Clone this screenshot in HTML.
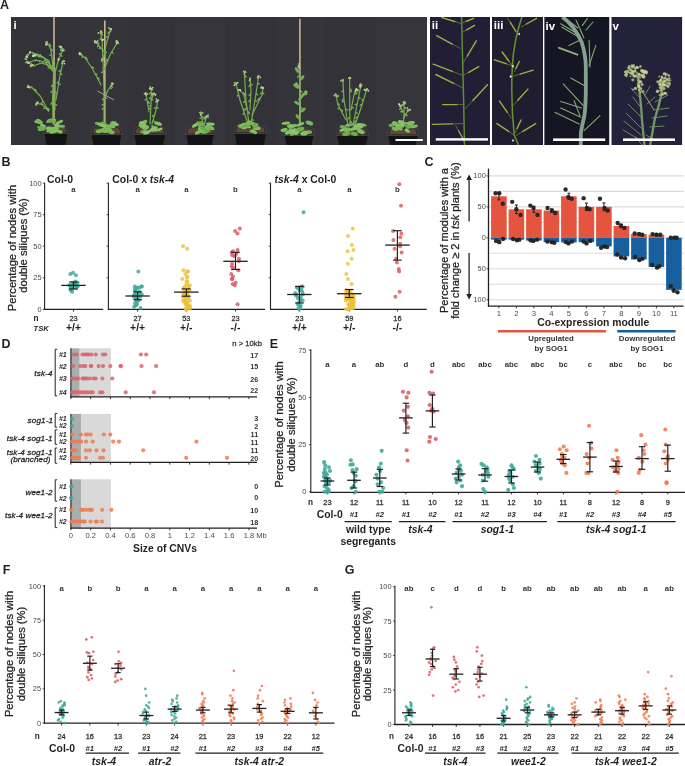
<!DOCTYPE html>
<html><head><meta charset="utf-8"><style>
html,body{margin:0;padding:0;background:#fff;width:685px;height:766px;overflow:hidden}
svg{display:block;filter:blur(0.3px)}
text{font-family:"Liberation Sans",sans-serif}
</style></head><body>
<svg width="685" height="766" viewBox="0 0 685 766">
<text x="0.00" y="9.20" font-size="12.5" font-weight="bold" fill="#231f20">A</text>
<defs><clipPath id="c1"><rect x="11" y="17" width="416" height="128"/></clipPath><clipPath id="c2"><rect x="430" y="17" width="60" height="128"/></clipPath><clipPath id="c3"><rect x="492" y="17" width="51" height="128"/></clipPath><clipPath id="c4"><rect x="544.2" y="17" width="65.3" height="128"/></clipPath><clipPath id="c5"><rect x="611.3" y="17" width="71" height="128"/></clipPath></defs>
<g clip-path="url(#c1)">
<rect x="11.00" y="17.00" width="416.00" height="128.00" fill="#333339"/>
<rect x="11.00" y="17.00" width="70.00" height="128.00" fill="#323238"/>
<rect x="81.00" y="17.00" width="47.00" height="128.00" fill="#34343a"/>
<rect x="128.00" y="17.00" width="47.00" height="128.00" fill="#323238"/>
<rect x="175.00" y="17.00" width="50.00" height="128.00" fill="#35353b"/>
<rect x="225.00" y="17.00" width="50.50" height="128.00" fill="#323238"/>
<rect x="275.50" y="17.00" width="50.50" height="128.00" fill="#34343a"/>
<rect x="326.00" y="17.00" width="50.00" height="128.00" fill="#323238"/>
<rect x="376.00" y="17.00" width="51.00" height="128.00" fill="#35353b"/>
<line x1="54.00" y1="17.00" x2="54.00" y2="124.40" stroke="#c9b68f" stroke-width="1.6"/>
<path d="M53.0 124.0 L52.5 100.0 L53.6 72.4 L48.6 60.6 L40.2 55.6 L30.1 52.3 L26.8 57.3" fill="none" stroke="#76ae50" stroke-width="1.2" stroke-linejoin="round" stroke-linecap="round"/>
<ellipse cx="54.0" cy="113.1" rx="1.5" ry="0.7" fill="#7ab257" transform="rotate(38 54.0 113.1)"/>
<ellipse cx="51.4" cy="103.5" rx="1.5" ry="0.7" fill="#7ab257" transform="rotate(-53 51.4 103.5)"/>
<ellipse cx="51.9" cy="85.9" rx="1.5" ry="0.7" fill="#7ab257" transform="rotate(-56 51.9 85.9)"/>
<ellipse cx="51.6" cy="91.6" rx="1.5" ry="0.7" fill="#7ab257" transform="rotate(-38 51.6 91.6)"/>
<ellipse cx="47.9" cy="61.9" rx="1.5" ry="0.7" fill="#7ab257" transform="rotate(-36 47.9 61.9)"/>
<ellipse cx="52.8" cy="67.7" rx="1.5" ry="0.7" fill="#7ab257" transform="rotate(46 52.8 67.7)"/>
<ellipse cx="42.2" cy="57.5" rx="1.5" ry="0.7" fill="#7ab257" transform="rotate(-35 42.2 57.5)"/>
<ellipse cx="40.4" cy="56.4" rx="1.5" ry="0.7" fill="#7ab257" transform="rotate(-58 40.4 56.4)"/>
<ellipse cx="37.1" cy="55.0" rx="1.5" ry="0.7" fill="#7ab257" transform="rotate(-36 37.1 55.0)"/>
<ellipse cx="33.5" cy="53.0" rx="1.5" ry="0.7" fill="#7ab257" transform="rotate(38 33.5 53.0)"/>
<ellipse cx="26.1" cy="56.5" rx="1.5" ry="0.7" fill="#7ab257" transform="rotate(-34 26.1 56.5)"/>
<ellipse cx="27.3" cy="54.8" rx="1.5" ry="0.7" fill="#7ab257" transform="rotate(-42 27.3 54.8)"/>
<circle cx="26.41" cy="59.46" r="0.9" fill="#a9cc86"/>
<circle cx="26.62" cy="56.63" r="0.9" fill="#a9cc86"/>
<circle cx="26.73" cy="57.29" r="0.9" fill="#8fbf68"/>
<circle cx="26.89" cy="56.42" r="0.9" fill="#c2d9a6"/>
<circle cx="25.21" cy="58.68" r="0.9" fill="#8fbf68"/>
<circle cx="27.26" cy="57.30" r="0.9" fill="#a9cc86"/>
<circle cx="38.47" cy="55.93" r="0.9" fill="#c2d9a6"/>
<circle cx="39.31" cy="56.09" r="0.9" fill="#a9cc86"/>
<circle cx="40.29" cy="55.12" r="0.9" fill="#a9cc86"/>
<circle cx="30.09" cy="52.33" r="0.9" fill="#c2d9a6"/>
<circle cx="30.11" cy="52.09" r="0.9" fill="#a9cc86"/>
<circle cx="30.09" cy="52.28" r="0.9" fill="#c2d9a6"/>
<path d="M53.6 72.4 L51.1 50.6 L48.6 44.7 L46.0 43.0" fill="none" stroke="#76ae50" stroke-width="1.2" stroke-linejoin="round" stroke-linecap="round"/>
<ellipse cx="50.4" cy="55.0" rx="1.5" ry="0.7" fill="#7ab257" transform="rotate(-33 50.4 55.0)"/>
<ellipse cx="51.9" cy="68.3" rx="1.5" ry="0.7" fill="#7ab257" transform="rotate(-21 51.9 68.3)"/>
<ellipse cx="50.4" cy="46.1" rx="1.5" ry="0.7" fill="#7ab257" transform="rotate(46 50.4 46.1)"/>
<ellipse cx="52.0" cy="49.9" rx="1.5" ry="0.7" fill="#7ab257" transform="rotate(60 52.0 49.9)"/>
<ellipse cx="49.8" cy="44.7" rx="1.5" ry="0.7" fill="#7ab257" transform="rotate(60 49.8 44.7)"/>
<ellipse cx="47.3" cy="44.7" rx="1.5" ry="0.7" fill="#7ab257" transform="rotate(-44 47.3 44.7)"/>
<circle cx="46.86" cy="41.88" r="0.9" fill="#a9cc86"/>
<circle cx="46.31" cy="43.08" r="0.9" fill="#c2d9a6"/>
<circle cx="45.91" cy="44.70" r="0.9" fill="#c2d9a6"/>
<circle cx="46.41" cy="42.26" r="0.9" fill="#a9cc86"/>
<circle cx="47.08" cy="43.69" r="0.9" fill="#a9cc86"/>
<circle cx="46.81" cy="43.08" r="0.9" fill="#8fbf68"/>
<path d="M55.0 110.0 L55.3 72.4 L58.6 59.0 L62.8 50.6 L61.0 47.0" fill="none" stroke="#76ae50" stroke-width="1.2" stroke-linejoin="round" stroke-linecap="round"/>
<ellipse cx="56.3" cy="93.0" rx="1.5" ry="0.7" fill="#7ab257" transform="rotate(53 56.3 93.0)"/>
<ellipse cx="56.2" cy="104.9" rx="1.5" ry="0.7" fill="#7ab257" transform="rotate(27 56.2 104.9)"/>
<ellipse cx="54.6" cy="70.3" rx="1.5" ry="0.7" fill="#7ab257" transform="rotate(-27 54.6 70.3)"/>
<ellipse cx="54.9" cy="69.1" rx="1.5" ry="0.7" fill="#7ab257" transform="rotate(-54 54.9 69.1)"/>
<ellipse cx="60.0" cy="53.7" rx="1.5" ry="0.7" fill="#7ab257" transform="rotate(-33 60.0 53.7)"/>
<ellipse cx="61.4" cy="55.7" rx="1.5" ry="0.7" fill="#7ab257" transform="rotate(44 61.4 55.7)"/>
<ellipse cx="60.8" cy="49.1" rx="1.5" ry="0.7" fill="#7ab257" transform="rotate(-56 60.8 49.1)"/>
<ellipse cx="63.1" cy="48.8" rx="1.5" ry="0.7" fill="#7ab257" transform="rotate(30 63.1 48.8)"/>
<circle cx="60.84" cy="46.46" r="0.9" fill="#8fbf68"/>
<circle cx="59.86" cy="47.06" r="0.9" fill="#8fbf68"/>
<circle cx="61.28" cy="46.96" r="0.9" fill="#c2d9a6"/>
<circle cx="59.25" cy="46.32" r="0.9" fill="#8fbf68"/>
<circle cx="61.42" cy="47.21" r="0.9" fill="#a9cc86"/>
<circle cx="61.00" cy="46.85" r="0.9" fill="#c2d9a6"/>
<circle cx="58.50" cy="59.04" r="0.9" fill="#a9cc86"/>
<circle cx="58.41" cy="59.94" r="0.9" fill="#a9cc86"/>
<circle cx="58.81" cy="59.14" r="0.9" fill="#c2d9a6"/>
<circle cx="63.97" cy="50.46" r="0.9" fill="#8fbf68"/>
<circle cx="61.11" cy="50.37" r="0.9" fill="#8fbf68"/>
<circle cx="62.83" cy="50.61" r="0.9" fill="#c2d9a6"/>
<path d="M56.0 100.0 L60.0 75.0 L63.0 62.0" fill="none" stroke="#76ae50" stroke-width="1.2" stroke-linejoin="round" stroke-linecap="round"/>
<ellipse cx="57.6" cy="82.5" rx="1.5" ry="0.7" fill="#7ab257" transform="rotate(-59 57.6 82.5)"/>
<ellipse cx="59.7" cy="84.1" rx="1.5" ry="0.7" fill="#7ab257" transform="rotate(23 59.7 84.1)"/>
<ellipse cx="59.7" cy="71.0" rx="1.5" ry="0.7" fill="#7ab257" transform="rotate(-20 59.7 71.0)"/>
<ellipse cx="61.4" cy="74.0" rx="1.5" ry="0.7" fill="#7ab257" transform="rotate(49 61.4 74.0)"/>
<circle cx="64.31" cy="61.05" r="0.9" fill="#8fbf68"/>
<circle cx="64.46" cy="63.54" r="0.9" fill="#c2d9a6"/>
<circle cx="62.10" cy="63.21" r="0.9" fill="#a9cc86"/>
<circle cx="63.63" cy="61.34" r="0.9" fill="#a9cc86"/>
<circle cx="63.82" cy="61.05" r="0.9" fill="#8fbf68"/>
<circle cx="62.56" cy="61.29" r="0.9" fill="#a9cc86"/>
<path d="M48.6 111.0 L40.2 96.0 L31.8 87.5 L28.4 86.7" fill="none" stroke="#76ae50" stroke-width="1.2" stroke-linejoin="round" stroke-linecap="round"/>
<ellipse cx="42.3" cy="101.9" rx="1.5" ry="0.7" fill="#7ab257" transform="rotate(-56 42.3 101.9)"/>
<ellipse cx="48.8" cy="109.3" rx="1.5" ry="0.7" fill="#7ab257" transform="rotate(55 48.8 109.3)"/>
<ellipse cx="35.3" cy="89.8" rx="1.5" ry="0.7" fill="#7ab257" transform="rotate(57 35.3 89.8)"/>
<ellipse cx="35.6" cy="90.1" rx="1.5" ry="0.7" fill="#7ab257" transform="rotate(38 35.6 90.1)"/>
<ellipse cx="27.7" cy="86.8" rx="1.5" ry="0.7" fill="#7ab257" transform="rotate(-39 27.7 86.8)"/>
<ellipse cx="31.3" cy="87.1" rx="1.5" ry="0.7" fill="#7ab257" transform="rotate(44 31.3 87.1)"/>
<circle cx="27.90" cy="86.76" r="0.9" fill="#8fbf68"/>
<circle cx="29.70" cy="87.82" r="0.9" fill="#8fbf68"/>
<circle cx="28.89" cy="86.43" r="0.9" fill="#a9cc86"/>
<circle cx="28.19" cy="86.93" r="0.9" fill="#8fbf68"/>
<circle cx="28.51" cy="87.06" r="0.9" fill="#c2d9a6"/>
<circle cx="27.88" cy="85.88" r="0.9" fill="#a9cc86"/>
<path d="M48.6 111.0 L41.9 104.3 L36.8 103.4" fill="none" stroke="#76ae50" stroke-width="1.2" stroke-linejoin="round" stroke-linecap="round"/>
<ellipse cx="47.6" cy="108.8" rx="1.5" ry="0.7" fill="#7ab257" transform="rotate(28 47.6 108.8)"/>
<ellipse cx="44.5" cy="108.1" rx="1.5" ry="0.7" fill="#7ab257" transform="rotate(-25 44.5 108.1)"/>
<ellipse cx="41.1" cy="104.0" rx="1.5" ry="0.7" fill="#7ab257" transform="rotate(28 41.1 104.0)"/>
<ellipse cx="42.4" cy="104.2" rx="1.5" ry="0.7" fill="#7ab257" transform="rotate(53 42.4 104.2)"/>
<circle cx="37.71" cy="102.13" r="0.9" fill="#c2d9a6"/>
<circle cx="36.91" cy="103.18" r="0.9" fill="#c2d9a6"/>
<circle cx="36.73" cy="103.87" r="0.9" fill="#c2d9a6"/>
<circle cx="35.95" cy="104.17" r="0.9" fill="#8fbf68"/>
<circle cx="36.06" cy="105.09" r="0.9" fill="#8fbf68"/>
<circle cx="36.64" cy="103.45" r="0.9" fill="#a9cc86"/>
<path d="M52.0 70.0 L45.0 62.0 L35.0 60.0 L28.0 63.0" fill="none" stroke="#76ae50" stroke-width="1.2" stroke-linejoin="round" stroke-linecap="round"/>
<ellipse cx="48.9" cy="67.8" rx="1.5" ry="0.7" fill="#7ab257" transform="rotate(-33 48.9 67.8)"/>
<ellipse cx="51.2" cy="67.8" rx="1.5" ry="0.7" fill="#7ab257" transform="rotate(32 51.2 67.8)"/>
<ellipse cx="35.9" cy="60.4" rx="1.5" ry="0.7" fill="#7ab257" transform="rotate(-34 35.9 60.4)"/>
<ellipse cx="39.7" cy="61.2" rx="1.5" ry="0.7" fill="#7ab257" transform="rotate(-59 39.7 61.2)"/>
<ellipse cx="28.0" cy="62.5" rx="1.5" ry="0.7" fill="#7ab257" transform="rotate(-29 28.0 62.5)"/>
<ellipse cx="28.2" cy="62.4" rx="1.5" ry="0.7" fill="#7ab257" transform="rotate(-42 28.2 62.4)"/>
<circle cx="27.01" cy="61.95" r="0.9" fill="#c2d9a6"/>
<circle cx="29.45" cy="62.61" r="0.9" fill="#a9cc86"/>
<circle cx="28.25" cy="62.50" r="0.9" fill="#8fbf68"/>
<circle cx="29.04" cy="63.07" r="0.9" fill="#8fbf68"/>
<circle cx="28.49" cy="63.11" r="0.9" fill="#c2d9a6"/>
<circle cx="25.98" cy="62.49" r="0.9" fill="#8fbf68"/>
<path d="M53.0 68.0 L44.0 58.0 L36.0 54.0 L33.0 56.0" fill="none" stroke="#76ae50" stroke-width="1.2" stroke-linejoin="round" stroke-linecap="round"/>
<ellipse cx="46.3" cy="61.9" rx="1.5" ry="0.7" fill="#7ab257" transform="rotate(-44 46.3 61.9)"/>
<ellipse cx="44.7" cy="60.1" rx="1.5" ry="0.7" fill="#7ab257" transform="rotate(-57 44.7 60.1)"/>
<ellipse cx="37.7" cy="54.3" rx="1.5" ry="0.7" fill="#7ab257" transform="rotate(25 37.7 54.3)"/>
<ellipse cx="39.2" cy="56.2" rx="1.5" ry="0.7" fill="#7ab257" transform="rotate(-45 39.2 56.2)"/>
<ellipse cx="35.5" cy="55.1" rx="1.5" ry="0.7" fill="#7ab257" transform="rotate(39 35.5 55.1)"/>
<ellipse cx="32.8" cy="55.3" rx="1.5" ry="0.7" fill="#7ab257" transform="rotate(-56 32.8 55.3)"/>
<circle cx="34.17" cy="54.69" r="0.9" fill="#8fbf68"/>
<circle cx="33.38" cy="56.37" r="0.9" fill="#c2d9a6"/>
<circle cx="35.13" cy="55.74" r="0.9" fill="#8fbf68"/>
<circle cx="35.03" cy="55.70" r="0.9" fill="#c2d9a6"/>
<circle cx="34.59" cy="54.99" r="0.9" fill="#c2d9a6"/>
<circle cx="32.92" cy="56.00" r="0.9" fill="#c2d9a6"/>
<path d="M50.0 66.0 L42.0 63.0 L32.0 66.0" fill="none" stroke="#76ae50" stroke-width="1.2" stroke-linejoin="round" stroke-linecap="round"/>
<ellipse cx="46.8" cy="64.3" rx="1.5" ry="0.7" fill="#7ab257" transform="rotate(39 46.8 64.3)"/>
<ellipse cx="48.6" cy="65.9" rx="1.5" ry="0.7" fill="#7ab257" transform="rotate(-43 48.6 65.9)"/>
<ellipse cx="42.8" cy="63.1" rx="1.5" ry="0.7" fill="#7ab257" transform="rotate(47 42.8 63.1)"/>
<ellipse cx="34.0" cy="65.7" rx="1.5" ry="0.7" fill="#7ab257" transform="rotate(26 34.0 65.7)"/>
<circle cx="30.42" cy="65.84" r="0.9" fill="#8fbf68"/>
<circle cx="31.23" cy="64.07" r="0.9" fill="#c2d9a6"/>
<circle cx="30.67" cy="65.28" r="0.9" fill="#a9cc86"/>
<circle cx="30.86" cy="66.46" r="0.9" fill="#8fbf68"/>
<circle cx="31.67" cy="65.86" r="0.9" fill="#8fbf68"/>
<circle cx="32.68" cy="64.98" r="0.9" fill="#c2d9a6"/>
<path d="M44.5 133.5 L67.4 133.5 L65.4 145 L46.5 145 Z" fill="#141417" stroke="none" stroke-width="1"/>
<path d="M45.5 126.0 L66.4 126.0 L68.4 133.5 L43.5 133.5 Z" fill="#2a292d" stroke="#4a494e" stroke-width="0.8"/>
<path d="M47.0 127.2 L64.9 127.2 L66.4 132.2 L45.5 132.2 Z" fill="#5e4738" stroke="none" stroke-width="1"/>
<ellipse cx="53.5" cy="131.5" rx="4.5" ry="1.8" fill="#82bf60" transform="rotate(-14 53.5 131.5)"/>
<ellipse cx="61.2" cy="126.3" rx="3.9" ry="1.5" fill="#79b858" transform="rotate(3 61.2 126.3)"/>
<ellipse cx="51.7" cy="120.3" rx="4.7" ry="1.7" fill="#79b858" transform="rotate(-7 51.7 120.3)"/>
<ellipse cx="48.8" cy="128.3" rx="2.9" ry="1.7" fill="#8cc46a" transform="rotate(-6 48.8 128.3)"/>
<ellipse cx="43.0" cy="125.7" rx="3.1" ry="1.6" fill="#8cc46a" transform="rotate(22 43.0 125.7)"/>
<ellipse cx="49.6" cy="121.3" rx="3.6" ry="1.3" fill="#79b858" transform="rotate(-17 49.6 121.3)"/>
<ellipse cx="36.9" cy="121.9" rx="2.8" ry="1.5" fill="#82bf60" transform="rotate(16 36.9 121.9)"/>
<ellipse cx="52.1" cy="121.3" rx="4.3" ry="1.4" fill="#6fac4c" transform="rotate(1 52.1 121.3)"/>
<ellipse cx="54.7" cy="128.4" rx="4.6" ry="1.3" fill="#82bf60" transform="rotate(9 54.7 128.4)"/>
<ellipse cx="50.0" cy="130.4" rx="3.9" ry="1.5" fill="#82bf60" transform="rotate(-20 50.0 130.4)"/>
<ellipse cx="42.0" cy="128.9" rx="4.4" ry="2.0" fill="#6fac4c" transform="rotate(-13 42.0 128.9)"/>
<ellipse cx="59.2" cy="122.3" rx="4.4" ry="1.5" fill="#82bf60" transform="rotate(-28 59.2 122.3)"/>
<ellipse cx="39.4" cy="121.1" rx="3.6" ry="1.6" fill="#82bf60" transform="rotate(31 39.4 121.1)"/>
<ellipse cx="41.2" cy="127.5" rx="4.4" ry="1.4" fill="#6fac4c" transform="rotate(5 41.2 127.5)"/>
<ellipse cx="59.7" cy="131.6" rx="3.0" ry="1.7" fill="#82bf60" transform="rotate(18 59.7 131.6)"/>
<ellipse cx="56.9" cy="125.8" rx="2.8" ry="1.9" fill="#8cc46a" transform="rotate(8 56.9 125.8)"/>
<ellipse cx="39.8" cy="122.2" rx="3.2" ry="2.0" fill="#79b858" transform="rotate(34 39.8 122.2)"/>
<line x1="104.80" y1="20.40" x2="104.80" y2="126.00" stroke="#c9b68f" stroke-width="1.6"/>
<path d="M104.0 125.0 L104.0 90.0 L103.0 60.0 L102.0 40.0 L100.6 33.0" fill="none" stroke="#76ae50" stroke-width="1.2" stroke-linejoin="round" stroke-linecap="round"/>
<ellipse cx="102.8" cy="104.7" rx="1.5" ry="0.7" fill="#7ab257" transform="rotate(-22 102.8 104.7)"/>
<ellipse cx="102.8" cy="108.8" rx="1.5" ry="0.7" fill="#7ab257" transform="rotate(-47 102.8 108.8)"/>
<ellipse cx="104.7" cy="76.0" rx="1.5" ry="0.7" fill="#7ab257" transform="rotate(37 104.7 76.0)"/>
<ellipse cx="102.2" cy="72.0" rx="1.5" ry="0.7" fill="#7ab257" transform="rotate(-35 102.2 72.0)"/>
<ellipse cx="101.8" cy="59.2" rx="1.5" ry="0.7" fill="#7ab257" transform="rotate(-53 101.8 59.2)"/>
<ellipse cx="103.7" cy="50.9" rx="1.5" ry="0.7" fill="#7ab257" transform="rotate(36 103.7 50.9)"/>
<ellipse cx="100.5" cy="38.6" rx="1.5" ry="0.7" fill="#7ab257" transform="rotate(-56 100.5 38.6)"/>
<ellipse cx="102.1" cy="34.5" rx="1.5" ry="0.7" fill="#7ab257" transform="rotate(56 102.1 34.5)"/>
<circle cx="101.09" cy="31.53" r="0.9" fill="#8fbf68"/>
<circle cx="101.76" cy="32.54" r="0.9" fill="#a9cc86"/>
<circle cx="98.44" cy="32.94" r="0.9" fill="#c2d9a6"/>
<circle cx="100.55" cy="33.25" r="0.9" fill="#8fbf68"/>
<circle cx="100.91" cy="31.24" r="0.9" fill="#c2d9a6"/>
<circle cx="101.09" cy="33.54" r="0.9" fill="#8fbf68"/>
<circle cx="102.53" cy="58.70" r="0.9" fill="#a9cc86"/>
<circle cx="101.92" cy="60.73" r="0.9" fill="#a9cc86"/>
<circle cx="103.16" cy="59.48" r="0.9" fill="#a9cc86"/>
<circle cx="102.64" cy="40.04" r="0.9" fill="#8fbf68"/>
<circle cx="102.07" cy="39.95" r="0.9" fill="#c2d9a6"/>
<circle cx="103.13" cy="39.59" r="0.9" fill="#c2d9a6"/>
<path d="M103.0 60.0 L106.0 45.0 L110.7 28.8" fill="none" stroke="#76ae50" stroke-width="1.2" stroke-linejoin="round" stroke-linecap="round"/>
<ellipse cx="104.8" cy="56.8" rx="1.5" ry="0.7" fill="#7ab257" transform="rotate(43 104.8 56.8)"/>
<ellipse cx="105.8" cy="52.0" rx="1.5" ry="0.7" fill="#7ab257" transform="rotate(41 105.8 52.0)"/>
<ellipse cx="107.1" cy="36.9" rx="1.5" ry="0.7" fill="#7ab257" transform="rotate(-32 107.1 36.9)"/>
<ellipse cx="108.4" cy="32.7" rx="1.5" ry="0.7" fill="#7ab257" transform="rotate(-55 108.4 32.7)"/>
<circle cx="111.11" cy="29.13" r="0.9" fill="#c2d9a6"/>
<circle cx="110.61" cy="28.86" r="0.9" fill="#a9cc86"/>
<circle cx="110.69" cy="28.78" r="0.9" fill="#c2d9a6"/>
<circle cx="110.69" cy="30.79" r="0.9" fill="#8fbf68"/>
<circle cx="109.81" cy="28.57" r="0.9" fill="#8fbf68"/>
<circle cx="108.71" cy="27.89" r="0.9" fill="#8fbf68"/>
<path d="M104.0 70.0 L110.0 55.0 L117.4 42.2" fill="none" stroke="#76ae50" stroke-width="1.2" stroke-linejoin="round" stroke-linecap="round"/>
<ellipse cx="105.5" cy="63.3" rx="1.5" ry="0.7" fill="#7ab257" transform="rotate(-38 105.5 63.3)"/>
<ellipse cx="106.8" cy="60.0" rx="1.5" ry="0.7" fill="#7ab257" transform="rotate(-45 106.8 60.0)"/>
<ellipse cx="118.1" cy="43.0" rx="1.5" ry="0.7" fill="#7ab257" transform="rotate(39 118.1 43.0)"/>
<ellipse cx="112.5" cy="52.8" rx="1.5" ry="0.7" fill="#7ab257" transform="rotate(42 112.5 52.8)"/>
<circle cx="116.62" cy="41.66" r="0.9" fill="#c2d9a6"/>
<circle cx="116.38" cy="42.75" r="0.9" fill="#8fbf68"/>
<circle cx="116.95" cy="43.28" r="0.9" fill="#c2d9a6"/>
<circle cx="116.71" cy="41.18" r="0.9" fill="#c2d9a6"/>
<circle cx="116.55" cy="40.79" r="0.9" fill="#a9cc86"/>
<circle cx="117.94" cy="42.25" r="0.9" fill="#a9cc86"/>
<path d="M101.0 85.0 L92.0 68.0 L85.0 58.0 L79.6 53.1" fill="none" stroke="#76ae50" stroke-width="1.2" stroke-linejoin="round" stroke-linecap="round"/>
<ellipse cx="96.5" cy="74.2" rx="1.5" ry="0.7" fill="#7ab257" transform="rotate(50 96.5 74.2)"/>
<ellipse cx="98.7" cy="78.4" rx="1.5" ry="0.7" fill="#7ab257" transform="rotate(50 98.7 78.4)"/>
<ellipse cx="92.8" cy="67.5" rx="1.5" ry="0.7" fill="#7ab257" transform="rotate(23 92.8 67.5)"/>
<ellipse cx="86.9" cy="58.9" rx="1.5" ry="0.7" fill="#7ab257" transform="rotate(49 86.9 58.9)"/>
<ellipse cx="82.4" cy="56.8" rx="1.5" ry="0.7" fill="#7ab257" transform="rotate(-58 82.4 56.8)"/>
<ellipse cx="85.7" cy="57.5" rx="1.5" ry="0.7" fill="#7ab257" transform="rotate(26 85.7 57.5)"/>
<circle cx="80.12" cy="52.97" r="0.9" fill="#8fbf68"/>
<circle cx="80.63" cy="54.01" r="0.9" fill="#c2d9a6"/>
<circle cx="81.00" cy="54.38" r="0.9" fill="#c2d9a6"/>
<circle cx="79.33" cy="53.05" r="0.9" fill="#c2d9a6"/>
<circle cx="80.19" cy="53.81" r="0.9" fill="#8fbf68"/>
<circle cx="79.50" cy="54.38" r="0.9" fill="#c2d9a6"/>
<path d="M103.0 50.0 L98.0 45.0 L96.0 42.0" fill="none" stroke="#76ae50" stroke-width="1.2" stroke-linejoin="round" stroke-linecap="round"/>
<ellipse cx="100.0" cy="48.2" rx="1.5" ry="0.7" fill="#7ab257" transform="rotate(-22 100.0 48.2)"/>
<ellipse cx="98.1" cy="46.3" rx="1.5" ry="0.7" fill="#7ab257" transform="rotate(-41 98.1 46.3)"/>
<ellipse cx="98.2" cy="43.5" rx="1.5" ry="0.7" fill="#7ab257" transform="rotate(51 98.2 43.5)"/>
<ellipse cx="98.0" cy="43.1" rx="1.5" ry="0.7" fill="#7ab257" transform="rotate(31 98.0 43.1)"/>
<circle cx="94.77" cy="40.98" r="0.9" fill="#8fbf68"/>
<circle cx="94.83" cy="41.24" r="0.9" fill="#a9cc86"/>
<circle cx="96.20" cy="42.51" r="0.9" fill="#8fbf68"/>
<circle cx="97.67" cy="41.02" r="0.9" fill="#a9cc86"/>
<circle cx="95.99" cy="41.98" r="0.9" fill="#c2d9a6"/>
<circle cx="94.78" cy="42.62" r="0.9" fill="#a9cc86"/>
<path d="M104.0 100.0 L108.0 90.0 L112.0 85.0" fill="none" stroke="#76ae50" stroke-width="1.2" stroke-linejoin="round" stroke-linecap="round"/>
<ellipse cx="106.1" cy="97.8" rx="1.5" ry="0.7" fill="#7ab257" transform="rotate(23 106.1 97.8)"/>
<ellipse cx="103.1" cy="99.1" rx="1.5" ry="0.7" fill="#7ab257" transform="rotate(-38 103.1 99.1)"/>
<ellipse cx="111.7" cy="86.8" rx="1.5" ry="0.7" fill="#7ab257" transform="rotate(39 111.7 86.8)"/>
<ellipse cx="110.6" cy="88.2" rx="1.5" ry="0.7" fill="#7ab257" transform="rotate(34 110.6 88.2)"/>
<circle cx="111.94" cy="83.16" r="0.9" fill="#a9cc86"/>
<circle cx="112.32" cy="84.07" r="0.9" fill="#8fbf68"/>
<circle cx="112.89" cy="83.56" r="0.9" fill="#c2d9a6"/>
<circle cx="111.50" cy="85.26" r="0.9" fill="#a9cc86"/>
<circle cx="111.02" cy="86.05" r="0.9" fill="#8fbf68"/>
<circle cx="111.45" cy="86.07" r="0.9" fill="#8fbf68"/>
<line x1="97.30" y1="90.90" x2="114.00" y2="100.00" stroke="#a9a9b2" stroke-width="0.9"/>
<path d="M91.5 134.5 L121.4 134.5 L119.4 145 L93.5 145 Z" fill="#141417" stroke="none" stroke-width="1"/>
<path d="M92.5 127.0 L120.4 127.0 L122.4 134.5 L90.5 134.5 Z" fill="#2a292d" stroke="#4a494e" stroke-width="0.8"/>
<path d="M94.0 128.2 L118.9 128.2 L120.4 133.2 L92.5 133.2 Z" fill="#5e4738" stroke="none" stroke-width="1"/>
<ellipse cx="113.5" cy="124.8" rx="4.1" ry="1.8" fill="#6fac4c" transform="rotate(-3 113.5 124.8)"/>
<ellipse cx="98.6" cy="123.8" rx="3.9" ry="1.7" fill="#6fac4c" transform="rotate(13 98.6 123.8)"/>
<ellipse cx="113.5" cy="123.1" rx="3.4" ry="2.0" fill="#6fac4c" transform="rotate(7 113.5 123.1)"/>
<ellipse cx="106.9" cy="130.6" rx="3.5" ry="2.0" fill="#6fac4c" transform="rotate(-20 106.9 130.6)"/>
<ellipse cx="104.3" cy="124.2" rx="4.2" ry="1.8" fill="#6fac4c" transform="rotate(29 104.3 124.2)"/>
<ellipse cx="105.8" cy="131.0" rx="3.4" ry="1.6" fill="#82bf60" transform="rotate(-7 105.8 131.0)"/>
<ellipse cx="98.7" cy="131.3" rx="2.8" ry="1.8" fill="#82bf60" transform="rotate(6 98.7 131.3)"/>
<ellipse cx="111.8" cy="126.7" rx="3.6" ry="1.4" fill="#82bf60" transform="rotate(6 111.8 126.7)"/>
<ellipse cx="100.5" cy="130.6" rx="4.6" ry="1.5" fill="#79b858" transform="rotate(-33 100.5 130.6)"/>
<ellipse cx="107.9" cy="128.7" rx="4.7" ry="1.8" fill="#79b858" transform="rotate(21 107.9 128.7)"/>
<ellipse cx="108.6" cy="126.1" rx="3.9" ry="1.6" fill="#79b858" transform="rotate(-16 108.6 126.1)"/>
<ellipse cx="115.0" cy="123.8" rx="4.1" ry="1.4" fill="#8cc46a" transform="rotate(17 115.0 123.8)"/>
<ellipse cx="101.9" cy="125.2" rx="4.3" ry="1.7" fill="#8cc46a" transform="rotate(19 101.9 125.2)"/>
<ellipse cx="104.0" cy="131.1" rx="3.5" ry="1.4" fill="#79b858" transform="rotate(-1 104.0 131.1)"/>
<ellipse cx="111.2" cy="132.1" rx="3.6" ry="2.0" fill="#79b858" transform="rotate(12 111.2 132.1)"/>
<path d="M150.0 124.0 L151.0 105.0 L151.3 88.5" fill="none" stroke="#76ae50" stroke-width="1.2" stroke-linejoin="round" stroke-linecap="round"/>
<ellipse cx="149.6" cy="108.7" rx="1.5" ry="0.7" fill="#7ab257" transform="rotate(-24 149.6 108.7)"/>
<ellipse cx="149.8" cy="105.8" rx="1.5" ry="0.7" fill="#7ab257" transform="rotate(-39 149.8 105.8)"/>
<ellipse cx="150.0" cy="93.3" rx="1.5" ry="0.7" fill="#7ab257" transform="rotate(-43 150.0 93.3)"/>
<ellipse cx="149.9" cy="98.1" rx="1.5" ry="0.7" fill="#7ab257" transform="rotate(-50 149.9 98.1)"/>
<circle cx="152.03" cy="89.69" r="0.9" fill="#8fbf68"/>
<circle cx="151.52" cy="88.89" r="0.9" fill="#c2d9a6"/>
<circle cx="150.71" cy="88.39" r="0.9" fill="#a9cc86"/>
<circle cx="149.72" cy="88.79" r="0.9" fill="#c2d9a6"/>
<circle cx="150.28" cy="87.13" r="0.9" fill="#a9cc86"/>
<circle cx="152.71" cy="87.63" r="0.9" fill="#a9cc86"/>
<path d="M152.0 124.0 L156.0 110.0 L157.8 100.5" fill="none" stroke="#76ae50" stroke-width="1.2" stroke-linejoin="round" stroke-linecap="round"/>
<ellipse cx="153.1" cy="115.8" rx="1.5" ry="0.7" fill="#7ab257" transform="rotate(-47 153.1 115.8)"/>
<ellipse cx="154.0" cy="121.2" rx="1.5" ry="0.7" fill="#7ab257" transform="rotate(29 154.0 121.2)"/>
<ellipse cx="157.6" cy="107.8" rx="1.5" ry="0.7" fill="#7ab257" transform="rotate(44 157.6 107.8)"/>
<ellipse cx="155.2" cy="107.9" rx="1.5" ry="0.7" fill="#7ab257" transform="rotate(-24 155.2 107.9)"/>
<circle cx="156.16" cy="101.65" r="0.9" fill="#c2d9a6"/>
<circle cx="156.35" cy="99.02" r="0.9" fill="#8fbf68"/>
<circle cx="157.23" cy="100.57" r="0.9" fill="#c2d9a6"/>
<circle cx="158.45" cy="100.11" r="0.9" fill="#8fbf68"/>
<circle cx="157.83" cy="100.30" r="0.9" fill="#a9cc86"/>
<circle cx="157.41" cy="100.78" r="0.9" fill="#a9cc86"/>
<path d="M149.0 112.0 L147.0 100.0 L146.0 93.0" fill="none" stroke="#76ae50" stroke-width="1.2" stroke-linejoin="round" stroke-linecap="round"/>
<ellipse cx="148.6" cy="102.4" rx="1.5" ry="0.7" fill="#7ab257" transform="rotate(59 148.6 102.4)"/>
<ellipse cx="148.6" cy="102.5" rx="1.5" ry="0.7" fill="#7ab257" transform="rotate(52 148.6 102.5)"/>
<ellipse cx="145.7" cy="99.6" rx="1.5" ry="0.7" fill="#7ab257" transform="rotate(-24 145.7 99.6)"/>
<ellipse cx="147.3" cy="93.9" rx="1.5" ry="0.7" fill="#7ab257" transform="rotate(38 147.3 93.9)"/>
<circle cx="146.02" cy="93.93" r="0.9" fill="#a9cc86"/>
<circle cx="144.53" cy="93.86" r="0.9" fill="#a9cc86"/>
<circle cx="145.89" cy="94.91" r="0.9" fill="#8fbf68"/>
<circle cx="147.11" cy="94.20" r="0.9" fill="#8fbf68"/>
<circle cx="145.88" cy="94.17" r="0.9" fill="#a9cc86"/>
<circle cx="145.65" cy="92.83" r="0.9" fill="#a9cc86"/>
<path d="M151.0 100.0 L154.0 94.0" fill="none" stroke="#76ae50" stroke-width="1.2" stroke-linejoin="round" stroke-linecap="round"/>
<ellipse cx="152.3" cy="95.1" rx="1.5" ry="0.7" fill="#7ab257" transform="rotate(-27 152.3 95.1)"/>
<ellipse cx="152.4" cy="99.5" rx="1.5" ry="0.7" fill="#7ab257" transform="rotate(45 152.4 99.5)"/>
<circle cx="152.07" cy="93.66" r="0.9" fill="#8fbf68"/>
<circle cx="151.94" cy="94.41" r="0.9" fill="#8fbf68"/>
<circle cx="152.93" cy="93.70" r="0.9" fill="#a9cc86"/>
<circle cx="154.22" cy="93.11" r="0.9" fill="#8fbf68"/>
<circle cx="155.53" cy="94.98" r="0.9" fill="#a9cc86"/>
<circle cx="154.88" cy="94.21" r="0.9" fill="#c2d9a6"/>
<path d="M134.3 134.5 L165.2 134.5 L163.2 145 L136.3 145 Z" fill="#141417" stroke="none" stroke-width="1"/>
<path d="M135.3 127.0 L164.2 127.0 L166.2 134.5 L133.3 134.5 Z" fill="#2a292d" stroke="#4a494e" stroke-width="0.8"/>
<path d="M136.8 128.2 L162.7 128.2 L164.2 133.2 L135.3 133.2 Z" fill="#5e4738" stroke="none" stroke-width="1"/>
<ellipse cx="143.2" cy="131.2" rx="3.4" ry="1.5" fill="#6fac4c" transform="rotate(-30 143.2 131.2)"/>
<ellipse cx="159.9" cy="129.3" rx="2.9" ry="1.4" fill="#8cc46a" transform="rotate(-25 159.9 129.3)"/>
<ellipse cx="153.5" cy="130.2" rx="4.4" ry="1.4" fill="#8cc46a" transform="rotate(-4 153.5 130.2)"/>
<ellipse cx="154.2" cy="127.2" rx="3.4" ry="1.4" fill="#82bf60" transform="rotate(19 154.2 127.2)"/>
<ellipse cx="158.0" cy="123.7" rx="4.1" ry="2.0" fill="#6fac4c" transform="rotate(17 158.0 123.7)"/>
<ellipse cx="155.1" cy="128.1" rx="3.0" ry="1.5" fill="#79b858" transform="rotate(-9 155.1 128.1)"/>
<ellipse cx="146.6" cy="132.4" rx="3.9" ry="1.9" fill="#8cc46a" transform="rotate(-12 146.6 132.4)"/>
<ellipse cx="141.8" cy="123.5" rx="3.0" ry="1.8" fill="#82bf60" transform="rotate(15 141.8 123.5)"/>
<ellipse cx="143.9" cy="122.4" rx="3.7" ry="1.9" fill="#79b858" transform="rotate(-28 143.9 122.4)"/>
<ellipse cx="143.1" cy="123.4" rx="3.6" ry="1.4" fill="#8cc46a" transform="rotate(29 143.1 123.4)"/>
<ellipse cx="158.5" cy="123.5" rx="3.2" ry="1.4" fill="#8cc46a" transform="rotate(13 158.5 123.5)"/>
<ellipse cx="146.6" cy="126.5" rx="2.8" ry="1.6" fill="#82bf60" transform="rotate(14 146.6 126.5)"/>
<ellipse cx="153.2" cy="128.7" rx="2.8" ry="1.6" fill="#8cc46a" transform="rotate(-11 153.2 128.7)"/>
<ellipse cx="142.1" cy="126.2" rx="3.8" ry="1.9" fill="#82bf60" transform="rotate(23 142.1 126.2)"/>
<ellipse cx="145.1" cy="127.9" rx="3.4" ry="1.5" fill="#82bf60" transform="rotate(8 145.1 127.9)"/>
<path d="M203.0 128.0 L202.0 118.0 L201.0 113.0" fill="none" stroke="#76ae50" stroke-width="1.2" stroke-linejoin="round" stroke-linecap="round"/>
<ellipse cx="201.2" cy="122.3" rx="1.5" ry="0.7" fill="#7ab257" transform="rotate(-21 201.2 122.3)"/>
<ellipse cx="201.3" cy="122.8" rx="1.5" ry="0.7" fill="#7ab257" transform="rotate(-37 201.3 122.8)"/>
<ellipse cx="200.8" cy="117.9" rx="1.5" ry="0.7" fill="#7ab257" transform="rotate(-29 200.8 117.9)"/>
<ellipse cx="203.1" cy="117.3" rx="1.5" ry="0.7" fill="#7ab257" transform="rotate(43 203.1 117.3)"/>
<circle cx="200.76" cy="112.32" r="0.9" fill="#c2d9a6"/>
<circle cx="200.80" cy="114.93" r="0.9" fill="#c2d9a6"/>
<circle cx="201.29" cy="112.95" r="0.9" fill="#8fbf68"/>
<circle cx="199.81" cy="112.67" r="0.9" fill="#8fbf68"/>
<circle cx="201.32" cy="112.81" r="0.9" fill="#8fbf68"/>
<circle cx="202.80" cy="112.91" r="0.9" fill="#8fbf68"/>
<path d="M204.0 126.0 L206.0 118.0 L207.0 116.0" fill="none" stroke="#76ae50" stroke-width="1.2" stroke-linejoin="round" stroke-linecap="round"/>
<ellipse cx="203.1" cy="124.8" rx="1.5" ry="0.7" fill="#7ab257" transform="rotate(-48 203.1 124.8)"/>
<ellipse cx="204.6" cy="118.8" rx="1.5" ry="0.7" fill="#7ab257" transform="rotate(-30 204.6 118.8)"/>
<ellipse cx="205.2" cy="117.3" rx="1.5" ry="0.7" fill="#7ab257" transform="rotate(-53 205.2 117.3)"/>
<ellipse cx="205.3" cy="116.9" rx="1.5" ry="0.7" fill="#7ab257" transform="rotate(-42 205.3 116.9)"/>
<circle cx="205.59" cy="116.98" r="0.9" fill="#8fbf68"/>
<circle cx="208.07" cy="117.27" r="0.9" fill="#8fbf68"/>
<circle cx="208.13" cy="115.25" r="0.9" fill="#8fbf68"/>
<circle cx="207.01" cy="115.97" r="0.9" fill="#a9cc86"/>
<circle cx="206.94" cy="116.04" r="0.9" fill="#8fbf68"/>
<circle cx="206.05" cy="116.82" r="0.9" fill="#a9cc86"/>
<path d="M186.2 134.5 L213.8 134.5 L211.8 145 L188.2 145 Z" fill="#141417" stroke="none" stroke-width="1"/>
<path d="M187.2 127.0 L212.8 127.0 L214.8 134.5 L185.2 134.5 Z" fill="#2a292d" stroke="#4a494e" stroke-width="0.8"/>
<path d="M188.7 128.2 L211.3 128.2 L212.8 133.2 L187.2 133.2 Z" fill="#5e4738" stroke="none" stroke-width="1"/>
<ellipse cx="200.7" cy="124.3" rx="3.3" ry="2.0" fill="#79b858" transform="rotate(-31 200.7 124.3)"/>
<ellipse cx="207.3" cy="130.9" rx="3.6" ry="1.7" fill="#6fac4c" transform="rotate(-28 207.3 130.9)"/>
<ellipse cx="202.0" cy="129.2" rx="4.2" ry="1.9" fill="#8cc46a" transform="rotate(18 202.0 129.2)"/>
<ellipse cx="210.1" cy="127.6" rx="4.6" ry="1.9" fill="#79b858" transform="rotate(23 210.1 127.6)"/>
<ellipse cx="204.6" cy="132.1" rx="3.9" ry="1.7" fill="#79b858" transform="rotate(-5 204.6 132.1)"/>
<ellipse cx="200.5" cy="123.5" rx="4.3" ry="2.0" fill="#6fac4c" transform="rotate(16 200.5 123.5)"/>
<ellipse cx="207.8" cy="126.0" rx="4.0" ry="1.4" fill="#8cc46a" transform="rotate(-26 207.8 126.0)"/>
<ellipse cx="199.1" cy="131.7" rx="4.7" ry="1.7" fill="#82bf60" transform="rotate(-28 199.1 131.7)"/>
<ellipse cx="204.3" cy="129.6" rx="4.7" ry="2.0" fill="#6fac4c" transform="rotate(35 204.3 129.6)"/>
<ellipse cx="209.7" cy="127.2" rx="4.4" ry="1.5" fill="#79b858" transform="rotate(17 209.7 127.2)"/>
<ellipse cx="210.4" cy="124.0" rx="4.4" ry="1.4" fill="#8cc46a" transform="rotate(3 210.4 124.0)"/>
<ellipse cx="195.0" cy="125.4" rx="3.4" ry="1.6" fill="#8cc46a" transform="rotate(-31 195.0 125.4)"/>
<ellipse cx="208.9" cy="127.0" rx="3.5" ry="1.8" fill="#79b858" transform="rotate(-32 208.9 127.0)"/>
<path d="M249.0 124.0 L246.0 100.0 L244.3 72.0" fill="none" stroke="#76ae50" stroke-width="1.2" stroke-linejoin="round" stroke-linecap="round"/>
<ellipse cx="248.8" cy="113.1" rx="1.5" ry="0.7" fill="#7ab257" transform="rotate(32 248.8 113.1)"/>
<ellipse cx="248.7" cy="112.0" rx="1.5" ry="0.7" fill="#7ab257" transform="rotate(55 248.7 112.0)"/>
<ellipse cx="244.5" cy="94.3" rx="1.5" ry="0.7" fill="#7ab257" transform="rotate(-52 244.5 94.3)"/>
<ellipse cx="245.8" cy="76.5" rx="1.5" ry="0.7" fill="#7ab257" transform="rotate(56 245.8 76.5)"/>
<circle cx="245.69" cy="72.14" r="0.9" fill="#8fbf68"/>
<circle cx="244.74" cy="71.99" r="0.9" fill="#8fbf68"/>
<circle cx="244.48" cy="74.08" r="0.9" fill="#a9cc86"/>
<circle cx="243.90" cy="71.45" r="0.9" fill="#c2d9a6"/>
<circle cx="244.88" cy="71.86" r="0.9" fill="#c2d9a6"/>
<circle cx="244.23" cy="71.71" r="0.9" fill="#8fbf68"/>
<path d="M251.0 124.0 L255.0 100.0 L258.6 76.4" fill="none" stroke="#76ae50" stroke-width="1.2" stroke-linejoin="round" stroke-linecap="round"/>
<ellipse cx="256.0" cy="101.0" rx="1.5" ry="0.7" fill="#7ab257" transform="rotate(37 256.0 101.0)"/>
<ellipse cx="252.9" cy="119.9" rx="1.5" ry="0.7" fill="#7ab257" transform="rotate(25 252.9 119.9)"/>
<ellipse cx="258.7" cy="83.7" rx="1.5" ry="0.7" fill="#7ab257" transform="rotate(27 258.7 83.7)"/>
<ellipse cx="257.0" cy="94.4" rx="1.5" ry="0.7" fill="#7ab257" transform="rotate(52 257.0 94.4)"/>
<circle cx="257.59" cy="77.45" r="0.9" fill="#a9cc86"/>
<circle cx="258.17" cy="76.13" r="0.9" fill="#c2d9a6"/>
<circle cx="258.91" cy="76.16" r="0.9" fill="#a9cc86"/>
<circle cx="258.36" cy="77.79" r="0.9" fill="#a9cc86"/>
<circle cx="258.44" cy="76.44" r="0.9" fill="#8fbf68"/>
<circle cx="260.39" cy="77.29" r="0.9" fill="#a9cc86"/>
<path d="M248.0 124.0 L240.0 100.0 L236.0 84.0" fill="none" stroke="#76ae50" stroke-width="1.2" stroke-linejoin="round" stroke-linecap="round"/>
<ellipse cx="244.4" cy="109.6" rx="1.5" ry="0.7" fill="#7ab257" transform="rotate(41 244.4 109.6)"/>
<ellipse cx="243.4" cy="113.8" rx="1.5" ry="0.7" fill="#7ab257" transform="rotate(-53 243.4 113.8)"/>
<ellipse cx="234.8" cy="84.2" rx="1.5" ry="0.7" fill="#7ab257" transform="rotate(-50 234.8 84.2)"/>
<ellipse cx="237.7" cy="95.5" rx="1.5" ry="0.7" fill="#7ab257" transform="rotate(-53 237.7 95.5)"/>
<circle cx="237.73" cy="82.69" r="0.9" fill="#a9cc86"/>
<circle cx="234.55" cy="82.60" r="0.9" fill="#8fbf68"/>
<circle cx="234.47" cy="85.35" r="0.9" fill="#c2d9a6"/>
<circle cx="236.13" cy="84.05" r="0.9" fill="#8fbf68"/>
<circle cx="236.60" cy="83.62" r="0.9" fill="#c2d9a6"/>
<circle cx="236.23" cy="82.89" r="0.9" fill="#8fbf68"/>
<path d="M252.0 115.0 L262.0 95.0 L263.0 88.0" fill="none" stroke="#76ae50" stroke-width="1.2" stroke-linejoin="round" stroke-linecap="round"/>
<ellipse cx="259.1" cy="98.5" rx="1.5" ry="0.7" fill="#7ab257" transform="rotate(-36 259.1 98.5)"/>
<ellipse cx="258.5" cy="99.6" rx="1.5" ry="0.7" fill="#7ab257" transform="rotate(-36 258.5 99.6)"/>
<ellipse cx="263.4" cy="93.4" rx="1.5" ry="0.7" fill="#7ab257" transform="rotate(42 263.4 93.4)"/>
<ellipse cx="261.1" cy="93.2" rx="1.5" ry="0.7" fill="#7ab257" transform="rotate(-50 261.1 93.2)"/>
<circle cx="261.20" cy="87.49" r="0.9" fill="#8fbf68"/>
<circle cx="262.92" cy="88.00" r="0.9" fill="#8fbf68"/>
<circle cx="263.11" cy="87.98" r="0.9" fill="#c2d9a6"/>
<circle cx="263.28" cy="87.72" r="0.9" fill="#a9cc86"/>
<circle cx="261.96" cy="87.16" r="0.9" fill="#c2d9a6"/>
<circle cx="261.41" cy="87.96" r="0.9" fill="#a9cc86"/>
<path d="M247.0 110.0 L244.0 95.0 L240.0 90.0" fill="none" stroke="#76ae50" stroke-width="1.2" stroke-linejoin="round" stroke-linecap="round"/>
<ellipse cx="245.6" cy="108.9" rx="1.5" ry="0.7" fill="#7ab257" transform="rotate(-37 245.6 108.9)"/>
<ellipse cx="244.2" cy="101.9" rx="1.5" ry="0.7" fill="#7ab257" transform="rotate(-35 244.2 101.9)"/>
<ellipse cx="245.0" cy="94.7" rx="1.5" ry="0.7" fill="#7ab257" transform="rotate(22 245.0 94.7)"/>
<ellipse cx="243.9" cy="93.4" rx="1.5" ry="0.7" fill="#7ab257" transform="rotate(51 243.9 93.4)"/>
<circle cx="238.57" cy="90.02" r="0.9" fill="#8fbf68"/>
<circle cx="240.27" cy="90.49" r="0.9" fill="#a9cc86"/>
<circle cx="238.55" cy="90.03" r="0.9" fill="#8fbf68"/>
<circle cx="240.03" cy="89.87" r="0.9" fill="#c2d9a6"/>
<circle cx="238.50" cy="90.32" r="0.9" fill="#8fbf68"/>
<circle cx="240.09" cy="89.98" r="0.9" fill="#c2d9a6"/>
<path d="M250.0 110.0 L251.0 90.0 L250.0 80.0" fill="none" stroke="#76ae50" stroke-width="1.2" stroke-linejoin="round" stroke-linecap="round"/>
<ellipse cx="249.6" cy="94.9" rx="1.5" ry="0.7" fill="#7ab257" transform="rotate(-54 249.6 94.9)"/>
<ellipse cx="249.3" cy="100.9" rx="1.5" ry="0.7" fill="#7ab257" transform="rotate(-60 249.3 100.9)"/>
<ellipse cx="249.4" cy="85.9" rx="1.5" ry="0.7" fill="#7ab257" transform="rotate(-56 249.4 85.9)"/>
<ellipse cx="251.6" cy="84.4" rx="1.5" ry="0.7" fill="#7ab257" transform="rotate(37 251.6 84.4)"/>
<circle cx="250.07" cy="80.03" r="0.9" fill="#8fbf68"/>
<circle cx="250.13" cy="78.39" r="0.9" fill="#a9cc86"/>
<circle cx="249.93" cy="80.25" r="0.9" fill="#a9cc86"/>
<circle cx="249.84" cy="80.09" r="0.9" fill="#a9cc86"/>
<circle cx="249.51" cy="80.56" r="0.9" fill="#8fbf68"/>
<circle cx="250.07" cy="80.35" r="0.9" fill="#8fbf68"/>
<path d="M234.8 133.5 L265.9 133.5 L263.9 145 L236.8 145 Z" fill="#141417" stroke="none" stroke-width="1"/>
<path d="M235.8 126.0 L264.9 126.0 L266.9 133.5 L233.8 133.5 Z" fill="#2a292d" stroke="#4a494e" stroke-width="0.8"/>
<path d="M237.3 127.2 L263.4 127.2 L264.9 132.2 L235.8 132.2 Z" fill="#5e4738" stroke="none" stroke-width="1"/>
<ellipse cx="250.6" cy="122.6" rx="3.5" ry="1.9" fill="#82bf60" transform="rotate(26 250.6 122.6)"/>
<ellipse cx="246.7" cy="125.9" rx="4.5" ry="1.6" fill="#82bf60" transform="rotate(20 246.7 125.9)"/>
<ellipse cx="245.8" cy="124.5" rx="4.4" ry="1.9" fill="#8cc46a" transform="rotate(-1 245.8 124.5)"/>
<ellipse cx="241.5" cy="126.7" rx="3.4" ry="1.7" fill="#82bf60" transform="rotate(35 241.5 126.7)"/>
<ellipse cx="255.1" cy="124.0" rx="3.6" ry="1.4" fill="#6fac4c" transform="rotate(13 255.1 124.0)"/>
<ellipse cx="256.9" cy="128.2" rx="3.8" ry="1.9" fill="#82bf60" transform="rotate(1 256.9 128.2)"/>
<ellipse cx="242.6" cy="125.6" rx="3.1" ry="2.0" fill="#82bf60" transform="rotate(-10 242.6 125.6)"/>
<ellipse cx="252.2" cy="131.1" rx="2.8" ry="1.6" fill="#79b858" transform="rotate(-8 252.2 131.1)"/>
<ellipse cx="254.9" cy="125.8" rx="3.3" ry="2.0" fill="#6fac4c" transform="rotate(12 254.9 125.8)"/>
<ellipse cx="245.3" cy="124.4" rx="2.9" ry="1.4" fill="#79b858" transform="rotate(7 245.3 124.4)"/>
<ellipse cx="241.4" cy="126.1" rx="3.8" ry="1.9" fill="#6fac4c" transform="rotate(1 241.4 126.1)"/>
<ellipse cx="243.6" cy="126.5" rx="3.6" ry="2.0" fill="#8cc46a" transform="rotate(23 243.6 126.5)"/>
<ellipse cx="245.5" cy="125.9" rx="4.5" ry="1.5" fill="#6fac4c" transform="rotate(-15 245.5 125.9)"/>
<ellipse cx="249.8" cy="123.4" rx="4.5" ry="1.9" fill="#79b858" transform="rotate(-1 249.8 123.4)"/>
<ellipse cx="254.0" cy="131.8" rx="3.4" ry="1.8" fill="#82bf60" transform="rotate(29 254.0 131.8)"/>
<line x1="299.90" y1="18.80" x2="299.90" y2="123.40" stroke="#c9b68f" stroke-width="1.6"/>
<path d="M300.0 124.0 L300.0 95.0 L299.0 66.0" fill="none" stroke="#76ae50" stroke-width="1.2" stroke-linejoin="round" stroke-linecap="round"/>
<ellipse cx="301.2" cy="107.8" rx="1.5" ry="0.7" fill="#7ab257" transform="rotate(47 301.2 107.8)"/>
<ellipse cx="301.2" cy="96.3" rx="1.5" ry="0.7" fill="#7ab257" transform="rotate(29 301.2 96.3)"/>
<ellipse cx="298.2" cy="76.7" rx="1.5" ry="0.7" fill="#7ab257" transform="rotate(-28 298.2 76.7)"/>
<ellipse cx="301.1" cy="91.5" rx="1.5" ry="0.7" fill="#7ab257" transform="rotate(22 301.1 91.5)"/>
<circle cx="298.46" cy="66.48" r="0.9" fill="#c2d9a6"/>
<circle cx="298.86" cy="65.53" r="0.9" fill="#c2d9a6"/>
<circle cx="299.50" cy="67.61" r="0.9" fill="#c2d9a6"/>
<circle cx="298.73" cy="65.55" r="0.9" fill="#a9cc86"/>
<circle cx="298.91" cy="64.01" r="0.9" fill="#a9cc86"/>
<circle cx="298.44" cy="66.08" r="0.9" fill="#8fbf68"/>
<path d="M300.0 100.0 L304.0 95.0 L306.0 92.0" fill="none" stroke="#76ae50" stroke-width="1.2" stroke-linejoin="round" stroke-linecap="round"/>
<ellipse cx="300.0" cy="98.5" rx="1.5" ry="0.7" fill="#7ab257" transform="rotate(-24 300.0 98.5)"/>
<ellipse cx="299.3" cy="99.4" rx="1.5" ry="0.7" fill="#7ab257" transform="rotate(-24 299.3 99.4)"/>
<ellipse cx="305.7" cy="94.2" rx="1.5" ry="0.7" fill="#7ab257" transform="rotate(40 305.7 94.2)"/>
<ellipse cx="306.4" cy="93.2" rx="1.5" ry="0.7" fill="#7ab257" transform="rotate(49 306.4 93.2)"/>
<circle cx="306.12" cy="91.90" r="0.9" fill="#a9cc86"/>
<circle cx="304.88" cy="93.61" r="0.9" fill="#8fbf68"/>
<circle cx="305.47" cy="93.71" r="0.9" fill="#a9cc86"/>
<circle cx="305.47" cy="91.34" r="0.9" fill="#c2d9a6"/>
<circle cx="306.77" cy="91.78" r="0.9" fill="#8fbf68"/>
<circle cx="305.87" cy="91.54" r="0.9" fill="#a9cc86"/>
<path d="M300.0 88.0 L296.0 84.0" fill="none" stroke="#76ae50" stroke-width="1.2" stroke-linejoin="round" stroke-linecap="round"/>
<ellipse cx="298.7" cy="85.5" rx="1.5" ry="0.7" fill="#7ab257" transform="rotate(45 298.7 85.5)"/>
<ellipse cx="298.5" cy="87.7" rx="1.5" ry="0.7" fill="#7ab257" transform="rotate(-27 298.5 87.7)"/>
<circle cx="296.61" cy="83.42" r="0.9" fill="#c2d9a6"/>
<circle cx="296.29" cy="84.07" r="0.9" fill="#8fbf68"/>
<circle cx="295.84" cy="85.08" r="0.9" fill="#c2d9a6"/>
<circle cx="296.33" cy="83.95" r="0.9" fill="#a9cc86"/>
<circle cx="295.93" cy="84.56" r="0.9" fill="#a9cc86"/>
<circle cx="296.00" cy="84.00" r="0.9" fill="#8fbf68"/>
<ellipse cx="297.0" cy="70.0" rx="3.2" ry="1.5" fill="#74b052" transform="rotate(60 297.0 70.0)"/>
<ellipse cx="302.0" cy="78.0" rx="3.2" ry="1.5" fill="#74b052" transform="rotate(-50 302.0 78.0)"/>
<ellipse cx="296.0" cy="86.0" rx="3.2" ry="1.5" fill="#74b052" transform="rotate(40 296.0 86.0)"/>
<ellipse cx="304.0" cy="94.0" rx="3.2" ry="1.5" fill="#74b052" transform="rotate(-30 304.0 94.0)"/>
<ellipse cx="297.0" cy="103.0" rx="3.2" ry="1.5" fill="#74b052" transform="rotate(30 297.0 103.0)"/>
<ellipse cx="303.0" cy="110.0" rx="3.2" ry="1.5" fill="#74b052" transform="rotate(-40 303.0 110.0)"/>
<ellipse cx="298.0" cy="117.0" rx="3.2" ry="1.5" fill="#74b052" transform="rotate(50 298.0 117.0)"/>
<path d="M284.6 135.5 L313.6 135.5 L311.6 145 L286.6 145 Z" fill="#141417" stroke="none" stroke-width="1"/>
<path d="M285.6 128.0 L312.6 128.0 L314.6 135.5 L283.6 135.5 Z" fill="#2a292d" stroke="#4a494e" stroke-width="0.8"/>
<path d="M287.1 129.2 L311.1 129.2 L312.6 134.2 L285.6 134.2 Z" fill="#5e4738" stroke="none" stroke-width="1"/>
<ellipse cx="309.5" cy="123.0" rx="3.9" ry="2.0" fill="#79b858" transform="rotate(19 309.5 123.0)"/>
<ellipse cx="299.9" cy="129.2" rx="4.5" ry="2.1" fill="#6fac4c" transform="rotate(-12 299.9 129.2)"/>
<ellipse cx="285.8" cy="123.2" rx="4.4" ry="1.5" fill="#82bf60" transform="rotate(-7 285.8 123.2)"/>
<ellipse cx="309.0" cy="132.1" rx="3.1" ry="1.8" fill="#6fac4c" transform="rotate(-1 309.0 132.1)"/>
<ellipse cx="293.0" cy="126.1" rx="4.3" ry="1.7" fill="#82bf60" transform="rotate(-18 293.0 126.1)"/>
<ellipse cx="292.8" cy="130.8" rx="4.6" ry="1.9" fill="#79b858" transform="rotate(26 292.8 130.8)"/>
<ellipse cx="305.1" cy="132.7" rx="3.4" ry="2.0" fill="#8cc46a" transform="rotate(1 305.1 132.7)"/>
<ellipse cx="284.1" cy="129.8" rx="3.6" ry="1.7" fill="#8cc46a" transform="rotate(-11 284.1 129.8)"/>
<ellipse cx="296.7" cy="131.8" rx="3.6" ry="1.9" fill="#6fac4c" transform="rotate(-17 296.7 131.8)"/>
<ellipse cx="288.0" cy="132.4" rx="3.2" ry="1.8" fill="#8cc46a" transform="rotate(-26 288.0 132.4)"/>
<ellipse cx="300.3" cy="124.4" rx="4.3" ry="1.5" fill="#82bf60" transform="rotate(-24 300.3 124.4)"/>
<ellipse cx="293.2" cy="130.4" rx="3.3" ry="1.4" fill="#82bf60" transform="rotate(-34 293.2 130.4)"/>
<ellipse cx="290.2" cy="126.0" rx="3.3" ry="1.8" fill="#82bf60" transform="rotate(-8 290.2 126.0)"/>
<ellipse cx="284.3" cy="130.8" rx="3.0" ry="1.3" fill="#79b858" transform="rotate(-15 284.3 130.8)"/>
<ellipse cx="293.9" cy="133.0" rx="4.5" ry="2.0" fill="#79b858" transform="rotate(-23 293.9 133.0)"/>
<ellipse cx="291.3" cy="131.8" rx="4.5" ry="1.5" fill="#8cc46a" transform="rotate(-8 291.3 131.8)"/>
<ellipse cx="303.7" cy="133.8" rx="3.6" ry="1.9" fill="#82bf60" transform="rotate(3 303.7 133.8)"/>
<ellipse cx="294.9" cy="132.2" rx="3.9" ry="2.0" fill="#8cc46a" transform="rotate(27 294.9 132.2)"/>
<path d="M350.0 125.0 L349.7 100.0 L349.7 78.1" fill="none" stroke="#76ae50" stroke-width="1.2" stroke-linejoin="round" stroke-linecap="round"/>
<ellipse cx="351.2" cy="122.0" rx="1.5" ry="0.7" fill="#7ab257" transform="rotate(55 351.2 122.0)"/>
<ellipse cx="348.7" cy="118.2" rx="1.5" ry="0.7" fill="#7ab257" transform="rotate(-49 348.7 118.2)"/>
<ellipse cx="350.9" cy="91.2" rx="1.5" ry="0.7" fill="#7ab257" transform="rotate(29 350.9 91.2)"/>
<ellipse cx="350.9" cy="89.4" rx="1.5" ry="0.7" fill="#7ab257" transform="rotate(42 350.9 89.4)"/>
<circle cx="349.39" cy="77.98" r="0.9" fill="#a9cc86"/>
<circle cx="350.23" cy="77.67" r="0.9" fill="#a9cc86"/>
<circle cx="350.44" cy="78.12" r="0.9" fill="#a9cc86"/>
<circle cx="350.14" cy="78.09" r="0.9" fill="#c2d9a6"/>
<circle cx="348.79" cy="78.19" r="0.9" fill="#8fbf68"/>
<circle cx="349.60" cy="78.18" r="0.9" fill="#8fbf68"/>
<path d="M348.0 125.0 L344.0 100.0 L342.9 80.4" fill="none" stroke="#76ae50" stroke-width="1.2" stroke-linejoin="round" stroke-linecap="round"/>
<ellipse cx="346.7" cy="109.6" rx="1.5" ry="0.7" fill="#7ab257" transform="rotate(31 346.7 109.6)"/>
<ellipse cx="343.0" cy="101.5" rx="1.5" ry="0.7" fill="#7ab257" transform="rotate(-20 343.0 101.5)"/>
<ellipse cx="342.3" cy="91.3" rx="1.5" ry="0.7" fill="#7ab257" transform="rotate(-53 342.3 91.3)"/>
<ellipse cx="342.8" cy="99.5" rx="1.5" ry="0.7" fill="#7ab257" transform="rotate(-38 342.8 99.5)"/>
<circle cx="342.63" cy="79.87" r="0.9" fill="#a9cc86"/>
<circle cx="342.92" cy="79.72" r="0.9" fill="#8fbf68"/>
<circle cx="340.99" cy="80.82" r="0.9" fill="#a9cc86"/>
<circle cx="342.92" cy="80.39" r="0.9" fill="#8fbf68"/>
<circle cx="342.85" cy="80.94" r="0.9" fill="#8fbf68"/>
<circle cx="342.22" cy="80.42" r="0.9" fill="#8fbf68"/>
<path d="M353.0 125.0 L358.0 100.0 L361.0 84.9" fill="none" stroke="#76ae50" stroke-width="1.2" stroke-linejoin="round" stroke-linecap="round"/>
<ellipse cx="355.9" cy="104.3" rx="1.5" ry="0.7" fill="#7ab257" transform="rotate(-23 355.9 104.3)"/>
<ellipse cx="356.6" cy="112.9" rx="1.5" ry="0.7" fill="#7ab257" transform="rotate(30 356.6 112.9)"/>
<ellipse cx="359.5" cy="86.3" rx="1.5" ry="0.7" fill="#7ab257" transform="rotate(-60 359.5 86.3)"/>
<ellipse cx="359.6" cy="97.9" rx="1.5" ry="0.7" fill="#7ab257" transform="rotate(36 359.6 97.9)"/>
<circle cx="360.02" cy="85.96" r="0.9" fill="#c2d9a6"/>
<circle cx="360.31" cy="84.19" r="0.9" fill="#c2d9a6"/>
<circle cx="360.64" cy="86.86" r="0.9" fill="#c2d9a6"/>
<circle cx="360.52" cy="84.58" r="0.9" fill="#a9cc86"/>
<circle cx="360.98" cy="84.44" r="0.9" fill="#8fbf68"/>
<circle cx="361.46" cy="85.39" r="0.9" fill="#a9cc86"/>
<path d="M355.0 125.0 L362.0 105.0 L366.6 89.4" fill="none" stroke="#76ae50" stroke-width="1.2" stroke-linejoin="round" stroke-linecap="round"/>
<ellipse cx="355.0" cy="121.5" rx="1.5" ry="0.7" fill="#7ab257" transform="rotate(-54 355.0 121.5)"/>
<ellipse cx="356.4" cy="117.5" rx="1.5" ry="0.7" fill="#7ab257" transform="rotate(-43 356.4 117.5)"/>
<ellipse cx="360.8" cy="104.9" rx="1.5" ry="0.7" fill="#7ab257" transform="rotate(-44 360.8 104.9)"/>
<ellipse cx="362.3" cy="100.0" rx="1.5" ry="0.7" fill="#7ab257" transform="rotate(-59 362.3 100.0)"/>
<circle cx="366.67" cy="89.53" r="0.9" fill="#8fbf68"/>
<circle cx="368.29" cy="90.77" r="0.9" fill="#c2d9a6"/>
<circle cx="364.56" cy="89.74" r="0.9" fill="#c2d9a6"/>
<circle cx="365.30" cy="90.25" r="0.9" fill="#a9cc86"/>
<circle cx="366.66" cy="89.26" r="0.9" fill="#c2d9a6"/>
<circle cx="367.27" cy="89.17" r="0.9" fill="#a9cc86"/>
<path d="M346.0 120.0 L338.0 105.0 L336.1 95.0" fill="none" stroke="#76ae50" stroke-width="1.2" stroke-linejoin="round" stroke-linecap="round"/>
<ellipse cx="338.6" cy="108.3" rx="1.5" ry="0.7" fill="#7ab257" transform="rotate(-54 338.6 108.3)"/>
<ellipse cx="342.1" cy="110.5" rx="1.5" ry="0.7" fill="#7ab257" transform="rotate(56 342.1 110.5)"/>
<ellipse cx="339.1" cy="104.4" rx="1.5" ry="0.7" fill="#7ab257" transform="rotate(56 339.1 104.4)"/>
<ellipse cx="337.6" cy="96.4" rx="1.5" ry="0.7" fill="#7ab257" transform="rotate(40 337.6 96.4)"/>
<circle cx="335.87" cy="94.90" r="0.9" fill="#8fbf68"/>
<circle cx="335.73" cy="94.07" r="0.9" fill="#8fbf68"/>
<circle cx="334.30" cy="95.38" r="0.9" fill="#8fbf68"/>
<circle cx="336.27" cy="96.31" r="0.9" fill="#8fbf68"/>
<circle cx="338.05" cy="95.53" r="0.9" fill="#8fbf68"/>
<circle cx="335.42" cy="94.29" r="0.9" fill="#8fbf68"/>
<path d="M351.0 110.0 L354.0 95.0 L356.0 90.0" fill="none" stroke="#76ae50" stroke-width="1.2" stroke-linejoin="round" stroke-linecap="round"/>
<ellipse cx="349.9" cy="109.3" rx="1.5" ry="0.7" fill="#7ab257" transform="rotate(-23 349.9 109.3)"/>
<ellipse cx="352.7" cy="107.7" rx="1.5" ry="0.7" fill="#7ab257" transform="rotate(33 352.7 107.7)"/>
<ellipse cx="355.7" cy="93.7" rx="1.5" ry="0.7" fill="#7ab257" transform="rotate(28 355.7 93.7)"/>
<ellipse cx="356.1" cy="92.7" rx="1.5" ry="0.7" fill="#7ab257" transform="rotate(22 356.1 92.7)"/>
<circle cx="357.62" cy="89.67" r="0.9" fill="#c2d9a6"/>
<circle cx="356.32" cy="90.26" r="0.9" fill="#8fbf68"/>
<circle cx="356.08" cy="89.70" r="0.9" fill="#a9cc86"/>
<circle cx="356.33" cy="88.92" r="0.9" fill="#c2d9a6"/>
<circle cx="357.76" cy="90.76" r="0.9" fill="#8fbf68"/>
<circle cx="355.38" cy="90.95" r="0.9" fill="#c2d9a6"/>
<path d="M337.1 135.5 L367.9 135.5 L365.9 145 L339.1 145 Z" fill="#141417" stroke="none" stroke-width="1"/>
<path d="M338.1 128.0 L366.9 128.0 L368.9 135.5 L336.1 135.5 Z" fill="#2a292d" stroke="#4a494e" stroke-width="0.8"/>
<path d="M339.6 129.2 L365.4 129.2 L366.9 134.2 L338.1 134.2 Z" fill="#5e4738" stroke="none" stroke-width="1"/>
<ellipse cx="352.0" cy="129.4" rx="4.5" ry="1.5" fill="#82bf60" transform="rotate(-15 352.0 129.4)"/>
<ellipse cx="343.6" cy="129.5" rx="4.4" ry="1.7" fill="#8cc46a" transform="rotate(-18 343.6 129.5)"/>
<ellipse cx="360.8" cy="131.7" rx="3.9" ry="2.0" fill="#82bf60" transform="rotate(21 360.8 131.7)"/>
<ellipse cx="359.9" cy="125.8" rx="3.5" ry="2.0" fill="#82bf60" transform="rotate(32 359.9 125.8)"/>
<ellipse cx="360.3" cy="125.2" rx="3.2" ry="1.6" fill="#8cc46a" transform="rotate(24 360.3 125.2)"/>
<ellipse cx="361.8" cy="124.7" rx="4.8" ry="1.5" fill="#82bf60" transform="rotate(9 361.8 124.7)"/>
<ellipse cx="354.3" cy="133.9" rx="3.6" ry="2.0" fill="#6fac4c" transform="rotate(14 354.3 133.9)"/>
<ellipse cx="356.5" cy="126.1" rx="3.2" ry="1.9" fill="#8cc46a" transform="rotate(-23 356.5 126.1)"/>
<ellipse cx="342.9" cy="126.8" rx="3.3" ry="1.6" fill="#6fac4c" transform="rotate(9 342.9 126.8)"/>
<ellipse cx="346.3" cy="133.9" rx="4.2" ry="1.9" fill="#6fac4c" transform="rotate(-10 346.3 133.9)"/>
<ellipse cx="358.9" cy="126.0" rx="2.9" ry="1.5" fill="#8cc46a" transform="rotate(-9 358.9 126.0)"/>
<ellipse cx="348.1" cy="125.3" rx="3.0" ry="1.4" fill="#8cc46a" transform="rotate(1 348.1 125.3)"/>
<ellipse cx="347.2" cy="129.8" rx="3.4" ry="2.0" fill="#79b858" transform="rotate(-15 347.2 129.8)"/>
<ellipse cx="356.9" cy="128.5" rx="4.7" ry="1.6" fill="#82bf60" transform="rotate(17 356.9 128.5)"/>
<ellipse cx="351.9" cy="124.6" rx="3.6" ry="1.5" fill="#6fac4c" transform="rotate(-4 351.9 124.6)"/>
<path d="M403.0 128.0 L404.0 115.0 L404.0 103.0" fill="none" stroke="#76ae50" stroke-width="1.2" stroke-linejoin="round" stroke-linecap="round"/>
<ellipse cx="402.1" cy="124.2" rx="1.5" ry="0.7" fill="#7ab257" transform="rotate(-33 402.1 124.2)"/>
<ellipse cx="404.4" cy="124.8" rx="1.5" ry="0.7" fill="#7ab257" transform="rotate(35 404.4 124.8)"/>
<ellipse cx="405.2" cy="107.9" rx="1.5" ry="0.7" fill="#7ab257" transform="rotate(36 405.2 107.9)"/>
<ellipse cx="402.8" cy="111.7" rx="1.5" ry="0.7" fill="#7ab257" transform="rotate(-27 402.8 111.7)"/>
<circle cx="404.77" cy="101.95" r="0.9" fill="#8fbf68"/>
<circle cx="403.45" cy="102.17" r="0.9" fill="#a9cc86"/>
<circle cx="404.68" cy="103.42" r="0.9" fill="#c2d9a6"/>
<circle cx="405.28" cy="103.25" r="0.9" fill="#8fbf68"/>
<circle cx="402.90" cy="104.64" r="0.9" fill="#a9cc86"/>
<circle cx="403.83" cy="102.70" r="0.9" fill="#a9cc86"/>
<path d="M404.0 118.0 L408.0 110.0" fill="none" stroke="#76ae50" stroke-width="1.2" stroke-linejoin="round" stroke-linecap="round"/>
<ellipse cx="406.6" cy="115.1" rx="1.5" ry="0.7" fill="#7ab257" transform="rotate(40 406.6 115.1)"/>
<ellipse cx="404.7" cy="114.2" rx="1.5" ry="0.7" fill="#7ab257" transform="rotate(-21 404.7 114.2)"/>
<circle cx="410.16" cy="109.68" r="0.9" fill="#c2d9a6"/>
<circle cx="407.54" cy="110.21" r="0.9" fill="#8fbf68"/>
<circle cx="407.34" cy="107.91" r="0.9" fill="#a9cc86"/>
<circle cx="409.44" cy="110.00" r="0.9" fill="#8fbf68"/>
<circle cx="409.04" cy="109.53" r="0.9" fill="#8fbf68"/>
<circle cx="408.21" cy="110.79" r="0.9" fill="#a9cc86"/>
<path d="M403.0 112.0 L400.0 106.0" fill="none" stroke="#76ae50" stroke-width="1.2" stroke-linejoin="round" stroke-linecap="round"/>
<ellipse cx="400.3" cy="108.9" rx="1.5" ry="0.7" fill="#7ab257" transform="rotate(-30 400.3 108.9)"/>
<ellipse cx="401.5" cy="111.5" rx="1.5" ry="0.7" fill="#7ab257" transform="rotate(-22 401.5 111.5)"/>
<circle cx="399.42" cy="104.37" r="0.9" fill="#c2d9a6"/>
<circle cx="398.89" cy="104.17" r="0.9" fill="#c2d9a6"/>
<circle cx="400.04" cy="105.74" r="0.9" fill="#c2d9a6"/>
<circle cx="400.46" cy="106.68" r="0.9" fill="#c2d9a6"/>
<circle cx="401.85" cy="105.33" r="0.9" fill="#a9cc86"/>
<circle cx="400.70" cy="106.57" r="0.9" fill="#8fbf68"/>
<path d="M388.0 135.5 L417.7 135.5 L415.7 145 L390.0 145 Z" fill="#141417" stroke="none" stroke-width="1"/>
<path d="M389.0 128.0 L416.7 128.0 L418.7 135.5 L387.0 135.5 Z" fill="#2a292d" stroke="#4a494e" stroke-width="0.8"/>
<path d="M390.5 129.2 L415.2 129.2 L416.7 134.2 L389.0 134.2 Z" fill="#5e4738" stroke="none" stroke-width="1"/>
<ellipse cx="403.8" cy="123.3" rx="4.4" ry="1.5" fill="#79b858" transform="rotate(1 403.8 123.3)"/>
<ellipse cx="392.6" cy="124.9" rx="4.1" ry="1.7" fill="#6fac4c" transform="rotate(-13 392.6 124.9)"/>
<ellipse cx="409.7" cy="125.0" rx="3.6" ry="1.3" fill="#8cc46a" transform="rotate(-20 409.7 125.0)"/>
<ellipse cx="395.1" cy="123.3" rx="3.1" ry="2.0" fill="#82bf60" transform="rotate(22 395.1 123.3)"/>
<ellipse cx="394.5" cy="128.8" rx="3.1" ry="1.8" fill="#79b858" transform="rotate(32 394.5 128.8)"/>
<ellipse cx="400.9" cy="122.1" rx="3.1" ry="2.0" fill="#8cc46a" transform="rotate(16 400.9 122.1)"/>
<ellipse cx="394.8" cy="128.4" rx="2.9" ry="1.4" fill="#79b858" transform="rotate(-14 394.8 128.4)"/>
<ellipse cx="400.4" cy="125.6" rx="3.2" ry="1.7" fill="#8cc46a" transform="rotate(11 400.4 125.6)"/>
<ellipse cx="398.9" cy="127.9" rx="4.1" ry="2.0" fill="#79b858" transform="rotate(31 398.9 127.9)"/>
<ellipse cx="400.5" cy="125.6" rx="4.3" ry="1.5" fill="#8cc46a" transform="rotate(-9 400.5 125.6)"/>
<ellipse cx="410.0" cy="126.6" rx="4.1" ry="1.6" fill="#6fac4c" transform="rotate(-27 410.0 126.6)"/>
<ellipse cx="411.1" cy="122.7" rx="3.9" ry="1.7" fill="#82bf60" transform="rotate(-7 411.1 122.7)"/>
<ellipse cx="407.2" cy="130.6" rx="2.9" ry="1.6" fill="#8cc46a" transform="rotate(32 407.2 130.6)"/>
<ellipse cx="408.6" cy="126.5" rx="4.0" ry="1.4" fill="#6fac4c" transform="rotate(13 408.6 126.5)"/>
<ellipse cx="414.1" cy="126.4" rx="4.0" ry="1.6" fill="#79b858" transform="rotate(-14 414.1 126.4)"/>
<ellipse cx="398.6" cy="128.0" rx="3.8" ry="1.9" fill="#79b858" transform="rotate(-31 398.6 128.0)"/>
</g>
<rect x="395.50" y="139.00" width="27.30" height="2.00" fill="#ffffff"/>
<text x="13.60" y="28.60" font-size="11.5" font-weight="bold" fill="#ffffff">i</text>
<g clip-path="url(#c2)">
<rect x="430.00" y="17.00" width="60.00" height="128.00" fill="#221e36"/>
<path d="M461.6 17 L462.6 60 L463.6 100 L464.5 145" fill="none" stroke="#5f8e2c" stroke-width="1.5"/>
<line x1="461.60" y1="23.60" x2="454.67" y2="21.50" stroke="#6f7a45" stroke-width="0.8"/>
<line x1="454.67" y1="21.50" x2="441.80" y2="17.60" stroke="#9cb23c" stroke-width="1.4" stroke-linecap="round"/>
<line x1="462.50" y1="22.80" x2="466.42" y2="21.26" stroke="#6f7a45" stroke-width="0.8"/>
<line x1="466.42" y1="21.26" x2="473.70" y2="18.40" stroke="#9cb23c" stroke-width="1.4" stroke-linecap="round"/>
<line x1="462.50" y1="32.20" x2="466.70" y2="29.79" stroke="#6f7a45" stroke-width="0.8"/>
<line x1="466.70" y1="29.79" x2="474.50" y2="25.30" stroke="#9cb23c" stroke-width="1.4" stroke-linecap="round"/>
<line x1="460.70" y1="48.60" x2="452.26" y2="44.09" stroke="#6f7a45" stroke-width="0.8"/>
<line x1="452.26" y1="44.09" x2="436.60" y2="35.70" stroke="#9cb23c" stroke-width="1.4" stroke-linecap="round"/>
<line x1="462.50" y1="64.10" x2="467.33" y2="55.94" stroke="#6f7a45" stroke-width="0.8"/>
<line x1="467.33" y1="55.94" x2="476.30" y2="40.80" stroke="#9cb23c" stroke-width="1.4" stroke-linecap="round"/>
<line x1="462.50" y1="75.30" x2="452.25" y2="71.38" stroke="#6f7a45" stroke-width="0.8"/>
<line x1="452.25" y1="71.38" x2="433.20" y2="64.10" stroke="#9cb23c" stroke-width="1.4" stroke-linecap="round"/>
<line x1="463.30" y1="75.30" x2="468.73" y2="72.29" stroke="#6f7a45" stroke-width="0.8"/>
<line x1="468.73" y1="72.29" x2="478.80" y2="66.70" stroke="#9cb23c" stroke-width="1.4" stroke-linecap="round"/>
<line x1="463.30" y1="88.20" x2="453.68" y2="83.41" stroke="#6f7a45" stroke-width="0.8"/>
<line x1="453.68" y1="83.41" x2="435.80" y2="74.50" stroke="#9cb23c" stroke-width="1.4" stroke-linecap="round"/>
<line x1="465.00" y1="108.90" x2="472.88" y2="100.47" stroke="#6f7a45" stroke-width="0.8"/>
<line x1="472.88" y1="100.47" x2="487.50" y2="84.80" stroke="#9cb23c" stroke-width="1.4" stroke-linecap="round"/>
<line x1="464.20" y1="104.60" x2="456.64" y2="104.60" stroke="#6f7a45" stroke-width="0.8"/>
<line x1="456.64" y1="104.60" x2="442.60" y2="104.60" stroke="#9cb23c" stroke-width="1.4" stroke-linecap="round"/>
<line x1="463.30" y1="123.60" x2="452.45" y2="123.88" stroke="#6f7a45" stroke-width="0.8"/>
<line x1="452.45" y1="123.88" x2="432.30" y2="124.40" stroke="#9cb23c" stroke-width="1.4" stroke-linecap="round"/>
<line x1="455.60" y1="125.30" x2="458.61" y2="130.72" stroke="#6f7a45" stroke-width="0.8"/>
<line x1="458.61" y1="130.72" x2="464.20" y2="140.80" stroke="#9cb23c" stroke-width="1.4" stroke-linecap="round"/>
</g>
<rect x="435.80" y="138.20" width="52.20" height="2.40" fill="#ffffff"/>
<text x="431.80" y="29.30" font-size="11.5" font-weight="bold" fill="#ffffff">ii</text>
<g clip-path="url(#c3)">
<rect x="492.00" y="17.00" width="51.00" height="128.00" fill="#211d31"/>
<path d="M521.9 17 Q514 40 512.4 65 Q510.5 100 514.2 135 L518.5 145" fill="none" stroke="#6a922e" stroke-width="1.5"/>
<line x1="507.30" y1="17.60" x2="510.31" y2="22.43" stroke="#6f7a45" stroke-width="0.8"/>
<line x1="510.31" y1="22.43" x2="515.90" y2="31.40" stroke="#9cb23c" stroke-width="1.4" stroke-linecap="round"/>
<line x1="521.00" y1="27.00" x2="526.46" y2="23.99" stroke="#6f7a45" stroke-width="0.8"/>
<line x1="526.46" y1="23.99" x2="536.60" y2="18.40" stroke="#9cb23c" stroke-width="1.4" stroke-linecap="round"/>
<line x1="512.40" y1="65.80" x2="506.06" y2="63.70" stroke="#6f7a45" stroke-width="0.8"/>
<line x1="506.06" y1="63.70" x2="494.30" y2="59.80" stroke="#9cb23c" stroke-width="1.4" stroke-linecap="round"/>
<line x1="512.40" y1="65.80" x2="508.80" y2="60.97" stroke="#6f7a45" stroke-width="0.8"/>
<line x1="508.80" y1="60.97" x2="502.10" y2="52.00" stroke="#9cb23c" stroke-width="1.4" stroke-linecap="round"/>
<line x1="514.20" y1="71.90" x2="515.99" y2="68.26" stroke="#6f7a45" stroke-width="0.8"/>
<line x1="515.99" y1="68.26" x2="519.30" y2="61.50" stroke="#9cb23c" stroke-width="1.4" stroke-linecap="round"/>
<line x1="513.30" y1="76.20" x2="520.23" y2="74.06" stroke="#6f7a45" stroke-width="0.8"/>
<line x1="520.23" y1="74.06" x2="533.10" y2="70.10" stroke="#9cb23c" stroke-width="1.4" stroke-linecap="round"/>
<line x1="512.40" y1="106.30" x2="517.82" y2="100.28" stroke="#6f7a45" stroke-width="0.8"/>
<line x1="517.82" y1="100.28" x2="527.90" y2="89.10" stroke="#9cb23c" stroke-width="1.4" stroke-linecap="round"/>
<line x1="511.60" y1="118.40" x2="507.37" y2="112.38" stroke="#6f7a45" stroke-width="0.8"/>
<line x1="507.37" y1="112.38" x2="499.50" y2="101.20" stroke="#9cb23c" stroke-width="1.4" stroke-linecap="round"/>
<line x1="515.00" y1="135.60" x2="508.66" y2="131.40" stroke="#6f7a45" stroke-width="0.8"/>
<line x1="508.66" y1="131.40" x2="496.90" y2="123.60" stroke="#9cb23c" stroke-width="1.4" stroke-linecap="round"/>
<line x1="515.90" y1="135.60" x2="522.83" y2="131.40" stroke="#6f7a45" stroke-width="0.8"/>
<line x1="522.83" y1="131.40" x2="535.70" y2="123.60" stroke="#9cb23c" stroke-width="1.4" stroke-linecap="round"/>
<line x1="515.00" y1="133.00" x2="517.10" y2="128.45" stroke="#6f7a45" stroke-width="0.8"/>
<line x1="517.10" y1="128.45" x2="521.00" y2="120.00" stroke="#9cb23c" stroke-width="1.4" stroke-linecap="round"/>
<path d="M519.7 32.5 L519.7 35.5 L517.7 34.0 Z" fill="#ffffff" stroke="none" stroke-width="1"/>
<path d="M513.6 64.7 L513.6 67.7 L511.6 66.2 Z" fill="#ffffff" stroke="none" stroke-width="1"/>
<path d="M509.9 75.0 L509.9 78.0 L511.9 76.5 Z" fill="#ffffff" stroke="none" stroke-width="1"/>
<path d="M512.4 139.0 L512.4 142.0 L514.4 140.5 Z" fill="#ffffff" stroke="none" stroke-width="1"/>
</g>
<text x="493.80" y="29.30" font-size="11.5" font-weight="bold" fill="#ffffff">iii</text>
<g clip-path="url(#c4)">
<rect x="544.20" y="17.00" width="65.30" height="128.00" fill="#151524"/>
<line x1="560.70" y1="23.70" x2="577.40" y2="33.70" stroke="#86a872" stroke-width="1.1" stroke-linecap="round"/>
<line x1="561.70" y1="27.00" x2="577.00" y2="36.00" stroke="#86a872" stroke-width="1.1" stroke-linecap="round"/>
<line x1="566.00" y1="19.00" x2="578.00" y2="28.00" stroke="#86a872" stroke-width="1.1" stroke-linecap="round"/>
<line x1="569.00" y1="45.40" x2="579.10" y2="40.40" stroke="#86a872" stroke-width="1.1" stroke-linecap="round"/>
<line x1="589.10" y1="40.40" x2="590.00" y2="67.10" stroke="#86a872" stroke-width="1.1" stroke-linecap="round"/>
<line x1="595.80" y1="45.40" x2="589.10" y2="65.50" stroke="#86a872" stroke-width="1.1" stroke-linecap="round"/>
<line x1="582.40" y1="25.40" x2="587.40" y2="18.70" stroke="#86a872" stroke-width="1.1" stroke-linecap="round"/>
<line x1="570.70" y1="78.00" x2="584.10" y2="85.50" stroke="#86a872" stroke-width="1.1" stroke-linecap="round"/>
<line x1="563.20" y1="83.80" x2="583.30" y2="105.60" stroke="#86a872" stroke-width="1.1" stroke-linecap="round"/>
<line x1="560.70" y1="101.40" x2="581.60" y2="108.00" stroke="#86a872" stroke-width="1.1" stroke-linecap="round"/>
<line x1="560.70" y1="108.00" x2="580.80" y2="117.30" stroke="#86a872" stroke-width="1.1" stroke-linecap="round"/>
<line x1="554.90" y1="112.20" x2="579.10" y2="123.90" stroke="#86a872" stroke-width="1.1" stroke-linecap="round"/>
<line x1="574.10" y1="100.50" x2="579.90" y2="115.60" stroke="#86a872" stroke-width="1.1" stroke-linecap="round"/>
<line x1="600.00" y1="115.60" x2="584.10" y2="130.60" stroke="#86a872" stroke-width="1.1" stroke-linecap="round"/>
<line x1="576.00" y1="20.00" x2="584.00" y2="38.00" stroke="#86a872" stroke-width="1.1" stroke-linecap="round"/>
<line x1="586.00" y1="30.00" x2="593.00" y2="22.00" stroke="#86a872" stroke-width="1.1" stroke-linecap="round"/>
<line x1="559.00" y1="47.90" x2="577.40" y2="54.60" stroke="#8fb07a" stroke-width="2.0" stroke-linecap="round"/>
<path d="M562.4 17 Q574.1 25.4 581.6 42 Q585.8 55 585.8 67.1 L585.8 92.2 Q585.5 110 584.1 117.3 Q581 130 580.8 134 L580.8 145" fill="none" stroke="#84a28e" stroke-width="3.8"/>
</g>
<rect x="553.10" y="138.40" width="52.10" height="2.60" fill="#ffffff"/>
<text x="545.60" y="30.00" font-size="11.5" font-weight="bold" fill="#ffffff">iv</text>
<g clip-path="url(#c5)">
<rect x="611.30" y="17.00" width="71.00" height="128.00" fill="#24213a"/>
<line x1="626.00" y1="113.00" x2="641.00" y2="128.00" stroke="#7a9b69" stroke-width="0.85" stroke-linecap="round"/>
<line x1="624.00" y1="121.00" x2="641.00" y2="135.00" stroke="#7a9b69" stroke-width="0.85" stroke-linecap="round"/>
<line x1="628.00" y1="104.00" x2="641.00" y2="117.00" stroke="#7a9b69" stroke-width="0.85" stroke-linecap="round"/>
<line x1="633.00" y1="97.00" x2="641.00" y2="108.00" stroke="#7a9b69" stroke-width="0.85" stroke-linecap="round"/>
<line x1="631.00" y1="88.00" x2="640.00" y2="98.00" stroke="#7a9b69" stroke-width="0.85" stroke-linecap="round"/>
<line x1="655.00" y1="102.00" x2="668.00" y2="95.00" stroke="#7a9b69" stroke-width="0.85" stroke-linecap="round"/>
<line x1="654.00" y1="110.00" x2="669.00" y2="108.00" stroke="#7a9b69" stroke-width="0.85" stroke-linecap="round"/>
<line x1="652.00" y1="118.00" x2="667.00" y2="116.00" stroke="#7a9b69" stroke-width="0.85" stroke-linecap="round"/>
<line x1="650.00" y1="127.00" x2="664.00" y2="126.00" stroke="#7a9b69" stroke-width="0.85" stroke-linecap="round"/>
<line x1="646.00" y1="135.00" x2="656.00" y2="141.00" stroke="#7a9b69" stroke-width="0.85" stroke-linecap="round"/>
<line x1="645.00" y1="95.00" x2="650.00" y2="86.00" stroke="#7a9b69" stroke-width="0.85" stroke-linecap="round"/>
<line x1="647.00" y1="104.00" x2="655.00" y2="97.00" stroke="#7a9b69" stroke-width="0.85" stroke-linecap="round"/>
<line x1="636.00" y1="137.00" x2="642.00" y2="145.00" stroke="#7a9b69" stroke-width="0.85" stroke-linecap="round"/>
<line x1="657.00" y1="90.00" x2="667.00" y2="94.00" stroke="#7a9b69" stroke-width="0.85" stroke-linecap="round"/>
<line x1="623.00" y1="130.00" x2="640.00" y2="140.00" stroke="#7a9b69" stroke-width="0.85" stroke-linecap="round"/>
<path d="M637 72 Q641 100 642 120 L644.4 145" fill="none" stroke="#76996b" stroke-width="2.3"/>
<path d="M664 80 Q661 100 655 118 L650.2 145" fill="none" stroke="#76996b" stroke-width="2.3"/>
<path d="M640 88 Q648 100 654 110" fill="none" stroke="#76996b" stroke-width="1.1"/>
<circle cx="634.00" cy="75.78" r="1.6" fill="#c5cc8e" fill-opacity="0.8"/>
<circle cx="643.56" cy="75.57" r="1.3" fill="#ccd397" fill-opacity="0.8"/>
<circle cx="643.65" cy="75.03" r="1.0" fill="#c5cc8e" fill-opacity="0.8"/>
<circle cx="633.22" cy="73.86" r="1.0" fill="#ccd397" fill-opacity="0.8"/>
<circle cx="626.70" cy="76.32" r="1.0" fill="#b8c482" fill-opacity="0.8"/>
<circle cx="630.01" cy="68.53" r="1.0" fill="#ccd397" fill-opacity="0.8"/>
<circle cx="633.80" cy="72.09" r="1.0" fill="#c5cc8e" fill-opacity="0.8"/>
<circle cx="632.07" cy="71.98" r="1.3" fill="#b8c482" fill-opacity="0.8"/>
<circle cx="627.59" cy="71.47" r="1.6" fill="#b8c482" fill-opacity="0.8"/>
<circle cx="642.93" cy="76.65" r="1.0" fill="#d5d8a0" fill-opacity="0.8"/>
<circle cx="643.94" cy="76.88" r="1.6" fill="#c5cc8e" fill-opacity="0.8"/>
<circle cx="630.06" cy="69.17" r="1.6" fill="#a3b577" fill-opacity="0.8"/>
<circle cx="637.33" cy="67.62" r="1.3" fill="#d5d8a0" fill-opacity="0.8"/>
<circle cx="632.85" cy="79.78" r="1.6" fill="#b8c482" fill-opacity="0.8"/>
<circle cx="641.49" cy="75.16" r="1.3" fill="#d5d8a0" fill-opacity="0.8"/>
<circle cx="635.20" cy="68.74" r="1.0" fill="#c5cc8e" fill-opacity="0.8"/>
<circle cx="631.34" cy="72.76" r="1.3" fill="#b8c482" fill-opacity="0.8"/>
<circle cx="642.82" cy="70.88" r="1.6" fill="#c5cc8e" fill-opacity="0.8"/>
<circle cx="636.79" cy="66.97" r="1.3" fill="#d5d8a0" fill-opacity="0.8"/>
<circle cx="633.01" cy="67.19" r="1.6" fill="#a3b577" fill-opacity="0.8"/>
<circle cx="639.19" cy="74.02" r="1.3" fill="#a3b577" fill-opacity="0.8"/>
<circle cx="635.04" cy="71.07" r="1.6" fill="#d5d8a0" fill-opacity="0.8"/>
<circle cx="629.10" cy="66.64" r="1.3" fill="#d5d8a0" fill-opacity="0.8"/>
<circle cx="633.74" cy="65.63" r="1.3" fill="#c5cc8e" fill-opacity="0.8"/>
<circle cx="642.38" cy="71.26" r="1.6" fill="#c5cc8e" fill-opacity="0.8"/>
<circle cx="630.63" cy="73.15" r="1.3" fill="#b8c482" fill-opacity="0.8"/>
<circle cx="635.47" cy="67.97" r="1.3" fill="#c5cc8e" fill-opacity="0.8"/>
<circle cx="639.66" cy="77.39" r="1.3" fill="#b8c482" fill-opacity="0.8"/>
<circle cx="640.51" cy="66.26" r="1.3" fill="#a3b577" fill-opacity="0.8"/>
<circle cx="645.47" cy="72.44" r="1.3" fill="#b8c482" fill-opacity="0.8"/>
<circle cx="638.81" cy="75.73" r="1.0" fill="#b8c482" fill-opacity="0.8"/>
<circle cx="646.45" cy="73.55" r="1.0" fill="#d5d8a0" fill-opacity="0.8"/>
<circle cx="635.13" cy="75.99" r="1.6" fill="#d5d8a0" fill-opacity="0.8"/>
<circle cx="630.99" cy="70.13" r="1.0" fill="#ccd397" fill-opacity="0.8"/>
<circle cx="644.85" cy="71.01" r="1.6" fill="#c5cc8e" fill-opacity="0.8"/>
<circle cx="625.66" cy="75.01" r="1.6" fill="#ccd397" fill-opacity="0.8"/>
<circle cx="630.33" cy="76.16" r="1.0" fill="#a3b577" fill-opacity="0.8"/>
<circle cx="634.09" cy="71.51" r="1.0" fill="#b8c482" fill-opacity="0.8"/>
<circle cx="632.45" cy="73.97" r="1.6" fill="#c5cc8e" fill-opacity="0.8"/>
<circle cx="642.93" cy="76.61" r="1.6" fill="#c5cc8e" fill-opacity="0.8"/>
<circle cx="644.55" cy="71.02" r="1.0" fill="#b8c482" fill-opacity="0.8"/>
<circle cx="632.66" cy="70.97" r="1.3" fill="#d5d8a0" fill-opacity="0.8"/>
<circle cx="629.66" cy="69.70" r="1.0" fill="#a3b577" fill-opacity="0.8"/>
<circle cx="643.84" cy="72.76" r="1.3" fill="#d5d8a0" fill-opacity="0.8"/>
<circle cx="639.15" cy="74.31" r="1.3" fill="#d5d8a0" fill-opacity="0.8"/>
<circle cx="626.52" cy="73.89" r="1.6" fill="#c5cc8e" fill-opacity="0.8"/>
<circle cx="639.12" cy="80.50" r="1.3" fill="#b8c482" fill-opacity="0.8"/>
<circle cx="631.96" cy="65.89" r="1.6" fill="#d5d8a0" fill-opacity="0.8"/>
<circle cx="646.59" cy="72.00" r="1.6" fill="#d5d8a0" fill-opacity="0.8"/>
<circle cx="625.11" cy="72.12" r="1.3" fill="#b8c482" fill-opacity="0.8"/>
<circle cx="626.06" cy="71.56" r="1.3" fill="#b8c482" fill-opacity="0.8"/>
<circle cx="628.27" cy="68.36" r="1.0" fill="#b8c482" fill-opacity="0.8"/>
<circle cx="640.12" cy="66.74" r="1.0" fill="#b8c482" fill-opacity="0.8"/>
<circle cx="629.18" cy="72.47" r="1.0" fill="#c5cc8e" fill-opacity="0.8"/>
<circle cx="637.97" cy="67.68" r="1.0" fill="#ccd397" fill-opacity="0.8"/>
<circle cx="643.40" cy="71.56" r="1.6" fill="#d5d8a0" fill-opacity="0.8"/>
<circle cx="642.67" cy="71.65" r="1.0" fill="#c5cc8e" fill-opacity="0.8"/>
<circle cx="636.74" cy="76.51" r="1.0" fill="#a3b577" fill-opacity="0.8"/>
<circle cx="628.24" cy="67.66" r="1.0" fill="#a3b577" fill-opacity="0.8"/>
<circle cx="641.68" cy="70.47" r="1.6" fill="#c5cc8e" fill-opacity="0.8"/>
<circle cx="639.05" cy="85.91" r="1.3" fill="#b8c482" fill-opacity="0.8"/>
<circle cx="635.49" cy="88.41" r="1.6" fill="#d5d8a0" fill-opacity="0.8"/>
<circle cx="642.99" cy="91.53" r="1.6" fill="#a3b577" fill-opacity="0.8"/>
<circle cx="632.96" cy="89.39" r="1.0" fill="#b8c482" fill-opacity="0.8"/>
<circle cx="639.03" cy="90.19" r="1.0" fill="#ccd397" fill-opacity="0.8"/>
<circle cx="642.45" cy="84.46" r="1.0" fill="#ccd397" fill-opacity="0.8"/>
<circle cx="640.75" cy="81.85" r="1.6" fill="#d5d8a0" fill-opacity="0.8"/>
<circle cx="640.48" cy="92.30" r="1.0" fill="#c5cc8e" fill-opacity="0.8"/>
<circle cx="639.56" cy="82.32" r="1.0" fill="#ccd397" fill-opacity="0.8"/>
<circle cx="637.99" cy="85.39" r="1.0" fill="#b8c482" fill-opacity="0.8"/>
<circle cx="640.72" cy="88.57" r="1.6" fill="#b8c482" fill-opacity="0.8"/>
<circle cx="638.29" cy="84.02" r="1.6" fill="#a3b577" fill-opacity="0.8"/>
<circle cx="638.75" cy="86.51" r="1.6" fill="#d5d8a0" fill-opacity="0.8"/>
<circle cx="641.91" cy="84.58" r="1.6" fill="#a3b577" fill-opacity="0.8"/>
<circle cx="667.06" cy="74.37" r="1.0" fill="#ccd397" fill-opacity="0.8"/>
<circle cx="666.89" cy="85.66" r="1.3" fill="#b8c482" fill-opacity="0.8"/>
<circle cx="659.21" cy="76.56" r="1.0" fill="#b8c482" fill-opacity="0.8"/>
<circle cx="667.47" cy="85.89" r="1.0" fill="#ccd397" fill-opacity="0.8"/>
<circle cx="669.35" cy="83.50" r="1.6" fill="#ccd397" fill-opacity="0.8"/>
<circle cx="657.87" cy="81.77" r="1.6" fill="#c5cc8e" fill-opacity="0.8"/>
<circle cx="664.04" cy="85.21" r="1.0" fill="#ccd397" fill-opacity="0.8"/>
<circle cx="662.88" cy="81.40" r="1.0" fill="#a3b577" fill-opacity="0.8"/>
<circle cx="660.84" cy="88.02" r="1.6" fill="#ccd397" fill-opacity="0.8"/>
<circle cx="665.15" cy="85.00" r="1.6" fill="#ccd397" fill-opacity="0.8"/>
<circle cx="665.76" cy="75.67" r="1.0" fill="#ccd397" fill-opacity="0.8"/>
<circle cx="668.85" cy="75.56" r="1.3" fill="#ccd397" fill-opacity="0.8"/>
<circle cx="666.46" cy="78.75" r="1.3" fill="#b8c482" fill-opacity="0.8"/>
<circle cx="660.20" cy="83.51" r="1.3" fill="#c5cc8e" fill-opacity="0.8"/>
<circle cx="661.82" cy="76.39" r="1.0" fill="#d5d8a0" fill-opacity="0.8"/>
<circle cx="665.40" cy="73.59" r="1.0" fill="#d5d8a0" fill-opacity="0.8"/>
<circle cx="668.10" cy="86.88" r="1.3" fill="#b8c482" fill-opacity="0.8"/>
<circle cx="663.95" cy="78.55" r="1.3" fill="#b8c482" fill-opacity="0.8"/>
<circle cx="670.37" cy="80.53" r="1.0" fill="#a3b577" fill-opacity="0.8"/>
<circle cx="668.45" cy="80.81" r="1.3" fill="#b8c482" fill-opacity="0.8"/>
<circle cx="662.68" cy="82.90" r="1.3" fill="#c5cc8e" fill-opacity="0.8"/>
<circle cx="661.51" cy="85.61" r="1.6" fill="#c5cc8e" fill-opacity="0.8"/>
<circle cx="660.24" cy="84.82" r="1.3" fill="#ccd397" fill-opacity="0.8"/>
<circle cx="666.28" cy="80.34" r="1.0" fill="#c5cc8e" fill-opacity="0.8"/>
<circle cx="667.15" cy="83.10" r="1.0" fill="#d5d8a0" fill-opacity="0.8"/>
<circle cx="664.23" cy="73.76" r="1.6" fill="#d5d8a0" fill-opacity="0.8"/>
<circle cx="659.74" cy="84.27" r="1.6" fill="#ccd397" fill-opacity="0.8"/>
<circle cx="660.00" cy="81.16" r="1.3" fill="#c5cc8e" fill-opacity="0.8"/>
<circle cx="664.92" cy="77.74" r="1.0" fill="#d5d8a0" fill-opacity="0.8"/>
<circle cx="669.16" cy="78.59" r="1.3" fill="#c5cc8e" fill-opacity="0.8"/>
<circle cx="661.43" cy="78.63" r="1.3" fill="#c5cc8e" fill-opacity="0.8"/>
<circle cx="660.09" cy="82.33" r="1.6" fill="#a3b577" fill-opacity="0.8"/>
<circle cx="667.24" cy="79.16" r="1.0" fill="#c5cc8e" fill-opacity="0.8"/>
<circle cx="660.63" cy="80.34" r="1.0" fill="#b8c482" fill-opacity="0.8"/>
<circle cx="663.78" cy="84.40" r="1.3" fill="#d5d8a0" fill-opacity="0.8"/>
<circle cx="660.88" cy="80.30" r="1.3" fill="#ccd397" fill-opacity="0.8"/>
<circle cx="662.29" cy="77.33" r="1.0" fill="#d5d8a0" fill-opacity="0.8"/>
<circle cx="664.92" cy="81.25" r="1.6" fill="#ccd397" fill-opacity="0.8"/>
<circle cx="668.97" cy="80.21" r="1.0" fill="#a3b577" fill-opacity="0.8"/>
<circle cx="668.97" cy="85.48" r="1.3" fill="#a3b577" fill-opacity="0.8"/>
<circle cx="657.48" cy="91.39" r="1.6" fill="#d5d8a0" fill-opacity="0.8"/>
<circle cx="660.11" cy="87.50" r="1.3" fill="#b8c482" fill-opacity="0.8"/>
<circle cx="664.08" cy="88.61" r="1.6" fill="#b8c482" fill-opacity="0.8"/>
<circle cx="659.57" cy="94.99" r="1.0" fill="#b8c482" fill-opacity="0.8"/>
<circle cx="665.94" cy="93.42" r="1.3" fill="#a3b577" fill-opacity="0.8"/>
<circle cx="662.75" cy="94.49" r="1.3" fill="#ccd397" fill-opacity="0.8"/>
<circle cx="660.73" cy="90.20" r="1.0" fill="#d5d8a0" fill-opacity="0.8"/>
<circle cx="664.07" cy="93.72" r="1.3" fill="#a3b577" fill-opacity="0.8"/>
<circle cx="665.02" cy="93.08" r="1.3" fill="#ccd397" fill-opacity="0.8"/>
<circle cx="661.59" cy="94.00" r="1.3" fill="#b8c482" fill-opacity="0.8"/>
</g>
<rect x="623.00" y="138.40" width="52.00" height="2.60" fill="#ffffff"/>
<text x="612.60" y="30.00" font-size="11.5" font-weight="bold" fill="#ffffff">v</text>
<text x="1.50" y="166.30" font-size="12.5" font-weight="bold" fill="#231f20">B</text>
<text x="15.80" y="248.00" font-size="11.2" text-anchor="middle" fill="#231f20" stroke="#231f20" stroke-width="0.28" transform="rotate(-90 15.80 248.00)">Percentage of nodes with</text>
<text x="27.40" y="245.50" font-size="11.2" text-anchor="middle" fill="#231f20" stroke="#231f20" stroke-width="0.28" transform="rotate(-90 27.40 245.50)">double siliques (%)</text>
<line x1="44.60" y1="182.80" x2="44.60" y2="309.90" stroke="#231f20" stroke-width="1.1"/>
<line x1="44.10" y1="309.30" x2="103.20" y2="309.30" stroke="#231f20" stroke-width="1.2"/>
<line x1="42.80" y1="183.10" x2="44.60" y2="183.10" stroke="#231f20" stroke-width="0.8"/>
<line x1="42.80" y1="214.65" x2="44.60" y2="214.65" stroke="#231f20" stroke-width="0.8"/>
<line x1="42.80" y1="246.20" x2="44.60" y2="246.20" stroke="#231f20" stroke-width="0.8"/>
<line x1="42.80" y1="277.75" x2="44.60" y2="277.75" stroke="#231f20" stroke-width="0.8"/>
<line x1="108.40" y1="182.80" x2="108.40" y2="309.90" stroke="#231f20" stroke-width="1.1"/>
<line x1="107.90" y1="309.30" x2="265.00" y2="309.30" stroke="#231f20" stroke-width="1.2"/>
<line x1="106.60" y1="183.10" x2="108.40" y2="183.10" stroke="#231f20" stroke-width="0.8"/>
<line x1="106.60" y1="214.65" x2="108.40" y2="214.65" stroke="#231f20" stroke-width="0.8"/>
<line x1="106.60" y1="246.20" x2="108.40" y2="246.20" stroke="#231f20" stroke-width="0.8"/>
<line x1="106.60" y1="277.75" x2="108.40" y2="277.75" stroke="#231f20" stroke-width="0.8"/>
<line x1="270.50" y1="182.80" x2="270.50" y2="309.90" stroke="#231f20" stroke-width="1.1"/>
<line x1="270.00" y1="309.30" x2="426.80" y2="309.30" stroke="#231f20" stroke-width="1.2"/>
<line x1="268.70" y1="183.10" x2="270.50" y2="183.10" stroke="#231f20" stroke-width="0.8"/>
<line x1="268.70" y1="214.65" x2="270.50" y2="214.65" stroke="#231f20" stroke-width="0.8"/>
<line x1="268.70" y1="246.20" x2="270.50" y2="246.20" stroke="#231f20" stroke-width="0.8"/>
<line x1="268.70" y1="277.75" x2="270.50" y2="277.75" stroke="#231f20" stroke-width="0.8"/>
<text x="41.60" y="185.70" font-size="7.4" text-anchor="end" fill="#4a4a4a">100</text>
<text x="41.60" y="217.25" font-size="7.4" text-anchor="end" fill="#4a4a4a">75</text>
<text x="41.60" y="248.80" font-size="7.4" text-anchor="end" fill="#4a4a4a">50</text>
<text x="41.60" y="280.35" font-size="7.4" text-anchor="end" fill="#4a4a4a">25</text>
<text x="41.60" y="311.90" font-size="7.4" text-anchor="end" fill="#4a4a4a">0</text>
<line x1="42.80" y1="309.30" x2="44.60" y2="309.30" stroke="#231f20" stroke-width="0.8"/>
<text x="47.10" y="183.00" font-size="10.4" font-weight="bold" fill="#231f20">Col-0</text>
<text x="112.30" y="183.00" font-size="10.4" font-weight="bold" fill="#231f20">Col-0 x <tspan font-style="italic">tsk-4</tspan></text>
<text x="274.50" y="183.00" font-size="10.4" font-weight="bold" fill="#231f20"><tspan font-style="italic">tsk-4</tspan> x Col-0</text>
<text x="33.60" y="320.70" font-size="8.2" font-weight="bold" fill="#231f20">n</text>
<text x="33.60" y="331.00" font-size="7.6" font-weight="bold" font-style="italic" fill="#231f20">TSK</text>
<line x1="73.50" y1="309.30" x2="73.50" y2="311.60" stroke="#231f20" stroke-width="0.9"/>
<circle cx="70.31" cy="273.96" r="2.0" fill="#3aa898" fill-opacity="0.82"/>
<circle cx="73.09" cy="272.70" r="2.0" fill="#3aa898" fill-opacity="0.82"/>
<circle cx="75.94" cy="275.23" r="2.0" fill="#3aa898" fill-opacity="0.82"/>
<circle cx="75.35" cy="281.54" r="2.0" fill="#3aa898" fill-opacity="0.82"/>
<circle cx="75.59" cy="282.80" r="2.0" fill="#3aa898" fill-opacity="0.82"/>
<circle cx="72.90" cy="282.80" r="2.0" fill="#3aa898" fill-opacity="0.82"/>
<circle cx="76.20" cy="284.06" r="2.0" fill="#3aa898" fill-opacity="0.82"/>
<circle cx="73.80" cy="284.06" r="2.0" fill="#3aa898" fill-opacity="0.82"/>
<circle cx="69.72" cy="285.32" r="2.0" fill="#3aa898" fill-opacity="0.82"/>
<circle cx="73.10" cy="285.32" r="2.0" fill="#3aa898" fill-opacity="0.82"/>
<circle cx="69.43" cy="285.32" r="2.0" fill="#3aa898" fill-opacity="0.82"/>
<circle cx="77.40" cy="286.58" r="2.0" fill="#3aa898" fill-opacity="0.82"/>
<circle cx="77.52" cy="286.58" r="2.0" fill="#3aa898" fill-opacity="0.82"/>
<circle cx="72.02" cy="286.58" r="2.0" fill="#3aa898" fill-opacity="0.82"/>
<circle cx="71.78" cy="287.85" r="2.0" fill="#3aa898" fill-opacity="0.82"/>
<circle cx="75.91" cy="287.85" r="2.0" fill="#3aa898" fill-opacity="0.82"/>
<circle cx="70.83" cy="289.11" r="2.0" fill="#3aa898" fill-opacity="0.82"/>
<circle cx="70.61" cy="289.11" r="2.0" fill="#3aa898" fill-opacity="0.82"/>
<circle cx="70.70" cy="290.37" r="2.0" fill="#3aa898" fill-opacity="0.82"/>
<circle cx="72.12" cy="291.63" r="2.0" fill="#3aa898" fill-opacity="0.82"/>
<circle cx="74.64" cy="284.06" r="2.0" fill="#3aa898" fill-opacity="0.82"/>
<circle cx="77.67" cy="282.80" r="2.0" fill="#3aa898" fill-opacity="0.82"/>
<circle cx="70.90" cy="286.58" r="2.0" fill="#3aa898" fill-opacity="0.82"/>
<line x1="61.30" y1="285.40" x2="85.70" y2="285.40" stroke="#231f20" stroke-width="1.3"/>
<line x1="73.50" y1="282.00" x2="73.50" y2="289.00" stroke="#231f20" stroke-width="1.1700000000000002"/>
<line x1="69.20" y1="282.00" x2="77.80" y2="282.00" stroke="#231f20" stroke-width="1.1700000000000002"/>
<line x1="69.20" y1="289.00" x2="77.80" y2="289.00" stroke="#231f20" stroke-width="1.1700000000000002"/>
<text x="73.50" y="192.00" font-size="7.8" font-weight="bold" text-anchor="middle" fill="#333">a</text>
<text x="73.50" y="320.70" font-size="7.4" text-anchor="middle" fill="#333" stroke="#333" stroke-width="0.28">23</text>
<text x="73.50" y="330.60" font-size="10.4" font-weight="bold" text-anchor="middle" fill="#231f20">+/+</text>
<line x1="137.60" y1="309.30" x2="137.60" y2="311.60" stroke="#231f20" stroke-width="0.9"/>
<circle cx="138.33" cy="271.44" r="2.0" fill="#3aa898" fill-opacity="0.82"/>
<circle cx="134.85" cy="286.58" r="2.0" fill="#3aa898" fill-opacity="0.82"/>
<circle cx="141.79" cy="286.58" r="2.0" fill="#3aa898" fill-opacity="0.82"/>
<circle cx="141.42" cy="286.58" r="2.0" fill="#3aa898" fill-opacity="0.82"/>
<circle cx="137.30" cy="287.85" r="2.0" fill="#3aa898" fill-opacity="0.82"/>
<circle cx="139.07" cy="287.85" r="2.0" fill="#3aa898" fill-opacity="0.82"/>
<circle cx="135.03" cy="289.11" r="2.0" fill="#3aa898" fill-opacity="0.82"/>
<circle cx="135.10" cy="290.37" r="2.0" fill="#3aa898" fill-opacity="0.82"/>
<circle cx="135.70" cy="291.63" r="2.0" fill="#3aa898" fill-opacity="0.82"/>
<circle cx="139.33" cy="292.89" r="2.0" fill="#3aa898" fill-opacity="0.82"/>
<circle cx="135.01" cy="294.16" r="2.0" fill="#3aa898" fill-opacity="0.82"/>
<circle cx="141.84" cy="294.16" r="2.0" fill="#3aa898" fill-opacity="0.82"/>
<circle cx="133.73" cy="295.42" r="2.0" fill="#3aa898" fill-opacity="0.82"/>
<circle cx="134.84" cy="295.42" r="2.0" fill="#3aa898" fill-opacity="0.82"/>
<circle cx="133.90" cy="296.68" r="2.0" fill="#3aa898" fill-opacity="0.82"/>
<circle cx="140.03" cy="296.68" r="2.0" fill="#3aa898" fill-opacity="0.82"/>
<circle cx="136.40" cy="297.94" r="2.0" fill="#3aa898" fill-opacity="0.82"/>
<circle cx="137.35" cy="299.20" r="2.0" fill="#3aa898" fill-opacity="0.82"/>
<circle cx="136.03" cy="299.20" r="2.0" fill="#3aa898" fill-opacity="0.82"/>
<circle cx="138.84" cy="300.47" r="2.0" fill="#3aa898" fill-opacity="0.82"/>
<circle cx="136.74" cy="301.73" r="2.0" fill="#3aa898" fill-opacity="0.82"/>
<circle cx="134.97" cy="302.99" r="2.0" fill="#3aa898" fill-opacity="0.82"/>
<circle cx="136.97" cy="304.25" r="2.0" fill="#3aa898" fill-opacity="0.82"/>
<circle cx="135.84" cy="305.51" r="2.0" fill="#3aa898" fill-opacity="0.82"/>
<circle cx="134.10" cy="306.78" r="2.0" fill="#3aa898" fill-opacity="0.82"/>
<circle cx="140.51" cy="308.04" r="2.0" fill="#3aa898" fill-opacity="0.82"/>
<circle cx="139.22" cy="291.63" r="2.0" fill="#3aa898" fill-opacity="0.82"/>
<line x1="125.40" y1="296.00" x2="149.80" y2="296.00" stroke="#231f20" stroke-width="1.3"/>
<line x1="137.60" y1="291.90" x2="137.60" y2="299.70" stroke="#231f20" stroke-width="1.1700000000000002"/>
<line x1="133.30" y1="291.90" x2="141.90" y2="291.90" stroke="#231f20" stroke-width="1.1700000000000002"/>
<line x1="133.30" y1="299.70" x2="141.90" y2="299.70" stroke="#231f20" stroke-width="1.1700000000000002"/>
<text x="137.60" y="192.00" font-size="7.8" font-weight="bold" text-anchor="middle" fill="#333">a</text>
<text x="137.60" y="320.70" font-size="7.4" text-anchor="middle" fill="#333" stroke="#333" stroke-width="0.28">27</text>
<text x="137.60" y="330.60" font-size="10.4" font-weight="bold" text-anchor="middle" fill="#231f20">+/+</text>
<line x1="186.30" y1="309.30" x2="186.30" y2="311.60" stroke="#231f20" stroke-width="0.9"/>
<circle cx="183.13" cy="246.20" r="2.0" fill="#ecc23c" fill-opacity="0.82"/>
<circle cx="187.34" cy="248.72" r="2.0" fill="#ecc23c" fill-opacity="0.82"/>
<circle cx="183.33" cy="270.18" r="2.0" fill="#ecc23c" fill-opacity="0.82"/>
<circle cx="188.21" cy="271.44" r="2.0" fill="#ecc23c" fill-opacity="0.82"/>
<circle cx="187.27" cy="271.44" r="2.0" fill="#ecc23c" fill-opacity="0.82"/>
<circle cx="185.26" cy="273.96" r="2.0" fill="#ecc23c" fill-opacity="0.82"/>
<circle cx="187.36" cy="276.49" r="2.0" fill="#ecc23c" fill-opacity="0.82"/>
<circle cx="186.90" cy="277.75" r="2.0" fill="#ecc23c" fill-opacity="0.82"/>
<circle cx="182.19" cy="279.01" r="2.0" fill="#ecc23c" fill-opacity="0.82"/>
<circle cx="186.57" cy="281.54" r="2.0" fill="#ecc23c" fill-opacity="0.82"/>
<circle cx="187.38" cy="281.54" r="2.0" fill="#ecc23c" fill-opacity="0.82"/>
<circle cx="186.48" cy="284.06" r="2.0" fill="#ecc23c" fill-opacity="0.82"/>
<circle cx="189.72" cy="285.32" r="2.0" fill="#ecc23c" fill-opacity="0.82"/>
<circle cx="188.42" cy="286.58" r="2.0" fill="#ecc23c" fill-opacity="0.82"/>
<circle cx="185.19" cy="286.58" r="2.0" fill="#ecc23c" fill-opacity="0.82"/>
<circle cx="183.84" cy="287.85" r="2.0" fill="#ecc23c" fill-opacity="0.82"/>
<circle cx="182.95" cy="289.11" r="2.0" fill="#ecc23c" fill-opacity="0.82"/>
<circle cx="189.09" cy="289.11" r="2.0" fill="#ecc23c" fill-opacity="0.82"/>
<circle cx="188.01" cy="290.37" r="2.0" fill="#ecc23c" fill-opacity="0.82"/>
<circle cx="187.28" cy="290.37" r="2.0" fill="#ecc23c" fill-opacity="0.82"/>
<circle cx="185.78" cy="291.63" r="2.0" fill="#ecc23c" fill-opacity="0.82"/>
<circle cx="186.31" cy="291.63" r="2.0" fill="#ecc23c" fill-opacity="0.82"/>
<circle cx="183.80" cy="292.89" r="2.0" fill="#ecc23c" fill-opacity="0.82"/>
<circle cx="186.57" cy="292.89" r="2.0" fill="#ecc23c" fill-opacity="0.82"/>
<circle cx="183.11" cy="294.16" r="2.0" fill="#ecc23c" fill-opacity="0.82"/>
<circle cx="187.39" cy="294.16" r="2.0" fill="#ecc23c" fill-opacity="0.82"/>
<circle cx="187.47" cy="294.16" r="2.0" fill="#ecc23c" fill-opacity="0.82"/>
<circle cx="187.83" cy="295.42" r="2.0" fill="#ecc23c" fill-opacity="0.82"/>
<circle cx="184.02" cy="295.42" r="2.0" fill="#ecc23c" fill-opacity="0.82"/>
<circle cx="182.63" cy="296.68" r="2.0" fill="#ecc23c" fill-opacity="0.82"/>
<circle cx="184.80" cy="296.68" r="2.0" fill="#ecc23c" fill-opacity="0.82"/>
<circle cx="187.99" cy="296.68" r="2.0" fill="#ecc23c" fill-opacity="0.82"/>
<circle cx="186.39" cy="297.94" r="2.0" fill="#ecc23c" fill-opacity="0.82"/>
<circle cx="188.53" cy="297.94" r="2.0" fill="#ecc23c" fill-opacity="0.82"/>
<circle cx="185.68" cy="299.20" r="2.0" fill="#ecc23c" fill-opacity="0.82"/>
<circle cx="185.39" cy="299.20" r="2.0" fill="#ecc23c" fill-opacity="0.82"/>
<circle cx="189.97" cy="300.47" r="2.0" fill="#ecc23c" fill-opacity="0.82"/>
<circle cx="183.30" cy="300.47" r="2.0" fill="#ecc23c" fill-opacity="0.82"/>
<circle cx="183.67" cy="301.73" r="2.0" fill="#ecc23c" fill-opacity="0.82"/>
<circle cx="187.10" cy="301.73" r="2.0" fill="#ecc23c" fill-opacity="0.82"/>
<circle cx="187.48" cy="302.99" r="2.0" fill="#ecc23c" fill-opacity="0.82"/>
<circle cx="185.70" cy="302.99" r="2.0" fill="#ecc23c" fill-opacity="0.82"/>
<circle cx="186.82" cy="304.25" r="2.0" fill="#ecc23c" fill-opacity="0.82"/>
<circle cx="185.77" cy="304.25" r="2.0" fill="#ecc23c" fill-opacity="0.82"/>
<circle cx="187.82" cy="305.51" r="2.0" fill="#ecc23c" fill-opacity="0.82"/>
<circle cx="189.80" cy="305.51" r="2.0" fill="#ecc23c" fill-opacity="0.82"/>
<circle cx="189.23" cy="306.78" r="2.0" fill="#ecc23c" fill-opacity="0.82"/>
<circle cx="187.55" cy="306.78" r="2.0" fill="#ecc23c" fill-opacity="0.82"/>
<circle cx="186.03" cy="308.04" r="2.0" fill="#ecc23c" fill-opacity="0.82"/>
<circle cx="190.33" cy="308.04" r="2.0" fill="#ecc23c" fill-opacity="0.82"/>
<circle cx="185.82" cy="309.30" r="2.0" fill="#ecc23c" fill-opacity="0.82"/>
<circle cx="187.43" cy="309.30" r="2.0" fill="#ecc23c" fill-opacity="0.82"/>
<circle cx="189.62" cy="290.37" r="2.0" fill="#ecc23c" fill-opacity="0.82"/>
<line x1="174.10" y1="292.10" x2="198.50" y2="292.10" stroke="#231f20" stroke-width="1.3"/>
<line x1="186.30" y1="288.90" x2="186.30" y2="296.20" stroke="#231f20" stroke-width="1.1700000000000002"/>
<line x1="182.00" y1="288.90" x2="190.60" y2="288.90" stroke="#231f20" stroke-width="1.1700000000000002"/>
<line x1="182.00" y1="296.20" x2="190.60" y2="296.20" stroke="#231f20" stroke-width="1.1700000000000002"/>
<text x="186.30" y="192.00" font-size="7.8" font-weight="bold" text-anchor="middle" fill="#333">a</text>
<text x="186.30" y="320.70" font-size="7.4" text-anchor="middle" fill="#333" stroke="#333" stroke-width="0.28">53</text>
<text x="186.30" y="330.60" font-size="10.4" font-weight="bold" text-anchor="middle" fill="#231f20">+/-</text>
<line x1="235.50" y1="309.30" x2="235.50" y2="311.60" stroke="#231f20" stroke-width="0.9"/>
<circle cx="239.81" cy="228.53" r="2.0" fill="#d85a62" fill-opacity="0.82"/>
<circle cx="235.11" cy="231.06" r="2.0" fill="#d85a62" fill-opacity="0.82"/>
<circle cx="237.47" cy="233.58" r="2.0" fill="#d85a62" fill-opacity="0.82"/>
<circle cx="237.61" cy="249.99" r="2.0" fill="#d85a62" fill-opacity="0.82"/>
<circle cx="232.93" cy="251.25" r="2.0" fill="#d85a62" fill-opacity="0.82"/>
<circle cx="231.70" cy="252.51" r="2.0" fill="#d85a62" fill-opacity="0.82"/>
<circle cx="236.42" cy="253.77" r="2.0" fill="#d85a62" fill-opacity="0.82"/>
<circle cx="232.10" cy="255.03" r="2.0" fill="#d85a62" fill-opacity="0.82"/>
<circle cx="234.44" cy="256.30" r="2.0" fill="#d85a62" fill-opacity="0.82"/>
<circle cx="239.01" cy="258.82" r="2.0" fill="#d85a62" fill-opacity="0.82"/>
<circle cx="238.85" cy="261.34" r="2.0" fill="#d85a62" fill-opacity="0.82"/>
<circle cx="232.07" cy="263.87" r="2.0" fill="#d85a62" fill-opacity="0.82"/>
<circle cx="231.74" cy="266.39" r="2.0" fill="#d85a62" fill-opacity="0.82"/>
<circle cx="233.00" cy="267.65" r="2.0" fill="#d85a62" fill-opacity="0.82"/>
<circle cx="238.45" cy="270.18" r="2.0" fill="#d85a62" fill-opacity="0.82"/>
<circle cx="231.22" cy="273.96" r="2.0" fill="#d85a62" fill-opacity="0.82"/>
<circle cx="233.03" cy="276.49" r="2.0" fill="#d85a62" fill-opacity="0.82"/>
<circle cx="231.97" cy="279.01" r="2.0" fill="#d85a62" fill-opacity="0.82"/>
<circle cx="232.15" cy="279.01" r="2.0" fill="#d85a62" fill-opacity="0.82"/>
<circle cx="235.71" cy="282.80" r="2.0" fill="#d85a62" fill-opacity="0.82"/>
<circle cx="232.65" cy="284.06" r="2.0" fill="#d85a62" fill-opacity="0.82"/>
<circle cx="234.68" cy="285.32" r="2.0" fill="#d85a62" fill-opacity="0.82"/>
<circle cx="237.60" cy="304.25" r="2.0" fill="#d85a62" fill-opacity="0.82"/>
<line x1="223.30" y1="261.30" x2="247.70" y2="261.30" stroke="#231f20" stroke-width="1.3"/>
<line x1="235.50" y1="252.30" x2="235.50" y2="269.50" stroke="#231f20" stroke-width="1.1700000000000002"/>
<line x1="231.20" y1="252.30" x2="239.80" y2="252.30" stroke="#231f20" stroke-width="1.1700000000000002"/>
<line x1="231.20" y1="269.50" x2="239.80" y2="269.50" stroke="#231f20" stroke-width="1.1700000000000002"/>
<text x="235.50" y="192.00" font-size="7.8" font-weight="bold" text-anchor="middle" fill="#333">b</text>
<text x="235.50" y="320.70" font-size="7.4" text-anchor="middle" fill="#333" stroke="#333" stroke-width="0.28">23</text>
<text x="235.50" y="330.60" font-size="10.4" font-weight="bold" text-anchor="middle" fill="#231f20">-/-</text>
<line x1="299.40" y1="309.30" x2="299.40" y2="311.60" stroke="#231f20" stroke-width="0.9"/>
<circle cx="303.54" cy="212.13" r="2.0" fill="#3aa898" fill-opacity="0.82"/>
<circle cx="302.75" cy="286.58" r="2.0" fill="#3aa898" fill-opacity="0.82"/>
<circle cx="301.49" cy="286.58" r="2.0" fill="#3aa898" fill-opacity="0.82"/>
<circle cx="296.95" cy="287.85" r="2.0" fill="#3aa898" fill-opacity="0.82"/>
<circle cx="297.88" cy="287.85" r="2.0" fill="#3aa898" fill-opacity="0.82"/>
<circle cx="301.32" cy="289.11" r="2.0" fill="#3aa898" fill-opacity="0.82"/>
<circle cx="302.16" cy="291.63" r="2.0" fill="#3aa898" fill-opacity="0.82"/>
<circle cx="295.05" cy="292.89" r="2.0" fill="#3aa898" fill-opacity="0.82"/>
<circle cx="296.40" cy="294.16" r="2.0" fill="#3aa898" fill-opacity="0.82"/>
<circle cx="302.96" cy="294.16" r="2.0" fill="#3aa898" fill-opacity="0.82"/>
<circle cx="295.96" cy="295.42" r="2.0" fill="#3aa898" fill-opacity="0.82"/>
<circle cx="300.80" cy="296.68" r="2.0" fill="#3aa898" fill-opacity="0.82"/>
<circle cx="297.87" cy="297.94" r="2.0" fill="#3aa898" fill-opacity="0.82"/>
<circle cx="300.71" cy="299.20" r="2.0" fill="#3aa898" fill-opacity="0.82"/>
<circle cx="302.66" cy="300.47" r="2.0" fill="#3aa898" fill-opacity="0.82"/>
<circle cx="300.13" cy="301.73" r="2.0" fill="#3aa898" fill-opacity="0.82"/>
<circle cx="298.42" cy="302.99" r="2.0" fill="#3aa898" fill-opacity="0.82"/>
<circle cx="297.80" cy="304.25" r="2.0" fill="#3aa898" fill-opacity="0.82"/>
<circle cx="300.49" cy="305.51" r="2.0" fill="#3aa898" fill-opacity="0.82"/>
<circle cx="300.55" cy="306.78" r="2.0" fill="#3aa898" fill-opacity="0.82"/>
<circle cx="298.59" cy="308.04" r="2.0" fill="#3aa898" fill-opacity="0.82"/>
<circle cx="299.10" cy="309.30" r="2.0" fill="#3aa898" fill-opacity="0.82"/>
<circle cx="299.73" cy="290.37" r="2.0" fill="#3aa898" fill-opacity="0.82"/>
<line x1="287.20" y1="294.50" x2="311.60" y2="294.50" stroke="#231f20" stroke-width="1.3"/>
<line x1="299.40" y1="286.40" x2="299.40" y2="303.00" stroke="#231f20" stroke-width="1.1700000000000002"/>
<line x1="295.10" y1="286.40" x2="303.70" y2="286.40" stroke="#231f20" stroke-width="1.1700000000000002"/>
<line x1="295.10" y1="303.00" x2="303.70" y2="303.00" stroke="#231f20" stroke-width="1.1700000000000002"/>
<text x="299.40" y="192.00" font-size="7.8" font-weight="bold" text-anchor="middle" fill="#333">a</text>
<text x="299.40" y="320.70" font-size="7.4" text-anchor="middle" fill="#333" stroke="#333" stroke-width="0.28">23</text>
<text x="299.40" y="330.60" font-size="10.4" font-weight="bold" text-anchor="middle" fill="#231f20">+/+</text>
<line x1="349.30" y1="309.30" x2="349.30" y2="311.60" stroke="#231f20" stroke-width="0.9"/>
<circle cx="352.70" cy="228.53" r="2.0" fill="#ecc23c" fill-opacity="0.82"/>
<circle cx="347.94" cy="236.10" r="2.0" fill="#ecc23c" fill-opacity="0.82"/>
<circle cx="351.92" cy="244.94" r="2.0" fill="#ecc23c" fill-opacity="0.82"/>
<circle cx="353.36" cy="249.99" r="2.0" fill="#ecc23c" fill-opacity="0.82"/>
<circle cx="347.61" cy="251.25" r="2.0" fill="#ecc23c" fill-opacity="0.82"/>
<circle cx="351.71" cy="258.82" r="2.0" fill="#ecc23c" fill-opacity="0.82"/>
<circle cx="347.81" cy="263.87" r="2.0" fill="#ecc23c" fill-opacity="0.82"/>
<circle cx="346.27" cy="273.96" r="2.0" fill="#ecc23c" fill-opacity="0.82"/>
<circle cx="347.93" cy="279.01" r="2.0" fill="#ecc23c" fill-opacity="0.82"/>
<circle cx="351.56" cy="284.06" r="2.0" fill="#ecc23c" fill-opacity="0.82"/>
<circle cx="346.13" cy="290.37" r="2.0" fill="#ecc23c" fill-opacity="0.82"/>
<circle cx="350.73" cy="291.63" r="2.0" fill="#ecc23c" fill-opacity="0.82"/>
<circle cx="347.96" cy="291.63" r="2.0" fill="#ecc23c" fill-opacity="0.82"/>
<circle cx="346.32" cy="292.89" r="2.0" fill="#ecc23c" fill-opacity="0.82"/>
<circle cx="348.67" cy="292.89" r="2.0" fill="#ecc23c" fill-opacity="0.82"/>
<circle cx="348.28" cy="294.16" r="2.0" fill="#ecc23c" fill-opacity="0.82"/>
<circle cx="348.94" cy="294.16" r="2.0" fill="#ecc23c" fill-opacity="0.82"/>
<circle cx="352.73" cy="295.42" r="2.0" fill="#ecc23c" fill-opacity="0.82"/>
<circle cx="353.08" cy="295.42" r="2.0" fill="#ecc23c" fill-opacity="0.82"/>
<circle cx="346.85" cy="296.68" r="2.0" fill="#ecc23c" fill-opacity="0.82"/>
<circle cx="353.69" cy="296.68" r="2.0" fill="#ecc23c" fill-opacity="0.82"/>
<circle cx="350.31" cy="296.68" r="2.0" fill="#ecc23c" fill-opacity="0.82"/>
<circle cx="353.44" cy="297.94" r="2.0" fill="#ecc23c" fill-opacity="0.82"/>
<circle cx="352.15" cy="297.94" r="2.0" fill="#ecc23c" fill-opacity="0.82"/>
<circle cx="349.53" cy="299.20" r="2.0" fill="#ecc23c" fill-opacity="0.82"/>
<circle cx="347.06" cy="299.20" r="2.0" fill="#ecc23c" fill-opacity="0.82"/>
<circle cx="353.16" cy="299.20" r="2.0" fill="#ecc23c" fill-opacity="0.82"/>
<circle cx="353.79" cy="300.47" r="2.0" fill="#ecc23c" fill-opacity="0.82"/>
<circle cx="350.42" cy="300.47" r="2.0" fill="#ecc23c" fill-opacity="0.82"/>
<circle cx="345.85" cy="300.47" r="2.0" fill="#ecc23c" fill-opacity="0.82"/>
<circle cx="352.21" cy="301.73" r="2.0" fill="#ecc23c" fill-opacity="0.82"/>
<circle cx="351.69" cy="301.73" r="2.0" fill="#ecc23c" fill-opacity="0.82"/>
<circle cx="352.72" cy="301.73" r="2.0" fill="#ecc23c" fill-opacity="0.82"/>
<circle cx="353.59" cy="302.99" r="2.0" fill="#ecc23c" fill-opacity="0.82"/>
<circle cx="353.58" cy="302.99" r="2.0" fill="#ecc23c" fill-opacity="0.82"/>
<circle cx="351.43" cy="302.99" r="2.0" fill="#ecc23c" fill-opacity="0.82"/>
<circle cx="348.33" cy="304.25" r="2.0" fill="#ecc23c" fill-opacity="0.82"/>
<circle cx="349.59" cy="304.25" r="2.0" fill="#ecc23c" fill-opacity="0.82"/>
<circle cx="349.34" cy="304.25" r="2.0" fill="#ecc23c" fill-opacity="0.82"/>
<circle cx="351.64" cy="305.51" r="2.0" fill="#ecc23c" fill-opacity="0.82"/>
<circle cx="350.44" cy="305.51" r="2.0" fill="#ecc23c" fill-opacity="0.82"/>
<circle cx="352.23" cy="305.51" r="2.0" fill="#ecc23c" fill-opacity="0.82"/>
<circle cx="349.44" cy="306.78" r="2.0" fill="#ecc23c" fill-opacity="0.82"/>
<circle cx="350.11" cy="306.78" r="2.0" fill="#ecc23c" fill-opacity="0.82"/>
<circle cx="353.47" cy="306.78" r="2.0" fill="#ecc23c" fill-opacity="0.82"/>
<circle cx="351.93" cy="308.04" r="2.0" fill="#ecc23c" fill-opacity="0.82"/>
<circle cx="353.18" cy="308.04" r="2.0" fill="#ecc23c" fill-opacity="0.82"/>
<circle cx="351.09" cy="308.04" r="2.0" fill="#ecc23c" fill-opacity="0.82"/>
<circle cx="345.92" cy="309.30" r="2.0" fill="#ecc23c" fill-opacity="0.82"/>
<circle cx="348.57" cy="309.30" r="2.0" fill="#ecc23c" fill-opacity="0.82"/>
<circle cx="347.42" cy="309.30" r="2.0" fill="#ecc23c" fill-opacity="0.82"/>
<circle cx="347.16" cy="294.16" r="2.0" fill="#ecc23c" fill-opacity="0.82"/>
<circle cx="345.94" cy="295.42" r="2.0" fill="#ecc23c" fill-opacity="0.82"/>
<circle cx="345.79" cy="297.94" r="2.0" fill="#ecc23c" fill-opacity="0.82"/>
<circle cx="349.13" cy="299.20" r="2.0" fill="#ecc23c" fill-opacity="0.82"/>
<circle cx="351.85" cy="301.73" r="2.0" fill="#ecc23c" fill-opacity="0.82"/>
<circle cx="352.61" cy="304.25" r="2.0" fill="#ecc23c" fill-opacity="0.82"/>
<circle cx="353.51" cy="306.78" r="2.0" fill="#ecc23c" fill-opacity="0.82"/>
<circle cx="350.04" cy="308.04" r="2.0" fill="#ecc23c" fill-opacity="0.82"/>
<line x1="337.10" y1="293.70" x2="361.50" y2="293.70" stroke="#231f20" stroke-width="1.3"/>
<line x1="349.30" y1="289.50" x2="349.30" y2="297.50" stroke="#231f20" stroke-width="1.1700000000000002"/>
<line x1="345.00" y1="289.50" x2="353.60" y2="289.50" stroke="#231f20" stroke-width="1.1700000000000002"/>
<line x1="345.00" y1="297.50" x2="353.60" y2="297.50" stroke="#231f20" stroke-width="1.1700000000000002"/>
<text x="349.30" y="192.00" font-size="7.8" font-weight="bold" text-anchor="middle" fill="#333">a</text>
<text x="349.30" y="320.70" font-size="7.4" text-anchor="middle" fill="#333" stroke="#333" stroke-width="0.28">59</text>
<text x="349.30" y="330.60" font-size="10.4" font-weight="bold" text-anchor="middle" fill="#231f20">+/-</text>
<line x1="397.40" y1="309.30" x2="397.40" y2="311.60" stroke="#231f20" stroke-width="0.9"/>
<circle cx="399.30" cy="184.36" r="2.0" fill="#d85a62" fill-opacity="0.82"/>
<circle cx="401.01" cy="205.82" r="2.0" fill="#d85a62" fill-opacity="0.82"/>
<circle cx="393.05" cy="231.06" r="2.0" fill="#d85a62" fill-opacity="0.82"/>
<circle cx="401.38" cy="233.58" r="2.0" fill="#d85a62" fill-opacity="0.82"/>
<circle cx="400.29" cy="237.37" r="2.0" fill="#d85a62" fill-opacity="0.82"/>
<circle cx="393.41" cy="239.89" r="2.0" fill="#d85a62" fill-opacity="0.82"/>
<circle cx="400.16" cy="243.68" r="2.0" fill="#d85a62" fill-opacity="0.82"/>
<circle cx="400.14" cy="246.20" r="2.0" fill="#d85a62" fill-opacity="0.82"/>
<circle cx="394.59" cy="248.72" r="2.0" fill="#d85a62" fill-opacity="0.82"/>
<circle cx="401.64" cy="252.51" r="2.0" fill="#d85a62" fill-opacity="0.82"/>
<circle cx="396.18" cy="258.82" r="2.0" fill="#d85a62" fill-opacity="0.82"/>
<circle cx="396.96" cy="262.61" r="2.0" fill="#d85a62" fill-opacity="0.82"/>
<circle cx="398.78" cy="268.92" r="2.0" fill="#d85a62" fill-opacity="0.82"/>
<circle cx="399.11" cy="271.44" r="2.0" fill="#d85a62" fill-opacity="0.82"/>
<circle cx="399.62" cy="291.63" r="2.0" fill="#d85a62" fill-opacity="0.82"/>
<circle cx="395.40" cy="296.68" r="2.0" fill="#d85a62" fill-opacity="0.82"/>
<line x1="385.20" y1="245.10" x2="409.60" y2="245.10" stroke="#231f20" stroke-width="1.3"/>
<line x1="397.40" y1="230.70" x2="397.40" y2="260.10" stroke="#231f20" stroke-width="1.1700000000000002"/>
<line x1="393.10" y1="230.70" x2="401.70" y2="230.70" stroke="#231f20" stroke-width="1.1700000000000002"/>
<line x1="393.10" y1="260.10" x2="401.70" y2="260.10" stroke="#231f20" stroke-width="1.1700000000000002"/>
<text x="397.40" y="192.00" font-size="7.8" font-weight="bold" text-anchor="middle" fill="#333">b</text>
<text x="397.40" y="320.70" font-size="7.4" text-anchor="middle" fill="#333" stroke="#333" stroke-width="0.28">16</text>
<text x="397.40" y="330.60" font-size="10.4" font-weight="bold" text-anchor="middle" fill="#231f20">-/-</text>
<text x="424.60" y="166.30" font-size="12.5" font-weight="bold" fill="#231f20">C</text>
<line x1="489.00" y1="175.85" x2="684.00" y2="175.85" stroke="#dcdcdc" stroke-width="1.1"/>
<line x1="489.00" y1="191.34" x2="684.00" y2="191.34" stroke="#dcdcdc" stroke-width="1.1"/>
<line x1="489.00" y1="206.83" x2="684.00" y2="206.83" stroke="#dcdcdc" stroke-width="1.1"/>
<line x1="489.00" y1="222.31" x2="684.00" y2="222.31" stroke="#dcdcdc" stroke-width="1.1"/>
<line x1="489.00" y1="237.80" x2="684.00" y2="237.80" stroke="#dcdcdc" stroke-width="1.1"/>
<line x1="489.00" y1="253.29" x2="684.00" y2="253.29" stroke="#dcdcdc" stroke-width="1.1"/>
<line x1="489.00" y1="268.78" x2="684.00" y2="268.78" stroke="#dcdcdc" stroke-width="1.1"/>
<line x1="489.00" y1="284.26" x2="684.00" y2="284.26" stroke="#dcdcdc" stroke-width="1.1"/>
<line x1="489.00" y1="299.75" x2="684.00" y2="299.75" stroke="#dcdcdc" stroke-width="1.1"/>
<line x1="488.50" y1="168.60" x2="488.50" y2="306.80" stroke="#231f20" stroke-width="1.3"/>
<line x1="487.90" y1="306.20" x2="683.50" y2="306.20" stroke="#231f20" stroke-width="1.3"/>
<line x1="486.50" y1="175.85" x2="488.50" y2="175.85" stroke="#231f20" stroke-width="0.8"/>
<text x="485.80" y="178.45" font-size="7.4" text-anchor="end" fill="#4a4a4a">100</text>
<line x1="486.50" y1="206.83" x2="488.50" y2="206.83" stroke="#231f20" stroke-width="0.8"/>
<text x="485.80" y="209.43" font-size="7.4" text-anchor="end" fill="#4a4a4a">50</text>
<line x1="486.50" y1="237.80" x2="488.50" y2="237.80" stroke="#231f20" stroke-width="0.8"/>
<text x="485.80" y="240.40" font-size="7.4" text-anchor="end" fill="#4a4a4a">0</text>
<line x1="486.50" y1="268.78" x2="488.50" y2="268.78" stroke="#231f20" stroke-width="0.8"/>
<text x="485.80" y="271.38" font-size="7.4" text-anchor="end" fill="#4a4a4a">50</text>
<line x1="486.50" y1="299.75" x2="488.50" y2="299.75" stroke="#231f20" stroke-width="0.8"/>
<text x="485.80" y="302.35" font-size="7.4" text-anchor="end" fill="#4a4a4a">100</text>
<rect x="491.10" y="196.29" width="15.60" height="41.51" fill="#e5543f"/>
<rect x="491.10" y="237.80" width="15.60" height="1.86" fill="#17609d"/>
<line x1="498.90" y1="306.20" x2="498.90" y2="308.30" stroke="#231f20" stroke-width="0.9"/>
<text x="498.90" y="315.80" font-size="7.7" text-anchor="middle" fill="#4a4a4a">1</text>
<rect x="508.60" y="209.30" width="15.60" height="28.50" fill="#e5543f"/>
<rect x="508.60" y="237.80" width="15.60" height="1.86" fill="#17609d"/>
<line x1="516.40" y1="306.20" x2="516.40" y2="308.30" stroke="#231f20" stroke-width="0.9"/>
<text x="516.40" y="315.80" font-size="7.7" text-anchor="middle" fill="#4a4a4a">2</text>
<rect x="526.10" y="209.30" width="15.60" height="28.50" fill="#e5543f"/>
<rect x="526.10" y="237.80" width="15.60" height="2.79" fill="#17609d"/>
<line x1="533.90" y1="306.20" x2="533.90" y2="308.30" stroke="#231f20" stroke-width="0.9"/>
<text x="533.90" y="315.80" font-size="7.7" text-anchor="middle" fill="#4a4a4a">3</text>
<rect x="543.60" y="210.54" width="15.60" height="27.26" fill="#e5543f"/>
<rect x="543.60" y="237.80" width="15.60" height="4.34" fill="#17609d"/>
<line x1="551.40" y1="306.20" x2="551.40" y2="308.30" stroke="#231f20" stroke-width="0.9"/>
<text x="551.40" y="315.80" font-size="7.7" text-anchor="middle" fill="#4a4a4a">4</text>
<rect x="561.10" y="196.29" width="15.60" height="41.51" fill="#e5543f"/>
<rect x="561.10" y="237.80" width="15.60" height="4.65" fill="#17609d"/>
<line x1="568.90" y1="306.20" x2="568.90" y2="308.30" stroke="#231f20" stroke-width="0.9"/>
<text x="568.90" y="315.80" font-size="7.7" text-anchor="middle" fill="#4a4a4a">5</text>
<rect x="578.60" y="206.83" width="15.60" height="30.97" fill="#e5543f"/>
<rect x="578.60" y="237.80" width="15.60" height="4.34" fill="#17609d"/>
<line x1="586.40" y1="306.20" x2="586.40" y2="308.30" stroke="#231f20" stroke-width="0.9"/>
<text x="586.40" y="315.80" font-size="7.7" text-anchor="middle" fill="#4a4a4a">6</text>
<rect x="596.10" y="206.83" width="15.60" height="30.97" fill="#e5543f"/>
<rect x="596.10" y="237.80" width="15.60" height="8.67" fill="#17609d"/>
<line x1="603.90" y1="306.20" x2="603.90" y2="308.30" stroke="#231f20" stroke-width="0.9"/>
<text x="603.90" y="315.80" font-size="7.7" text-anchor="middle" fill="#4a4a4a">7</text>
<rect x="613.60" y="226.03" width="15.60" height="11.77" fill="#e5543f"/>
<rect x="613.60" y="237.80" width="15.60" height="18.58" fill="#17609d"/>
<line x1="621.40" y1="306.20" x2="621.40" y2="308.30" stroke="#231f20" stroke-width="0.9"/>
<text x="621.40" y="315.80" font-size="7.7" text-anchor="middle" fill="#4a4a4a">8</text>
<rect x="631.10" y="234.08" width="15.60" height="3.72" fill="#e5543f"/>
<rect x="631.10" y="237.80" width="15.60" height="21.68" fill="#17609d"/>
<line x1="638.90" y1="306.20" x2="638.90" y2="308.30" stroke="#231f20" stroke-width="0.9"/>
<text x="638.90" y="315.80" font-size="7.7" text-anchor="middle" fill="#4a4a4a">9</text>
<rect x="648.60" y="234.70" width="15.60" height="3.10" fill="#e5543f"/>
<rect x="648.60" y="237.80" width="15.60" height="29.12" fill="#17609d"/>
<line x1="656.40" y1="306.20" x2="656.40" y2="308.30" stroke="#231f20" stroke-width="0.9"/>
<text x="656.40" y="315.80" font-size="7.7" text-anchor="middle" fill="#4a4a4a">10</text>
<rect x="666.10" y="237.80" width="15.60" height="52.04" fill="#17609d"/>
<line x1="673.90" y1="306.20" x2="673.90" y2="308.30" stroke="#231f20" stroke-width="0.9"/>
<text x="673.90" y="315.80" font-size="7.7" text-anchor="middle" fill="#4a4a4a">11</text>
<circle cx="495.58" cy="193.20" r="2.2" fill="#222222" fill-opacity="0.95"/>
<circle cx="499.26" cy="193.20" r="2.2" fill="#222222" fill-opacity="0.95"/>
<circle cx="502.84" cy="203.73" r="2.2" fill="#222222" fill-opacity="0.95"/>
<circle cx="496.06" cy="240.90" r="2.2" fill="#222222" fill-opacity="0.95"/>
<circle cx="499.26" cy="242.14" r="2.2" fill="#222222" fill-opacity="0.95"/>
<circle cx="503.03" cy="239.04" r="2.2" fill="#222222" fill-opacity="0.95"/>
<line x1="498.90" y1="192.78" x2="498.90" y2="199.80" stroke="#231f20" stroke-width="1"/>
<line x1="497.40" y1="192.78" x2="500.40" y2="192.78" stroke="#231f20" stroke-width="1"/>
<line x1="497.40" y1="199.80" x2="500.40" y2="199.80" stroke="#231f20" stroke-width="1"/>
<line x1="498.90" y1="238.63" x2="498.90" y2="240.69" stroke="#231f20" stroke-width="1"/>
<line x1="497.40" y1="240.69" x2="500.40" y2="240.69" stroke="#231f20" stroke-width="1"/>
<circle cx="512.19" cy="201.87" r="2.2" fill="#222222" fill-opacity="0.95"/>
<circle cx="516.35" cy="209.30" r="2.2" fill="#222222" fill-opacity="0.95"/>
<circle cx="520.57" cy="214.88" r="2.2" fill="#222222" fill-opacity="0.95"/>
<circle cx="513.12" cy="239.04" r="2.2" fill="#222222" fill-opacity="0.95"/>
<circle cx="517.00" cy="240.28" r="2.2" fill="#222222" fill-opacity="0.95"/>
<circle cx="519.32" cy="239.66" r="2.2" fill="#222222" fill-opacity="0.95"/>
<line x1="516.40" y1="204.97" x2="516.40" y2="213.64" stroke="#231f20" stroke-width="1"/>
<line x1="514.90" y1="204.97" x2="517.90" y2="204.97" stroke="#231f20" stroke-width="1"/>
<line x1="514.90" y1="213.64" x2="517.90" y2="213.64" stroke="#231f20" stroke-width="1"/>
<line x1="516.40" y1="238.73" x2="516.40" y2="240.59" stroke="#231f20" stroke-width="1"/>
<line x1="514.90" y1="240.59" x2="517.90" y2="240.59" stroke="#231f20" stroke-width="1"/>
<circle cx="530.35" cy="205.59" r="2.2" fill="#222222" fill-opacity="0.95"/>
<circle cx="533.52" cy="208.06" r="2.2" fill="#222222" fill-opacity="0.95"/>
<circle cx="537.47" cy="214.88" r="2.2" fill="#222222" fill-opacity="0.95"/>
<circle cx="530.51" cy="240.28" r="2.2" fill="#222222" fill-opacity="0.95"/>
<circle cx="533.17" cy="240.90" r="2.2" fill="#222222" fill-opacity="0.95"/>
<circle cx="536.98" cy="239.66" r="2.2" fill="#222222" fill-opacity="0.95"/>
<line x1="533.90" y1="206.21" x2="533.90" y2="212.40" stroke="#231f20" stroke-width="1"/>
<line x1="532.40" y1="206.21" x2="535.40" y2="206.21" stroke="#231f20" stroke-width="1"/>
<line x1="532.40" y1="212.40" x2="535.40" y2="212.40" stroke="#231f20" stroke-width="1"/>
<line x1="533.90" y1="239.66" x2="533.90" y2="241.52" stroke="#231f20" stroke-width="1"/>
<line x1="532.40" y1="241.52" x2="535.40" y2="241.52" stroke="#231f20" stroke-width="1"/>
<circle cx="547.57" cy="208.06" r="2.2" fill="#222222" fill-opacity="0.95"/>
<circle cx="552.02" cy="210.54" r="2.2" fill="#222222" fill-opacity="0.95"/>
<circle cx="555.30" cy="213.02" r="2.2" fill="#222222" fill-opacity="0.95"/>
<circle cx="547.39" cy="241.52" r="2.2" fill="#222222" fill-opacity="0.95"/>
<circle cx="551.85" cy="242.14" r="2.2" fill="#222222" fill-opacity="0.95"/>
<circle cx="554.36" cy="242.76" r="2.2" fill="#222222" fill-opacity="0.95"/>
<line x1="551.40" y1="208.89" x2="551.40" y2="212.19" stroke="#231f20" stroke-width="1"/>
<line x1="549.90" y1="208.89" x2="552.90" y2="208.89" stroke="#231f20" stroke-width="1"/>
<line x1="549.90" y1="212.19" x2="552.90" y2="212.19" stroke="#231f20" stroke-width="1"/>
<line x1="551.40" y1="241.21" x2="551.40" y2="243.07" stroke="#231f20" stroke-width="1"/>
<line x1="549.90" y1="243.07" x2="552.90" y2="243.07" stroke="#231f20" stroke-width="1"/>
<circle cx="565.58" cy="189.48" r="2.2" fill="#222222" fill-opacity="0.95"/>
<circle cx="568.34" cy="196.91" r="2.2" fill="#222222" fill-opacity="0.95"/>
<circle cx="571.65" cy="198.77" r="2.2" fill="#222222" fill-opacity="0.95"/>
<circle cx="565.96" cy="242.14" r="2.2" fill="#222222" fill-opacity="0.95"/>
<circle cx="568.46" cy="243.38" r="2.2" fill="#222222" fill-opacity="0.95"/>
<circle cx="571.97" cy="241.52" r="2.2" fill="#222222" fill-opacity="0.95"/>
<line x1="568.90" y1="193.20" x2="568.90" y2="199.39" stroke="#231f20" stroke-width="1"/>
<line x1="567.40" y1="193.20" x2="570.40" y2="193.20" stroke="#231f20" stroke-width="1"/>
<line x1="567.40" y1="199.39" x2="570.40" y2="199.39" stroke="#231f20" stroke-width="1"/>
<line x1="568.90" y1="241.52" x2="568.90" y2="243.38" stroke="#231f20" stroke-width="1"/>
<line x1="567.40" y1="243.38" x2="570.40" y2="243.38" stroke="#231f20" stroke-width="1"/>
<circle cx="583.62" cy="198.15" r="2.2" fill="#222222" fill-opacity="0.95"/>
<circle cx="586.96" cy="208.06" r="2.2" fill="#222222" fill-opacity="0.95"/>
<circle cx="589.58" cy="209.30" r="2.2" fill="#222222" fill-opacity="0.95"/>
<circle cx="583.59" cy="241.52" r="2.2" fill="#222222" fill-opacity="0.95"/>
<circle cx="586.46" cy="243.38" r="2.2" fill="#222222" fill-opacity="0.95"/>
<circle cx="590.17" cy="240.90" r="2.2" fill="#222222" fill-opacity="0.95"/>
<line x1="586.40" y1="203.11" x2="586.40" y2="210.54" stroke="#231f20" stroke-width="1"/>
<line x1="584.90" y1="203.11" x2="587.90" y2="203.11" stroke="#231f20" stroke-width="1"/>
<line x1="584.90" y1="210.54" x2="587.90" y2="210.54" stroke="#231f20" stroke-width="1"/>
<line x1="586.40" y1="241.21" x2="586.40" y2="243.07" stroke="#231f20" stroke-width="1"/>
<line x1="584.90" y1="243.07" x2="587.90" y2="243.07" stroke="#231f20" stroke-width="1"/>
<circle cx="599.96" cy="198.77" r="2.2" fill="#222222" fill-opacity="0.95"/>
<circle cx="604.56" cy="208.06" r="2.2" fill="#222222" fill-opacity="0.95"/>
<circle cx="607.69" cy="210.54" r="2.2" fill="#222222" fill-opacity="0.95"/>
<circle cx="601.10" cy="247.71" r="2.2" fill="#222222" fill-opacity="0.95"/>
<circle cx="604.49" cy="246.47" r="2.2" fill="#222222" fill-opacity="0.95"/>
<circle cx="607.10" cy="247.09" r="2.2" fill="#222222" fill-opacity="0.95"/>
<line x1="603.90" y1="202.90" x2="603.90" y2="210.75" stroke="#231f20" stroke-width="1"/>
<line x1="602.40" y1="202.90" x2="605.40" y2="202.90" stroke="#231f20" stroke-width="1"/>
<line x1="602.40" y1="210.75" x2="605.40" y2="210.75" stroke="#231f20" stroke-width="1"/>
<line x1="603.90" y1="245.54" x2="603.90" y2="247.40" stroke="#231f20" stroke-width="1"/>
<line x1="602.40" y1="247.40" x2="605.40" y2="247.40" stroke="#231f20" stroke-width="1"/>
<circle cx="617.69" cy="222.93" r="2.2" fill="#222222" fill-opacity="0.95"/>
<circle cx="620.90" cy="225.41" r="2.2" fill="#222222" fill-opacity="0.95"/>
<circle cx="624.37" cy="227.89" r="2.2" fill="#222222" fill-opacity="0.95"/>
<circle cx="617.25" cy="254.53" r="2.2" fill="#222222" fill-opacity="0.95"/>
<circle cx="621.10" cy="257.62" r="2.2" fill="#222222" fill-opacity="0.95"/>
<circle cx="625.05" cy="258.24" r="2.2" fill="#222222" fill-opacity="0.95"/>
<line x1="621.40" y1="224.38" x2="621.40" y2="227.68" stroke="#231f20" stroke-width="1"/>
<line x1="619.90" y1="224.38" x2="622.90" y2="224.38" stroke="#231f20" stroke-width="1"/>
<line x1="619.90" y1="227.68" x2="622.90" y2="227.68" stroke="#231f20" stroke-width="1"/>
<line x1="621.40" y1="255.15" x2="621.40" y2="257.62" stroke="#231f20" stroke-width="1"/>
<line x1="619.90" y1="257.62" x2="622.90" y2="257.62" stroke="#231f20" stroke-width="1"/>
<circle cx="634.66" cy="233.46" r="2.2" fill="#222222" fill-opacity="0.95"/>
<circle cx="639.17" cy="234.08" r="2.2" fill="#222222" fill-opacity="0.95"/>
<circle cx="642.16" cy="234.70" r="2.2" fill="#222222" fill-opacity="0.95"/>
<circle cx="635.11" cy="257.00" r="2.2" fill="#222222" fill-opacity="0.95"/>
<circle cx="639.38" cy="260.10" r="2.2" fill="#222222" fill-opacity="0.95"/>
<circle cx="642.37" cy="258.86" r="2.2" fill="#222222" fill-opacity="0.95"/>
<line x1="638.90" y1="232.84" x2="638.90" y2="235.32" stroke="#231f20" stroke-width="1"/>
<line x1="637.40" y1="232.84" x2="640.40" y2="232.84" stroke="#231f20" stroke-width="1"/>
<line x1="637.40" y1="235.32" x2="640.40" y2="235.32" stroke="#231f20" stroke-width="1"/>
<line x1="638.90" y1="258.45" x2="638.90" y2="260.51" stroke="#231f20" stroke-width="1"/>
<line x1="637.40" y1="260.51" x2="640.40" y2="260.51" stroke="#231f20" stroke-width="1"/>
<circle cx="652.62" cy="234.08" r="2.2" fill="#222222" fill-opacity="0.95"/>
<circle cx="656.37" cy="234.70" r="2.2" fill="#222222" fill-opacity="0.95"/>
<circle cx="660.21" cy="234.70" r="2.2" fill="#222222" fill-opacity="0.95"/>
<circle cx="652.24" cy="265.06" r="2.2" fill="#222222" fill-opacity="0.95"/>
<circle cx="657.11" cy="267.54" r="2.2" fill="#222222" fill-opacity="0.95"/>
<circle cx="659.18" cy="266.30" r="2.2" fill="#222222" fill-opacity="0.95"/>
<line x1="656.40" y1="233.46" x2="656.40" y2="235.94" stroke="#231f20" stroke-width="1"/>
<line x1="654.90" y1="233.46" x2="657.90" y2="233.46" stroke="#231f20" stroke-width="1"/>
<line x1="654.90" y1="235.94" x2="657.90" y2="235.94" stroke="#231f20" stroke-width="1"/>
<line x1="656.40" y1="265.99" x2="656.40" y2="267.85" stroke="#231f20" stroke-width="1"/>
<line x1="654.90" y1="267.85" x2="657.90" y2="267.85" stroke="#231f20" stroke-width="1"/>
<circle cx="670.77" cy="237.80" r="2.2" fill="#222222" fill-opacity="0.95"/>
<circle cx="674.42" cy="237.80" r="2.2" fill="#222222" fill-opacity="0.95"/>
<circle cx="676.68" cy="237.80" r="2.2" fill="#222222" fill-opacity="0.95"/>
<circle cx="670.83" cy="286.12" r="2.2" fill="#222222" fill-opacity="0.95"/>
<circle cx="673.70" cy="290.46" r="2.2" fill="#222222" fill-opacity="0.95"/>
<circle cx="677.52" cy="292.32" r="2.2" fill="#222222" fill-opacity="0.95"/>
<line x1="673.90" y1="287.77" x2="673.90" y2="291.90" stroke="#231f20" stroke-width="1"/>
<line x1="672.40" y1="291.90" x2="675.40" y2="291.90" stroke="#231f20" stroke-width="1"/>
<line x1="469.10" y1="221.50" x2="469.10" y2="178.00" stroke="#231f20" stroke-width="1.3"/>
<path d="M469.1 174.5 L466.3 180 L471.9 180 Z" fill="#231f20" stroke="none" stroke-width="1"/>
<line x1="469.10" y1="253.00" x2="469.10" y2="296.00" stroke="#231f20" stroke-width="1.3"/>
<path d="M469.1 299.5 L466.3 294 L471.9 294 Z" fill="#231f20" stroke="none" stroke-width="1"/>
<text x="447.60" y="240.50" font-size="11" text-anchor="middle" fill="#231f20" stroke="#231f20" stroke-width="0.28" transform="rotate(-90 447.60 240.50)">Percentage of modules with a</text>
<text x="459.40" y="240.50" font-size="11" text-anchor="middle" fill="#231f20" stroke="#231f20" stroke-width="0.28" transform="rotate(-90 459.40 240.50)">fold change ≥ 2 in <tspan font-style="italic">tsk</tspan> plants  (%)</text>
<text x="593.20" y="326.20" font-size="10.4" font-weight="bold" text-anchor="middle" fill="#231f20">Co-expression module</text>
<line x1="498.00" y1="331.30" x2="605.90" y2="331.30" stroke="#e5543f" stroke-width="2.6"/>
<line x1="617.20" y1="331.30" x2="675.60" y2="331.30" stroke="#17609d" stroke-width="2.6"/>
<text x="551.00" y="340.60" font-size="7.8" font-weight="bold" text-anchor="middle" fill="#333">Upregulated</text>
<text x="551.00" y="351.20" font-size="7.8" font-weight="bold" text-anchor="middle" fill="#333">by SOG1</text>
<text x="647.00" y="340.60" font-size="7.8" font-weight="bold" text-anchor="middle" fill="#333">Downregulated</text>
<text x="647.00" y="351.20" font-size="7.8" font-weight="bold" text-anchor="middle" fill="#333">by SOG1</text>
<text x="1.50" y="348.40" font-size="12.5" font-weight="bold" fill="#231f20">D</text>
<rect x="70.90" y="348.30" width="8.80" height="48.60" fill="#a9adad"/>
<rect x="79.70" y="348.30" width="31.20" height="48.60" fill="#d9d9d9"/>
<line x1="70.90" y1="348.30" x2="70.90" y2="397.50" stroke="#231f20" stroke-width="1.1"/>
<line x1="70.40" y1="396.90" x2="257.00" y2="396.90" stroke="#231f20" stroke-width="1.2"/>
<line x1="70.90" y1="396.90" x2="70.90" y2="399.10" stroke="#231f20" stroke-width="0.9"/>
<line x1="90.68" y1="396.90" x2="90.68" y2="399.10" stroke="#231f20" stroke-width="0.9"/>
<line x1="110.46" y1="396.90" x2="110.46" y2="399.10" stroke="#231f20" stroke-width="0.9"/>
<line x1="130.24" y1="396.90" x2="130.24" y2="399.10" stroke="#231f20" stroke-width="0.9"/>
<line x1="150.02" y1="396.90" x2="150.02" y2="399.10" stroke="#231f20" stroke-width="0.9"/>
<line x1="169.80" y1="396.90" x2="169.80" y2="399.10" stroke="#231f20" stroke-width="0.9"/>
<line x1="189.58" y1="396.90" x2="189.58" y2="399.10" stroke="#231f20" stroke-width="0.9"/>
<line x1="209.36" y1="396.90" x2="209.36" y2="399.10" stroke="#231f20" stroke-width="0.9"/>
<line x1="229.14" y1="396.90" x2="229.14" y2="399.10" stroke="#231f20" stroke-width="0.9"/>
<line x1="248.92" y1="396.90" x2="248.92" y2="399.10" stroke="#231f20" stroke-width="0.9"/>
<circle cx="73.80" cy="354.50" r="2.1" fill="#d9656b" fill-opacity="0.85"/>
<circle cx="76.70" cy="354.50" r="2.1" fill="#d9656b" fill-opacity="0.85"/>
<circle cx="82.50" cy="354.50" r="2.1" fill="#d9656b" fill-opacity="0.85"/>
<circle cx="84.90" cy="354.50" r="2.1" fill="#d9656b" fill-opacity="0.85"/>
<circle cx="86.90" cy="354.50" r="2.1" fill="#d9656b" fill-opacity="0.85"/>
<circle cx="88.40" cy="354.50" r="2.1" fill="#d9656b" fill-opacity="0.85"/>
<circle cx="91.30" cy="354.50" r="2.1" fill="#d9656b" fill-opacity="0.85"/>
<circle cx="95.70" cy="354.50" r="2.1" fill="#d9656b" fill-opacity="0.85"/>
<circle cx="103.00" cy="354.50" r="2.1" fill="#d9656b" fill-opacity="0.85"/>
<circle cx="105.30" cy="354.50" r="2.1" fill="#d9656b" fill-opacity="0.85"/>
<circle cx="140.90" cy="354.50" r="2.1" fill="#d9656b" fill-opacity="0.85"/>
<circle cx="146.20" cy="354.50" r="2.1" fill="#d9656b" fill-opacity="0.85"/>
<text x="58.90" y="356.90" font-size="7.0" font-weight="bold" font-style="italic" fill="#231f20">#1</text>
<circle cx="73.20" cy="366.10" r="2.1" fill="#d9656b" fill-opacity="0.85"/>
<circle cx="80.20" cy="366.10" r="2.1" fill="#d9656b" fill-opacity="0.85"/>
<circle cx="83.10" cy="366.10" r="2.1" fill="#d9656b" fill-opacity="0.85"/>
<circle cx="85.40" cy="366.10" r="2.1" fill="#d9656b" fill-opacity="0.85"/>
<circle cx="90.70" cy="366.10" r="2.1" fill="#d9656b" fill-opacity="0.85"/>
<circle cx="91.30" cy="366.10" r="2.1" fill="#d9656b" fill-opacity="0.85"/>
<circle cx="98.60" cy="366.10" r="2.1" fill="#d9656b" fill-opacity="0.85"/>
<circle cx="103.00" cy="366.10" r="2.1" fill="#d9656b" fill-opacity="0.85"/>
<circle cx="110.30" cy="366.10" r="2.1" fill="#d9656b" fill-opacity="0.85"/>
<circle cx="120.50" cy="366.10" r="2.1" fill="#d9656b" fill-opacity="0.85"/>
<circle cx="121.00" cy="366.10" r="2.1" fill="#d9656b" fill-opacity="0.85"/>
<circle cx="141.50" cy="366.10" r="2.1" fill="#d9656b" fill-opacity="0.85"/>
<circle cx="156.10" cy="366.10" r="2.1" fill="#d9656b" fill-opacity="0.85"/>
<text x="58.90" y="368.50" font-size="7.0" font-weight="bold" font-style="italic" fill="#231f20">#2</text>
<circle cx="72.30" cy="378.50" r="2.1" fill="#d9656b" fill-opacity="0.85"/>
<circle cx="73.80" cy="378.50" r="2.1" fill="#d9656b" fill-opacity="0.85"/>
<circle cx="76.10" cy="378.50" r="2.1" fill="#d9656b" fill-opacity="0.85"/>
<circle cx="78.10" cy="378.50" r="2.1" fill="#d9656b" fill-opacity="0.85"/>
<circle cx="82.50" cy="378.50" r="2.1" fill="#d9656b" fill-opacity="0.85"/>
<circle cx="84.00" cy="378.50" r="2.1" fill="#d9656b" fill-opacity="0.85"/>
<circle cx="85.40" cy="378.50" r="2.1" fill="#d9656b" fill-opacity="0.85"/>
<circle cx="86.90" cy="378.50" r="2.1" fill="#d9656b" fill-opacity="0.85"/>
<circle cx="89.80" cy="378.50" r="2.1" fill="#d9656b" fill-opacity="0.85"/>
<circle cx="93.60" cy="378.50" r="2.1" fill="#d9656b" fill-opacity="0.85"/>
<circle cx="95.70" cy="378.50" r="2.1" fill="#d9656b" fill-opacity="0.85"/>
<circle cx="102.40" cy="378.50" r="2.1" fill="#d9656b" fill-opacity="0.85"/>
<circle cx="112.30" cy="378.50" r="2.1" fill="#d9656b" fill-opacity="0.85"/>
<text x="58.90" y="380.90" font-size="7.0" font-weight="bold" font-style="italic" fill="#231f20">#3</text>
<circle cx="72.30" cy="392.30" r="2.1" fill="#d9656b" fill-opacity="0.85"/>
<circle cx="74.30" cy="392.30" r="2.1" fill="#d9656b" fill-opacity="0.85"/>
<circle cx="76.70" cy="392.30" r="2.1" fill="#d9656b" fill-opacity="0.85"/>
<circle cx="79.00" cy="392.30" r="2.1" fill="#d9656b" fill-opacity="0.85"/>
<circle cx="81.00" cy="392.30" r="2.1" fill="#d9656b" fill-opacity="0.85"/>
<circle cx="83.10" cy="392.30" r="2.1" fill="#d9656b" fill-opacity="0.85"/>
<circle cx="85.40" cy="392.30" r="2.1" fill="#d9656b" fill-opacity="0.85"/>
<circle cx="87.80" cy="392.30" r="2.1" fill="#d9656b" fill-opacity="0.85"/>
<circle cx="90.70" cy="392.30" r="2.1" fill="#d9656b" fill-opacity="0.85"/>
<circle cx="92.70" cy="392.30" r="2.1" fill="#d9656b" fill-opacity="0.85"/>
<circle cx="100.00" cy="392.30" r="2.1" fill="#d9656b" fill-opacity="0.85"/>
<circle cx="102.40" cy="392.30" r="2.1" fill="#d9656b" fill-opacity="0.85"/>
<circle cx="125.70" cy="392.30" r="2.1" fill="#d9656b" fill-opacity="0.85"/>
<circle cx="154.00" cy="392.30" r="2.1" fill="#d9656b" fill-opacity="0.85"/>
<text x="58.90" y="394.70" font-size="7.0" font-weight="bold" font-style="italic" fill="#231f20">#4</text>
<path d="M57.2 349.3 L55.2 349.3 L55.2 395.9 L57.2 395.9" fill="none" stroke="#231f20" stroke-width="1.0"/>
<text x="52.60" y="375.50" font-size="8.1" font-style="italic" text-anchor="end" fill="#231f20" stroke="#231f20" stroke-width="0.28" letter-spacing="0.15">tsk-4</text>
<text x="258.20" y="357.90" font-size="7.2" font-weight="bold" text-anchor="end" fill="#333">17</text>
<text x="258.20" y="369.40" font-size="7.2" font-weight="bold" text-anchor="end" fill="#333">15</text>
<text x="258.20" y="381.60" font-size="7.2" font-weight="bold" text-anchor="end" fill="#333">26</text>
<text x="258.20" y="393.10" font-size="7.2" font-weight="bold" text-anchor="end" fill="#333">22</text>
<text x="262.00" y="345.60" font-size="7.7" text-anchor="end" fill="#333" stroke="#333" stroke-width="0.28">n &gt; 10kb</text>
<rect x="70.90" y="413.90" width="10.30" height="48.50" fill="#a9adad"/>
<rect x="81.20" y="413.90" width="29.70" height="48.50" fill="#d9d9d9"/>
<line x1="70.90" y1="413.90" x2="70.90" y2="463.00" stroke="#231f20" stroke-width="1.1"/>
<line x1="70.40" y1="462.40" x2="257.00" y2="462.40" stroke="#231f20" stroke-width="1.2"/>
<line x1="70.90" y1="462.40" x2="70.90" y2="464.60" stroke="#231f20" stroke-width="0.9"/>
<line x1="90.68" y1="462.40" x2="90.68" y2="464.60" stroke="#231f20" stroke-width="0.9"/>
<line x1="110.46" y1="462.40" x2="110.46" y2="464.60" stroke="#231f20" stroke-width="0.9"/>
<line x1="130.24" y1="462.40" x2="130.24" y2="464.60" stroke="#231f20" stroke-width="0.9"/>
<line x1="150.02" y1="462.40" x2="150.02" y2="464.60" stroke="#231f20" stroke-width="0.9"/>
<line x1="169.80" y1="462.40" x2="169.80" y2="464.60" stroke="#231f20" stroke-width="0.9"/>
<line x1="189.58" y1="462.40" x2="189.58" y2="464.60" stroke="#231f20" stroke-width="0.9"/>
<line x1="209.36" y1="462.40" x2="209.36" y2="464.60" stroke="#231f20" stroke-width="0.9"/>
<line x1="229.14" y1="462.40" x2="229.14" y2="464.60" stroke="#231f20" stroke-width="0.9"/>
<line x1="248.92" y1="462.40" x2="248.92" y2="464.60" stroke="#231f20" stroke-width="0.9"/>
<circle cx="72.00" cy="418.80" r="2.1" fill="#3aa898" fill-opacity="0.85"/>
<text x="58.90" y="421.20" font-size="7.0" font-weight="bold" font-style="italic" fill="#231f20">#1</text>
<circle cx="71.80" cy="426.00" r="2.1" fill="#3aa898" fill-opacity="0.85"/>
<text x="58.90" y="428.40" font-size="7.0" font-weight="bold" font-style="italic" fill="#231f20">#2</text>
<circle cx="72.30" cy="434.50" r="2.1" fill="#ee7b52" fill-opacity="0.85"/>
<circle cx="81.00" cy="434.50" r="2.1" fill="#ee7b52" fill-opacity="0.85"/>
<circle cx="86.00" cy="434.50" r="2.1" fill="#ee7b52" fill-opacity="0.85"/>
<circle cx="87.80" cy="434.50" r="2.1" fill="#ee7b52" fill-opacity="0.85"/>
<circle cx="90.70" cy="434.50" r="2.1" fill="#ee7b52" fill-opacity="0.85"/>
<circle cx="103.80" cy="434.50" r="2.1" fill="#ee7b52" fill-opacity="0.85"/>
<circle cx="110.30" cy="434.50" r="2.1" fill="#ee7b52" fill-opacity="0.85"/>
<text x="58.90" y="436.90" font-size="7.0" font-weight="bold" font-style="italic" fill="#231f20">#1</text>
<circle cx="72.30" cy="441.60" r="2.1" fill="#ee7b52" fill-opacity="0.85"/>
<circle cx="74.30" cy="441.60" r="2.1" fill="#ee7b52" fill-opacity="0.85"/>
<circle cx="76.70" cy="441.60" r="2.1" fill="#ee7b52" fill-opacity="0.85"/>
<circle cx="79.00" cy="441.60" r="2.1" fill="#ee7b52" fill-opacity="0.85"/>
<circle cx="81.00" cy="441.60" r="2.1" fill="#ee7b52" fill-opacity="0.85"/>
<circle cx="86.00" cy="441.60" r="2.1" fill="#ee7b52" fill-opacity="0.85"/>
<circle cx="92.70" cy="441.60" r="2.1" fill="#ee7b52" fill-opacity="0.85"/>
<circle cx="113.20" cy="441.60" r="2.1" fill="#ee7b52" fill-opacity="0.85"/>
<circle cx="119.00" cy="441.60" r="2.1" fill="#ee7b52" fill-opacity="0.85"/>
<circle cx="196.40" cy="441.60" r="2.1" fill="#ee7b52" fill-opacity="0.85"/>
<text x="58.90" y="444.00" font-size="7.0" font-weight="bold" font-style="italic" fill="#231f20">#2</text>
<circle cx="72.30" cy="450.30" r="2.1" fill="#ee7b52" fill-opacity="0.85"/>
<circle cx="73.80" cy="450.30" r="2.1" fill="#ee7b52" fill-opacity="0.85"/>
<circle cx="76.10" cy="450.30" r="2.1" fill="#ee7b52" fill-opacity="0.85"/>
<circle cx="86.00" cy="450.30" r="2.1" fill="#ee7b52" fill-opacity="0.85"/>
<circle cx="89.80" cy="450.30" r="2.1" fill="#ee7b52" fill-opacity="0.85"/>
<circle cx="96.50" cy="450.30" r="2.1" fill="#ee7b52" fill-opacity="0.85"/>
<circle cx="103.50" cy="450.30" r="2.1" fill="#ee7b52" fill-opacity="0.85"/>
<circle cx="143.20" cy="450.30" r="2.1" fill="#ee7b52" fill-opacity="0.85"/>
<text x="58.90" y="452.70" font-size="7.0" font-weight="bold" font-style="italic" fill="#231f20">#1</text>
<circle cx="72.30" cy="457.80" r="2.1" fill="#ee7b52" fill-opacity="0.85"/>
<circle cx="74.30" cy="457.80" r="2.1" fill="#ee7b52" fill-opacity="0.85"/>
<circle cx="76.70" cy="457.80" r="2.1" fill="#ee7b52" fill-opacity="0.85"/>
<circle cx="79.00" cy="457.80" r="2.1" fill="#ee7b52" fill-opacity="0.85"/>
<circle cx="86.00" cy="457.80" r="2.1" fill="#ee7b52" fill-opacity="0.85"/>
<circle cx="100.00" cy="457.80" r="2.1" fill="#ee7b52" fill-opacity="0.85"/>
<circle cx="103.00" cy="457.80" r="2.1" fill="#ee7b52" fill-opacity="0.85"/>
<circle cx="186.20" cy="457.80" r="2.1" fill="#ee7b52" fill-opacity="0.85"/>
<circle cx="227.00" cy="457.80" r="2.1" fill="#ee7b52" fill-opacity="0.85"/>
<text x="58.90" y="460.20" font-size="7.0" font-weight="bold" font-style="italic" fill="#231f20">#2</text>
<path d="M57.2 413.5 L55.2 413.5 L55.2 427.2 L57.2 427.2" fill="none" stroke="#231f20" stroke-width="1.0"/>
<path d="M57.2 429.8 L55.2 429.8 L55.2 444.3 L57.2 444.3" fill="none" stroke="#231f20" stroke-width="1.0"/>
<path d="M57.2 448.0 L55.2 448.0 L55.2 463.2 L57.2 463.2" fill="none" stroke="#231f20" stroke-width="1.0"/>
<text x="53.20" y="422.80" font-size="8.1" font-style="italic" text-anchor="end" fill="#231f20" stroke="#231f20" stroke-width="0.28" letter-spacing="0.15">sog1-1</text>
<text x="52.60" y="441.20" font-size="8.1" font-style="italic" text-anchor="end" fill="#231f20" stroke="#231f20" stroke-width="0.28" letter-spacing="0.1">tsk-4 sog1-1</text>
<text x="52.60" y="454.50" font-size="8.1" font-style="italic" text-anchor="end" fill="#231f20" stroke="#231f20" stroke-width="0.28" letter-spacing="0.1">tsk-4 sog1-1</text>
<text x="50.60" y="462.30" font-size="8.1" font-style="italic" text-anchor="end" fill="#231f20" stroke="#231f20" stroke-width="0.28" letter-spacing="0.1">(branched)</text>
<text x="258.20" y="420.90" font-size="7.2" font-weight="bold" text-anchor="end" fill="#333">3</text>
<text x="258.20" y="429.10" font-size="7.2" font-weight="bold" text-anchor="end" fill="#333">2</text>
<text x="258.20" y="436.90" font-size="7.2" font-weight="bold" text-anchor="end" fill="#333">11</text>
<text x="258.20" y="445.00" font-size="7.2" font-weight="bold" text-anchor="end" fill="#333">11</text>
<text x="258.20" y="453.20" font-size="7.2" font-weight="bold" text-anchor="end" fill="#333">11</text>
<text x="258.20" y="461.00" font-size="7.2" font-weight="bold" text-anchor="end" fill="#333">20</text>
<rect x="70.90" y="479.30" width="10.30" height="48.80" fill="#a9adad"/>
<rect x="81.20" y="479.30" width="29.70" height="48.80" fill="#d9d9d9"/>
<line x1="70.90" y1="479.30" x2="70.90" y2="528.70" stroke="#231f20" stroke-width="1.1"/>
<line x1="70.40" y1="528.10" x2="257.00" y2="528.10" stroke="#231f20" stroke-width="1.2"/>
<line x1="70.90" y1="528.10" x2="70.90" y2="530.30" stroke="#231f20" stroke-width="0.9"/>
<line x1="90.68" y1="528.10" x2="90.68" y2="530.30" stroke="#231f20" stroke-width="0.9"/>
<line x1="110.46" y1="528.10" x2="110.46" y2="530.30" stroke="#231f20" stroke-width="0.9"/>
<line x1="130.24" y1="528.10" x2="130.24" y2="530.30" stroke="#231f20" stroke-width="0.9"/>
<line x1="150.02" y1="528.10" x2="150.02" y2="530.30" stroke="#231f20" stroke-width="0.9"/>
<line x1="169.80" y1="528.10" x2="169.80" y2="530.30" stroke="#231f20" stroke-width="0.9"/>
<line x1="189.58" y1="528.10" x2="189.58" y2="530.30" stroke="#231f20" stroke-width="0.9"/>
<line x1="209.36" y1="528.10" x2="209.36" y2="530.30" stroke="#231f20" stroke-width="0.9"/>
<line x1="229.14" y1="528.10" x2="229.14" y2="530.30" stroke="#231f20" stroke-width="0.9"/>
<line x1="248.92" y1="528.10" x2="248.92" y2="530.30" stroke="#231f20" stroke-width="0.9"/>
<circle cx="71.40" cy="486.30" r="2.1" fill="#3aa898" fill-opacity="0.85"/>
<text x="58.90" y="488.70" font-size="7.0" font-weight="bold" font-style="italic" fill="#231f20">#1</text>
<circle cx="71.00" cy="498.10" r="2.1" fill="#3aa898" fill-opacity="0.85"/>
<text x="58.90" y="500.50" font-size="7.0" font-weight="bold" font-style="italic" fill="#231f20">#2</text>
<circle cx="71.10" cy="509.80" r="2.1" fill="#ee7b52" fill-opacity="0.85"/>
<circle cx="81.40" cy="509.80" r="2.1" fill="#ee7b52" fill-opacity="0.85"/>
<circle cx="82.50" cy="509.80" r="2.1" fill="#ee7b52" fill-opacity="0.85"/>
<circle cx="85.40" cy="509.80" r="2.1" fill="#ee7b52" fill-opacity="0.85"/>
<circle cx="88.40" cy="509.80" r="2.1" fill="#ee7b52" fill-opacity="0.85"/>
<circle cx="90.50" cy="509.80" r="2.1" fill="#ee7b52" fill-opacity="0.85"/>
<circle cx="92.00" cy="509.80" r="2.1" fill="#ee7b52" fill-opacity="0.85"/>
<circle cx="102.20" cy="509.80" r="2.1" fill="#ee7b52" fill-opacity="0.85"/>
<circle cx="111.40" cy="509.80" r="2.1" fill="#ee7b52" fill-opacity="0.85"/>
<text x="58.90" y="512.20" font-size="7.0" font-weight="bold" font-style="italic" fill="#231f20">#1</text>
<circle cx="71.60" cy="521.50" r="2.1" fill="#ee7b52" fill-opacity="0.85"/>
<circle cx="73.00" cy="521.50" r="2.1" fill="#ee7b52" fill-opacity="0.85"/>
<circle cx="74.50" cy="521.50" r="2.1" fill="#ee7b52" fill-opacity="0.85"/>
<circle cx="76.00" cy="521.50" r="2.1" fill="#ee7b52" fill-opacity="0.85"/>
<circle cx="77.40" cy="521.50" r="2.1" fill="#ee7b52" fill-opacity="0.85"/>
<circle cx="78.90" cy="521.50" r="2.1" fill="#ee7b52" fill-opacity="0.85"/>
<circle cx="80.30" cy="521.50" r="2.1" fill="#ee7b52" fill-opacity="0.85"/>
<circle cx="82.50" cy="521.50" r="2.1" fill="#ee7b52" fill-opacity="0.85"/>
<circle cx="84.00" cy="521.50" r="2.1" fill="#ee7b52" fill-opacity="0.85"/>
<circle cx="84.70" cy="521.50" r="2.1" fill="#ee7b52" fill-opacity="0.85"/>
<circle cx="90.50" cy="521.50" r="2.1" fill="#ee7b52" fill-opacity="0.85"/>
<circle cx="95.70" cy="521.50" r="2.1" fill="#ee7b52" fill-opacity="0.85"/>
<circle cx="97.10" cy="521.50" r="2.1" fill="#ee7b52" fill-opacity="0.85"/>
<circle cx="102.00" cy="521.50" r="2.1" fill="#ee7b52" fill-opacity="0.85"/>
<text x="58.90" y="523.90" font-size="7.0" font-weight="bold" font-style="italic" fill="#231f20">#2</text>
<path d="M57.2 479.8 L55.2 479.8 L55.2 501.1 L57.2 501.1" fill="none" stroke="#231f20" stroke-width="1.0"/>
<path d="M57.2 507.8 L55.2 507.8 L55.2 527.6 L57.2 527.6" fill="none" stroke="#231f20" stroke-width="1.0"/>
<text x="52.60" y="494.80" font-size="8.1" font-style="italic" text-anchor="end" fill="#231f20" stroke="#231f20" stroke-width="0.28" letter-spacing="0.1">wee1-2</text>
<text x="52.60" y="518.40" font-size="8.1" font-style="italic" text-anchor="end" fill="#231f20" stroke="#231f20" stroke-width="0.28" letter-spacing="0.1">tsk-4 wee1-2</text>
<text x="258.20" y="488.60" font-size="7.2" font-weight="bold" text-anchor="end" fill="#333">0</text>
<text x="258.20" y="500.10" font-size="7.2" font-weight="bold" text-anchor="end" fill="#333">0</text>
<text x="258.20" y="512.60" font-size="7.2" font-weight="bold" text-anchor="end" fill="#333">10</text>
<text x="258.20" y="524.60" font-size="7.2" font-weight="bold" text-anchor="end" fill="#333">18</text>
<text x="70.90" y="537.70" font-size="7.6" text-anchor="middle" fill="#4a4a4a">0</text>
<text x="90.68" y="537.70" font-size="7.6" text-anchor="middle" fill="#4a4a4a">0.2</text>
<text x="110.46" y="537.70" font-size="7.6" text-anchor="middle" fill="#4a4a4a">0.4</text>
<text x="130.24" y="537.70" font-size="7.6" text-anchor="middle" fill="#4a4a4a">0.6</text>
<text x="150.02" y="537.70" font-size="7.6" text-anchor="middle" fill="#4a4a4a">0.8</text>
<text x="169.80" y="537.70" font-size="7.6" text-anchor="middle" fill="#4a4a4a">1</text>
<text x="189.58" y="537.70" font-size="7.6" text-anchor="middle" fill="#4a4a4a">1.2</text>
<text x="209.36" y="537.70" font-size="7.6" text-anchor="middle" fill="#4a4a4a">1.4</text>
<text x="229.14" y="537.70" font-size="7.6" text-anchor="middle" fill="#4a4a4a">1.6</text>
<text x="248.92" y="537.70" font-size="7.6" text-anchor="middle" fill="#4a4a4a">1.8</text>
<text x="256.30" y="537.70" font-size="7.6" fill="#4a4a4a">Mb</text>
<text x="165.00" y="551.60" font-size="10.4" font-weight="bold" text-anchor="middle" fill="#231f20">Size of CNVs</text>
<text x="269.80" y="348.40" font-size="12.5" font-weight="bold" fill="#231f20">E</text>
<text x="283.00" y="424.50" font-size="11.2" text-anchor="middle" fill="#231f20" stroke="#231f20" stroke-width="0.28" transform="rotate(-90 283.00 424.50)">Percentage of nodes with</text>
<text x="294.60" y="424.50" font-size="11.2" text-anchor="middle" fill="#231f20" stroke="#231f20" stroke-width="0.28" transform="rotate(-90 294.60 424.50)">double siliques (%)</text>
<line x1="310.80" y1="349.20" x2="310.80" y2="492.90" stroke="#231f20" stroke-width="1.1"/>
<line x1="310.20" y1="492.30" x2="685.00" y2="492.30" stroke="#231f20" stroke-width="1.2"/>
<line x1="309.00" y1="350.20" x2="310.80" y2="350.20" stroke="#231f20" stroke-width="0.8"/>
<text x="306.40" y="352.80" font-size="7.4" text-anchor="end" fill="#4a4a4a">75</text>
<line x1="309.00" y1="397.40" x2="310.80" y2="397.40" stroke="#231f20" stroke-width="0.8"/>
<text x="306.40" y="400.00" font-size="7.4" text-anchor="end" fill="#4a4a4a">50</text>
<line x1="309.00" y1="444.60" x2="310.80" y2="444.60" stroke="#231f20" stroke-width="0.8"/>
<text x="306.40" y="447.20" font-size="7.4" text-anchor="end" fill="#4a4a4a">25</text>
<line x1="309.00" y1="491.80" x2="310.80" y2="491.80" stroke="#231f20" stroke-width="0.8"/>
<text x="306.40" y="494.40" font-size="7.4" text-anchor="end" fill="#4a4a4a">0</text>
<line x1="327.40" y1="492.30" x2="327.40" y2="494.40" stroke="#231f20" stroke-width="0.9"/>
<circle cx="324.13" cy="462.16" r="2.05" fill="#3aa898" fill-opacity="0.88"/>
<circle cx="325.26" cy="465.37" r="2.05" fill="#3aa898" fill-opacity="0.88"/>
<circle cx="328.91" cy="467.26" r="2.05" fill="#3aa898" fill-opacity="0.88"/>
<circle cx="324.83" cy="469.14" r="2.05" fill="#3aa898" fill-opacity="0.88"/>
<circle cx="329.99" cy="471.03" r="2.05" fill="#3aa898" fill-opacity="0.88"/>
<circle cx="325.72" cy="472.92" r="2.05" fill="#3aa898" fill-opacity="0.88"/>
<circle cx="323.88" cy="472.92" r="2.05" fill="#3aa898" fill-opacity="0.88"/>
<circle cx="326.97" cy="474.81" r="2.05" fill="#3aa898" fill-opacity="0.88"/>
<circle cx="325.00" cy="476.70" r="2.05" fill="#3aa898" fill-opacity="0.88"/>
<circle cx="323.92" cy="476.70" r="2.05" fill="#3aa898" fill-opacity="0.88"/>
<circle cx="325.80" cy="478.58" r="2.05" fill="#3aa898" fill-opacity="0.88"/>
<circle cx="327.11" cy="478.58" r="2.05" fill="#3aa898" fill-opacity="0.88"/>
<circle cx="325.19" cy="480.47" r="2.05" fill="#3aa898" fill-opacity="0.88"/>
<circle cx="329.94" cy="480.47" r="2.05" fill="#3aa898" fill-opacity="0.88"/>
<circle cx="325.96" cy="482.36" r="2.05" fill="#3aa898" fill-opacity="0.88"/>
<circle cx="328.85" cy="482.36" r="2.05" fill="#3aa898" fill-opacity="0.88"/>
<circle cx="326.33" cy="484.25" r="2.05" fill="#3aa898" fill-opacity="0.88"/>
<circle cx="324.53" cy="486.14" r="2.05" fill="#3aa898" fill-opacity="0.88"/>
<circle cx="326.93" cy="488.02" r="2.05" fill="#3aa898" fill-opacity="0.88"/>
<circle cx="328.74" cy="489.91" r="2.05" fill="#3aa898" fill-opacity="0.88"/>
<circle cx="327.31" cy="491.80" r="2.05" fill="#3aa898" fill-opacity="0.88"/>
<circle cx="328.42" cy="491.80" r="2.05" fill="#3aa898" fill-opacity="0.88"/>
<circle cx="324.68" cy="491.80" r="2.05" fill="#3aa898" fill-opacity="0.88"/>
<line x1="320.60" y1="481.00" x2="334.20" y2="481.00" stroke="#231f20" stroke-width="1.3"/>
<line x1="327.40" y1="478.00" x2="327.40" y2="485.00" stroke="#231f20" stroke-width="1.1700000000000002"/>
<line x1="324.20" y1="478.00" x2="330.60" y2="478.00" stroke="#231f20" stroke-width="1.1700000000000002"/>
<line x1="324.20" y1="485.00" x2="330.60" y2="485.00" stroke="#231f20" stroke-width="1.1700000000000002"/>
<text x="327.40" y="367.20" font-size="7.8" font-weight="bold" text-anchor="middle" fill="#333">a</text>
<text x="327.40" y="504.50" font-size="7.4" text-anchor="middle" fill="#333" stroke="#333" stroke-width="0.28">23</text>
<line x1="354.00" y1="492.30" x2="354.00" y2="494.40" stroke="#231f20" stroke-width="0.9"/>
<circle cx="350.88" cy="460.27" r="2.05" fill="#3aa898" fill-opacity="0.88"/>
<circle cx="352.74" cy="464.42" r="2.05" fill="#3aa898" fill-opacity="0.88"/>
<circle cx="350.43" cy="464.80" r="2.05" fill="#3aa898" fill-opacity="0.88"/>
<circle cx="352.44" cy="470.09" r="2.05" fill="#3aa898" fill-opacity="0.88"/>
<circle cx="355.82" cy="475.75" r="2.05" fill="#3aa898" fill-opacity="0.88"/>
<circle cx="355.40" cy="481.60" r="2.05" fill="#3aa898" fill-opacity="0.88"/>
<circle cx="353.78" cy="486.14" r="2.05" fill="#3aa898" fill-opacity="0.88"/>
<circle cx="355.83" cy="491.80" r="2.05" fill="#3aa898" fill-opacity="0.88"/>
<circle cx="353.65" cy="472.92" r="2.05" fill="#3aa898" fill-opacity="0.88"/>
<circle cx="356.63" cy="469.14" r="2.05" fill="#3aa898" fill-opacity="0.88"/>
<circle cx="354.79" cy="480.47" r="2.05" fill="#3aa898" fill-opacity="0.88"/>
<circle cx="351.41" cy="488.02" r="2.05" fill="#3aa898" fill-opacity="0.88"/>
<line x1="347.20" y1="480.30" x2="360.80" y2="480.30" stroke="#231f20" stroke-width="1.3"/>
<line x1="354.00" y1="472.10" x2="354.00" y2="488.00" stroke="#231f20" stroke-width="1.1700000000000002"/>
<line x1="350.80" y1="472.10" x2="357.20" y2="472.10" stroke="#231f20" stroke-width="1.1700000000000002"/>
<line x1="350.80" y1="488.00" x2="357.20" y2="488.00" stroke="#231f20" stroke-width="1.1700000000000002"/>
<text x="354.00" y="367.20" font-size="7.8" font-weight="bold" text-anchor="middle" fill="#333">a</text>
<text x="354.00" y="504.50" font-size="7.4" text-anchor="middle" fill="#333" stroke="#333" stroke-width="0.28">12</text>
<line x1="379.80" y1="492.30" x2="379.80" y2="494.40" stroke="#231f20" stroke-width="0.9"/>
<circle cx="381.70" cy="450.83" r="2.05" fill="#3aa898" fill-opacity="0.88"/>
<circle cx="380.84" cy="463.48" r="2.05" fill="#3aa898" fill-opacity="0.88"/>
<circle cx="379.15" cy="467.26" r="2.05" fill="#3aa898" fill-opacity="0.88"/>
<circle cx="377.63" cy="478.58" r="2.05" fill="#3aa898" fill-opacity="0.88"/>
<circle cx="381.07" cy="482.36" r="2.05" fill="#3aa898" fill-opacity="0.88"/>
<circle cx="383.18" cy="488.02" r="2.05" fill="#3aa898" fill-opacity="0.88"/>
<circle cx="379.28" cy="491.80" r="2.05" fill="#3aa898" fill-opacity="0.88"/>
<circle cx="382.33" cy="491.80" r="2.05" fill="#3aa898" fill-opacity="0.88"/>
<circle cx="376.46" cy="474.81" r="2.05" fill="#3aa898" fill-opacity="0.88"/>
<circle cx="380.00" cy="471.03" r="2.05" fill="#3aa898" fill-opacity="0.88"/>
<circle cx="377.65" cy="484.25" r="2.05" fill="#3aa898" fill-opacity="0.88"/>
<line x1="373.00" y1="478.00" x2="386.60" y2="478.00" stroke="#231f20" stroke-width="1.3"/>
<line x1="379.80" y1="469.30" x2="379.80" y2="486.50" stroke="#231f20" stroke-width="1.1700000000000002"/>
<line x1="376.60" y1="469.30" x2="383.00" y2="469.30" stroke="#231f20" stroke-width="1.1700000000000002"/>
<line x1="376.60" y1="486.50" x2="383.00" y2="486.50" stroke="#231f20" stroke-width="1.1700000000000002"/>
<text x="379.80" y="367.20" font-size="7.8" font-weight="bold" text-anchor="middle" fill="#333">ab</text>
<text x="379.80" y="504.50" font-size="7.4" text-anchor="middle" fill="#333" stroke="#333" stroke-width="0.28">11</text>
<line x1="405.90" y1="492.30" x2="405.90" y2="494.40" stroke="#231f20" stroke-width="0.9"/>
<circle cx="402.95" cy="391.74" r="2.05" fill="#d85a62" fill-opacity="0.88"/>
<circle cx="408.36" cy="392.68" r="2.05" fill="#d85a62" fill-opacity="0.88"/>
<circle cx="406.62" cy="397.40" r="2.05" fill="#d85a62" fill-opacity="0.88"/>
<circle cx="403.83" cy="410.62" r="2.05" fill="#d85a62" fill-opacity="0.88"/>
<circle cx="407.91" cy="416.28" r="2.05" fill="#d85a62" fill-opacity="0.88"/>
<circle cx="406.58" cy="422.89" r="2.05" fill="#d85a62" fill-opacity="0.88"/>
<circle cx="408.26" cy="427.61" r="2.05" fill="#d85a62" fill-opacity="0.88"/>
<circle cx="406.70" cy="450.26" r="2.05" fill="#d85a62" fill-opacity="0.88"/>
<circle cx="407.51" cy="460.46" r="2.05" fill="#d85a62" fill-opacity="0.88"/>
<circle cx="407.88" cy="406.84" r="2.05" fill="#d85a62" fill-opacity="0.88"/>
<circle cx="404.78" cy="420.06" r="2.05" fill="#d85a62" fill-opacity="0.88"/>
<line x1="399.10" y1="417.90" x2="412.70" y2="417.90" stroke="#231f20" stroke-width="1.3"/>
<line x1="405.90" y1="403.20" x2="405.90" y2="433.10" stroke="#231f20" stroke-width="1.1700000000000002"/>
<line x1="402.70" y1="403.20" x2="409.10" y2="403.20" stroke="#231f20" stroke-width="1.1700000000000002"/>
<line x1="402.70" y1="433.10" x2="409.10" y2="433.10" stroke="#231f20" stroke-width="1.1700000000000002"/>
<text x="405.90" y="367.20" font-size="7.8" font-weight="bold" text-anchor="middle" fill="#333">d</text>
<text x="405.90" y="504.50" font-size="7.4" text-anchor="middle" fill="#333" stroke="#333" stroke-width="0.28">11</text>
<line x1="432.40" y1="492.30" x2="432.40" y2="494.40" stroke="#231f20" stroke-width="0.9"/>
<circle cx="431.66" cy="371.72" r="2.05" fill="#d85a62" fill-opacity="0.88"/>
<circle cx="429.42" cy="392.68" r="2.05" fill="#d85a62" fill-opacity="0.88"/>
<circle cx="433.00" cy="393.62" r="2.05" fill="#d85a62" fill-opacity="0.88"/>
<circle cx="429.76" cy="404.95" r="2.05" fill="#d85a62" fill-opacity="0.88"/>
<circle cx="432.27" cy="408.73" r="2.05" fill="#d85a62" fill-opacity="0.88"/>
<circle cx="431.19" cy="410.62" r="2.05" fill="#d85a62" fill-opacity="0.88"/>
<circle cx="433.81" cy="411.56" r="2.05" fill="#d85a62" fill-opacity="0.88"/>
<circle cx="429.94" cy="437.05" r="2.05" fill="#d85a62" fill-opacity="0.88"/>
<circle cx="435.76" cy="438.94" r="2.05" fill="#d85a62" fill-opacity="0.88"/>
<circle cx="429.32" cy="441.77" r="2.05" fill="#d85a62" fill-opacity="0.88"/>
<line x1="425.60" y1="410.90" x2="439.20" y2="410.90" stroke="#231f20" stroke-width="1.3"/>
<line x1="432.40" y1="395.00" x2="432.40" y2="427.00" stroke="#231f20" stroke-width="1.1700000000000002"/>
<line x1="429.20" y1="395.00" x2="435.60" y2="395.00" stroke="#231f20" stroke-width="1.1700000000000002"/>
<line x1="429.20" y1="427.00" x2="435.60" y2="427.00" stroke="#231f20" stroke-width="1.1700000000000002"/>
<text x="432.40" y="367.20" font-size="7.8" font-weight="bold" text-anchor="middle" fill="#333">d</text>
<text x="432.40" y="504.50" font-size="7.4" text-anchor="middle" fill="#333" stroke="#333" stroke-width="0.28">10</text>
<line x1="458.60" y1="492.30" x2="458.60" y2="494.40" stroke="#231f20" stroke-width="0.9"/>
<circle cx="458.13" cy="461.59" r="2.05" fill="#3aa898" fill-opacity="0.88"/>
<circle cx="460.22" cy="465.37" r="2.05" fill="#3aa898" fill-opacity="0.88"/>
<circle cx="458.86" cy="467.26" r="2.05" fill="#3aa898" fill-opacity="0.88"/>
<circle cx="458.58" cy="469.14" r="2.05" fill="#3aa898" fill-opacity="0.88"/>
<circle cx="460.97" cy="471.03" r="2.05" fill="#3aa898" fill-opacity="0.88"/>
<circle cx="456.62" cy="472.92" r="2.05" fill="#3aa898" fill-opacity="0.88"/>
<circle cx="462.03" cy="474.81" r="2.05" fill="#3aa898" fill-opacity="0.88"/>
<circle cx="458.73" cy="476.70" r="2.05" fill="#3aa898" fill-opacity="0.88"/>
<circle cx="455.71" cy="478.58" r="2.05" fill="#3aa898" fill-opacity="0.88"/>
<circle cx="460.31" cy="480.47" r="2.05" fill="#3aa898" fill-opacity="0.88"/>
<circle cx="456.64" cy="482.36" r="2.05" fill="#3aa898" fill-opacity="0.88"/>
<circle cx="462.01" cy="486.14" r="2.05" fill="#3aa898" fill-opacity="0.88"/>
<line x1="451.80" y1="474.00" x2="465.40" y2="474.00" stroke="#231f20" stroke-width="1.3"/>
<line x1="458.60" y1="469.00" x2="458.60" y2="480.00" stroke="#231f20" stroke-width="1.1700000000000002"/>
<line x1="455.40" y1="469.00" x2="461.80" y2="469.00" stroke="#231f20" stroke-width="1.1700000000000002"/>
<line x1="455.40" y1="480.00" x2="461.80" y2="480.00" stroke="#231f20" stroke-width="1.1700000000000002"/>
<text x="458.60" y="367.20" font-size="7.8" font-weight="bold" text-anchor="middle" fill="#333">abc</text>
<text x="458.60" y="504.50" font-size="7.4" text-anchor="middle" fill="#333" stroke="#333" stroke-width="0.28">12</text>
<line x1="485.00" y1="492.30" x2="485.00" y2="494.40" stroke="#231f20" stroke-width="0.9"/>
<circle cx="481.46" cy="463.86" r="2.05" fill="#3aa898" fill-opacity="0.88"/>
<circle cx="483.60" cy="465.37" r="2.05" fill="#3aa898" fill-opacity="0.88"/>
<circle cx="486.70" cy="467.26" r="2.05" fill="#3aa898" fill-opacity="0.88"/>
<circle cx="487.46" cy="469.14" r="2.05" fill="#3aa898" fill-opacity="0.88"/>
<circle cx="487.85" cy="472.92" r="2.05" fill="#3aa898" fill-opacity="0.88"/>
<circle cx="488.40" cy="476.70" r="2.05" fill="#3aa898" fill-opacity="0.88"/>
<circle cx="482.73" cy="480.47" r="2.05" fill="#3aa898" fill-opacity="0.88"/>
<circle cx="483.27" cy="488.97" r="2.05" fill="#3aa898" fill-opacity="0.88"/>
<circle cx="485.19" cy="491.80" r="2.05" fill="#3aa898" fill-opacity="0.88"/>
<circle cx="486.08" cy="471.03" r="2.05" fill="#3aa898" fill-opacity="0.88"/>
<circle cx="482.79" cy="474.81" r="2.05" fill="#3aa898" fill-opacity="0.88"/>
<line x1="478.20" y1="475.00" x2="491.80" y2="475.00" stroke="#231f20" stroke-width="1.3"/>
<line x1="485.00" y1="468.70" x2="485.00" y2="481.20" stroke="#231f20" stroke-width="1.1700000000000002"/>
<line x1="481.80" y1="468.70" x2="488.20" y2="468.70" stroke="#231f20" stroke-width="1.1700000000000002"/>
<line x1="481.80" y1="481.20" x2="488.20" y2="481.20" stroke="#231f20" stroke-width="1.1700000000000002"/>
<text x="485.00" y="367.20" font-size="7.8" font-weight="bold" text-anchor="middle" fill="#333">abc</text>
<text x="485.00" y="504.50" font-size="7.4" text-anchor="middle" fill="#333" stroke="#333" stroke-width="0.28">11</text>
<line x1="511.40" y1="492.30" x2="511.40" y2="494.40" stroke="#231f20" stroke-width="0.9"/>
<circle cx="511.44" cy="465.37" r="2.05" fill="#3aa898" fill-opacity="0.88"/>
<circle cx="512.62" cy="467.26" r="2.05" fill="#3aa898" fill-opacity="0.88"/>
<circle cx="513.95" cy="469.14" r="2.05" fill="#3aa898" fill-opacity="0.88"/>
<circle cx="509.40" cy="471.03" r="2.05" fill="#3aa898" fill-opacity="0.88"/>
<circle cx="508.95" cy="474.81" r="2.05" fill="#3aa898" fill-opacity="0.88"/>
<circle cx="512.65" cy="476.70" r="2.05" fill="#3aa898" fill-opacity="0.88"/>
<circle cx="510.30" cy="480.47" r="2.05" fill="#3aa898" fill-opacity="0.88"/>
<circle cx="512.80" cy="484.25" r="2.05" fill="#3aa898" fill-opacity="0.88"/>
<circle cx="513.91" cy="488.02" r="2.05" fill="#3aa898" fill-opacity="0.88"/>
<circle cx="508.23" cy="489.91" r="2.05" fill="#3aa898" fill-opacity="0.88"/>
<circle cx="510.44" cy="472.92" r="2.05" fill="#3aa898" fill-opacity="0.88"/>
<circle cx="509.10" cy="478.58" r="2.05" fill="#3aa898" fill-opacity="0.88"/>
<line x1="504.60" y1="476.50" x2="518.20" y2="476.50" stroke="#231f20" stroke-width="1.3"/>
<line x1="511.40" y1="470.00" x2="511.40" y2="483.00" stroke="#231f20" stroke-width="1.1700000000000002"/>
<line x1="508.20" y1="470.00" x2="514.60" y2="470.00" stroke="#231f20" stroke-width="1.1700000000000002"/>
<line x1="508.20" y1="483.00" x2="514.60" y2="483.00" stroke="#231f20" stroke-width="1.1700000000000002"/>
<text x="511.40" y="367.20" font-size="7.8" font-weight="bold" text-anchor="middle" fill="#333">abc</text>
<text x="511.40" y="504.50" font-size="7.4" text-anchor="middle" fill="#333" stroke="#333" stroke-width="0.28">12</text>
<line x1="537.50" y1="492.30" x2="537.50" y2="494.40" stroke="#231f20" stroke-width="0.9"/>
<circle cx="535.91" cy="455.93" r="2.05" fill="#3aa898" fill-opacity="0.88"/>
<circle cx="539.52" cy="459.70" r="2.05" fill="#3aa898" fill-opacity="0.88"/>
<circle cx="534.30" cy="461.59" r="2.05" fill="#3aa898" fill-opacity="0.88"/>
<circle cx="539.64" cy="463.48" r="2.05" fill="#3aa898" fill-opacity="0.88"/>
<circle cx="535.73" cy="465.37" r="2.05" fill="#3aa898" fill-opacity="0.88"/>
<circle cx="537.97" cy="467.26" r="2.05" fill="#3aa898" fill-opacity="0.88"/>
<circle cx="539.87" cy="469.14" r="2.05" fill="#3aa898" fill-opacity="0.88"/>
<circle cx="535.75" cy="471.03" r="2.05" fill="#3aa898" fill-opacity="0.88"/>
<circle cx="538.79" cy="472.92" r="2.05" fill="#3aa898" fill-opacity="0.88"/>
<circle cx="540.87" cy="478.58" r="2.05" fill="#3aa898" fill-opacity="0.88"/>
<line x1="530.70" y1="467.10" x2="544.30" y2="467.10" stroke="#231f20" stroke-width="1.3"/>
<line x1="537.50" y1="462.00" x2="537.50" y2="472.00" stroke="#231f20" stroke-width="1.1700000000000002"/>
<line x1="534.30" y1="462.00" x2="540.70" y2="462.00" stroke="#231f20" stroke-width="1.1700000000000002"/>
<line x1="534.30" y1="472.00" x2="540.70" y2="472.00" stroke="#231f20" stroke-width="1.1700000000000002"/>
<text x="537.50" y="367.20" font-size="7.8" font-weight="bold" text-anchor="middle" fill="#333">abc</text>
<text x="537.50" y="504.50" font-size="7.4" text-anchor="middle" fill="#333" stroke="#333" stroke-width="0.28">10</text>
<line x1="563.30" y1="492.30" x2="563.30" y2="494.40" stroke="#231f20" stroke-width="0.9"/>
<circle cx="563.71" cy="446.49" r="2.05" fill="#ee7b52" fill-opacity="0.88"/>
<circle cx="559.87" cy="449.32" r="2.05" fill="#ee7b52" fill-opacity="0.88"/>
<circle cx="566.65" cy="450.26" r="2.05" fill="#ee7b52" fill-opacity="0.88"/>
<circle cx="561.76" cy="454.04" r="2.05" fill="#ee7b52" fill-opacity="0.88"/>
<circle cx="564.32" cy="457.82" r="2.05" fill="#ee7b52" fill-opacity="0.88"/>
<circle cx="561.01" cy="460.65" r="2.05" fill="#ee7b52" fill-opacity="0.88"/>
<circle cx="562.33" cy="463.48" r="2.05" fill="#ee7b52" fill-opacity="0.88"/>
<circle cx="564.83" cy="465.37" r="2.05" fill="#ee7b52" fill-opacity="0.88"/>
<circle cx="566.39" cy="472.92" r="2.05" fill="#ee7b52" fill-opacity="0.88"/>
<circle cx="562.00" cy="455.93" r="2.05" fill="#ee7b52" fill-opacity="0.88"/>
<circle cx="561.16" cy="459.70" r="2.05" fill="#ee7b52" fill-opacity="0.88"/>
<line x1="556.50" y1="459.30" x2="570.10" y2="459.30" stroke="#231f20" stroke-width="1.3"/>
<line x1="563.30" y1="454.50" x2="563.30" y2="463.50" stroke="#231f20" stroke-width="1.1700000000000002"/>
<line x1="560.10" y1="454.50" x2="566.50" y2="454.50" stroke="#231f20" stroke-width="1.1700000000000002"/>
<line x1="560.10" y1="463.50" x2="566.50" y2="463.50" stroke="#231f20" stroke-width="1.1700000000000002"/>
<text x="563.30" y="367.20" font-size="7.8" font-weight="bold" text-anchor="middle" fill="#333">bc</text>
<text x="563.30" y="504.50" font-size="7.4" text-anchor="middle" fill="#333" stroke="#333" stroke-width="0.28">11</text>
<line x1="589.90" y1="492.30" x2="589.90" y2="494.40" stroke="#231f20" stroke-width="0.9"/>
<circle cx="589.07" cy="425.72" r="2.05" fill="#ee7b52" fill-opacity="0.88"/>
<circle cx="591.20" cy="442.71" r="2.05" fill="#ee7b52" fill-opacity="0.88"/>
<circle cx="591.53" cy="448.38" r="2.05" fill="#ee7b52" fill-opacity="0.88"/>
<circle cx="589.22" cy="457.82" r="2.05" fill="#ee7b52" fill-opacity="0.88"/>
<circle cx="587.51" cy="463.48" r="2.05" fill="#ee7b52" fill-opacity="0.88"/>
<circle cx="586.44" cy="472.92" r="2.05" fill="#ee7b52" fill-opacity="0.88"/>
<circle cx="588.39" cy="472.92" r="2.05" fill="#ee7b52" fill-opacity="0.88"/>
<circle cx="586.59" cy="454.04" r="2.05" fill="#ee7b52" fill-opacity="0.88"/>
<line x1="583.10" y1="457.10" x2="596.70" y2="457.10" stroke="#231f20" stroke-width="1.3"/>
<line x1="589.90" y1="442.60" x2="589.90" y2="471.80" stroke="#231f20" stroke-width="1.1700000000000002"/>
<line x1="586.70" y1="442.60" x2="593.10" y2="442.60" stroke="#231f20" stroke-width="1.1700000000000002"/>
<line x1="586.70" y1="471.80" x2="593.10" y2="471.80" stroke="#231f20" stroke-width="1.1700000000000002"/>
<text x="589.90" y="367.20" font-size="7.8" font-weight="bold" text-anchor="middle" fill="#333">c</text>
<text x="589.90" y="504.50" font-size="7.4" text-anchor="middle" fill="#333" stroke="#333" stroke-width="0.28">8</text>
<line x1="616.00" y1="492.30" x2="616.00" y2="494.40" stroke="#231f20" stroke-width="0.9"/>
<circle cx="616.47" cy="450.26" r="2.05" fill="#ee7b52" fill-opacity="0.88"/>
<circle cx="617.73" cy="457.82" r="2.05" fill="#ee7b52" fill-opacity="0.88"/>
<circle cx="612.55" cy="459.70" r="2.05" fill="#ee7b52" fill-opacity="0.88"/>
<circle cx="618.76" cy="461.59" r="2.05" fill="#ee7b52" fill-opacity="0.88"/>
<circle cx="616.95" cy="463.48" r="2.05" fill="#ee7b52" fill-opacity="0.88"/>
<circle cx="617.10" cy="465.37" r="2.05" fill="#ee7b52" fill-opacity="0.88"/>
<circle cx="618.49" cy="469.14" r="2.05" fill="#ee7b52" fill-opacity="0.88"/>
<circle cx="614.87" cy="471.03" r="2.05" fill="#ee7b52" fill-opacity="0.88"/>
<circle cx="618.15" cy="472.92" r="2.05" fill="#ee7b52" fill-opacity="0.88"/>
<circle cx="617.28" cy="491.80" r="2.05" fill="#ee7b52" fill-opacity="0.88"/>
<circle cx="613.35" cy="467.26" r="2.05" fill="#ee7b52" fill-opacity="0.88"/>
<circle cx="617.50" cy="463.48" r="2.05" fill="#ee7b52" fill-opacity="0.88"/>
<line x1="609.20" y1="466.50" x2="622.80" y2="466.50" stroke="#231f20" stroke-width="1.3"/>
<line x1="616.00" y1="461.00" x2="616.00" y2="472.00" stroke="#231f20" stroke-width="1.1700000000000002"/>
<line x1="612.80" y1="461.00" x2="619.20" y2="461.00" stroke="#231f20" stroke-width="1.1700000000000002"/>
<line x1="612.80" y1="472.00" x2="619.20" y2="472.00" stroke="#231f20" stroke-width="1.1700000000000002"/>
<text x="616.00" y="367.20" font-size="7.8" font-weight="bold" text-anchor="middle" fill="#333">abc</text>
<text x="616.00" y="504.50" font-size="7.4" text-anchor="middle" fill="#333" stroke="#333" stroke-width="0.28">12</text>
<line x1="642.00" y1="492.30" x2="642.00" y2="494.40" stroke="#231f20" stroke-width="0.9"/>
<circle cx="641.25" cy="435.16" r="2.05" fill="#ee7b52" fill-opacity="0.88"/>
<circle cx="645.47" cy="444.60" r="2.05" fill="#ee7b52" fill-opacity="0.88"/>
<circle cx="643.48" cy="450.26" r="2.05" fill="#ee7b52" fill-opacity="0.88"/>
<circle cx="638.83" cy="457.82" r="2.05" fill="#ee7b52" fill-opacity="0.88"/>
<circle cx="642.42" cy="461.59" r="2.05" fill="#ee7b52" fill-opacity="0.88"/>
<circle cx="639.52" cy="470.09" r="2.05" fill="#ee7b52" fill-opacity="0.88"/>
<circle cx="638.73" cy="472.92" r="2.05" fill="#ee7b52" fill-opacity="0.88"/>
<circle cx="644.34" cy="454.04" r="2.05" fill="#ee7b52" fill-opacity="0.88"/>
<line x1="635.20" y1="458.60" x2="648.80" y2="458.60" stroke="#231f20" stroke-width="1.3"/>
<line x1="642.00" y1="446.70" x2="642.00" y2="469.30" stroke="#231f20" stroke-width="1.1700000000000002"/>
<line x1="638.80" y1="446.70" x2="645.20" y2="446.70" stroke="#231f20" stroke-width="1.1700000000000002"/>
<line x1="638.80" y1="469.30" x2="645.20" y2="469.30" stroke="#231f20" stroke-width="1.1700000000000002"/>
<text x="642.00" y="367.20" font-size="7.8" font-weight="bold" text-anchor="middle" fill="#333">bc</text>
<text x="642.00" y="504.50" font-size="7.4" text-anchor="middle" fill="#333" stroke="#333" stroke-width="0.28">8</text>
<line x1="667.80" y1="492.30" x2="667.80" y2="494.40" stroke="#231f20" stroke-width="0.9"/>
<circle cx="665.30" cy="429.50" r="2.05" fill="#ee7b52" fill-opacity="0.88"/>
<circle cx="665.79" cy="444.60" r="2.05" fill="#ee7b52" fill-opacity="0.88"/>
<circle cx="664.34" cy="451.21" r="2.05" fill="#ee7b52" fill-opacity="0.88"/>
<circle cx="667.20" cy="457.82" r="2.05" fill="#ee7b52" fill-opacity="0.88"/>
<circle cx="667.88" cy="459.70" r="2.05" fill="#ee7b52" fill-opacity="0.88"/>
<circle cx="666.43" cy="482.36" r="2.05" fill="#ee7b52" fill-opacity="0.88"/>
<circle cx="666.70" cy="483.30" r="2.05" fill="#ee7b52" fill-opacity="0.88"/>
<circle cx="667.95" cy="455.93" r="2.05" fill="#ee7b52" fill-opacity="0.88"/>
<circle cx="665.77" cy="463.48" r="2.05" fill="#ee7b52" fill-opacity="0.88"/>
<line x1="661.00" y1="458.60" x2="674.60" y2="458.60" stroke="#231f20" stroke-width="1.3"/>
<line x1="667.80" y1="445.10" x2="667.80" y2="471.20" stroke="#231f20" stroke-width="1.1700000000000002"/>
<line x1="664.60" y1="445.10" x2="671.00" y2="445.10" stroke="#231f20" stroke-width="1.1700000000000002"/>
<line x1="664.60" y1="471.20" x2="671.00" y2="471.20" stroke="#231f20" stroke-width="1.1700000000000002"/>
<text x="667.80" y="367.20" font-size="7.8" font-weight="bold" text-anchor="middle" fill="#333">bc</text>
<text x="667.80" y="504.50" font-size="7.4" text-anchor="middle" fill="#333" stroke="#333" stroke-width="0.28">9</text>
<text x="308.00" y="504.50" font-size="8.2" font-weight="bold" fill="#231f20">n</text>
<text x="329.70" y="517.80" font-size="10.4" font-weight="bold" text-anchor="middle" fill="#231f20">Col-0</text>
<text x="354.00" y="517.30" font-size="7.6" font-weight="bold" font-style="italic" text-anchor="middle" fill="#231f20">#1</text>
<text x="379.80" y="517.30" font-size="7.6" font-weight="bold" font-style="italic" text-anchor="middle" fill="#231f20">#2</text>
<text x="405.90" y="517.30" font-size="7.6" font-weight="bold" font-style="italic" text-anchor="middle" fill="#231f20">#1</text>
<text x="432.40" y="517.30" font-size="7.6" font-weight="bold" font-style="italic" text-anchor="middle" fill="#231f20">#2</text>
<text x="458.60" y="517.30" font-size="7.6" font-weight="bold" font-style="italic" text-anchor="middle" fill="#231f20">#1</text>
<text x="485.00" y="517.30" font-size="7.6" font-weight="bold" font-style="italic" text-anchor="middle" fill="#231f20">#2</text>
<text x="511.40" y="517.30" font-size="7.6" font-weight="bold" font-style="italic" text-anchor="middle" fill="#231f20">#3</text>
<text x="537.50" y="517.30" font-size="7.6" font-weight="bold" font-style="italic" text-anchor="middle" fill="#231f20">#4</text>
<text x="563.30" y="517.30" font-size="7.6" font-weight="bold" font-style="italic" text-anchor="middle" fill="#231f20">#1</text>
<text x="589.90" y="517.30" font-size="7.6" font-weight="bold" font-style="italic" text-anchor="middle" fill="#231f20">#2</text>
<text x="616.00" y="517.30" font-size="7.6" font-weight="bold" font-style="italic" text-anchor="middle" fill="#231f20">#3</text>
<text x="642.00" y="517.30" font-size="7.6" font-weight="bold" font-style="italic" text-anchor="middle" fill="#231f20">#4</text>
<text x="667.80" y="517.30" font-size="7.6" font-weight="bold" font-style="italic" text-anchor="middle" fill="#231f20">#5</text>
<line x1="344.60" y1="521.60" x2="391.80" y2="521.60" stroke="#231f20" stroke-width="1.2"/>
<line x1="398.80" y1="521.60" x2="445.40" y2="521.60" stroke="#231f20" stroke-width="1.2"/>
<line x1="452.50" y1="521.60" x2="546.90" y2="521.60" stroke="#231f20" stroke-width="1.2"/>
<line x1="557.30" y1="521.60" x2="675.60" y2="521.60" stroke="#231f20" stroke-width="1.2"/>
<text x="368.20" y="532.80" font-size="10.4" font-weight="bold" text-anchor="middle" fill="#231f20">wild type</text>
<text x="368.20" y="544.50" font-size="10.4" font-weight="bold" text-anchor="middle" fill="#231f20">segregants</text>
<text x="420.40" y="532.80" font-size="10.4" font-weight="bold" font-style="italic" text-anchor="middle" fill="#231f20">tsk-4</text>
<text x="497.40" y="532.80" font-size="10.4" font-weight="bold" font-style="italic" text-anchor="middle" fill="#231f20">sog1-1</text>
<text x="616.30" y="532.80" font-size="10.4" font-weight="bold" font-style="italic" text-anchor="middle" fill="#231f20">tsk-4 sog1-1</text>
<text x="2.80" y="574.40" font-size="12.5" font-weight="bold" fill="#231f20">F</text>
<text x="12.90" y="654.00" font-size="11.2" text-anchor="middle" fill="#231f20" stroke="#231f20" stroke-width="0.28" transform="rotate(-90 12.90 654.00)">Percentage of nodes with</text>
<text x="24.70" y="654.00" font-size="11.2" text-anchor="middle" fill="#231f20" stroke="#231f20" stroke-width="0.28" transform="rotate(-90 24.70 654.00)">double siliques (%)</text>
<line x1="44.40" y1="585.10" x2="44.40" y2="723.70" stroke="#231f20" stroke-width="1.1"/>
<line x1="43.90" y1="723.10" x2="334.50" y2="723.10" stroke="#231f20" stroke-width="1.3"/>
<line x1="42.60" y1="585.90" x2="44.40" y2="585.90" stroke="#231f20" stroke-width="0.8"/>
<text x="41.00" y="588.50" font-size="7.4" text-anchor="end" fill="#4a4a4a">100</text>
<line x1="42.60" y1="620.20" x2="44.40" y2="620.20" stroke="#231f20" stroke-width="0.8"/>
<text x="41.00" y="622.80" font-size="7.4" text-anchor="end" fill="#4a4a4a">75</text>
<line x1="42.60" y1="654.50" x2="44.40" y2="654.50" stroke="#231f20" stroke-width="0.8"/>
<text x="41.00" y="657.10" font-size="7.4" text-anchor="end" fill="#4a4a4a">50</text>
<line x1="42.60" y1="688.80" x2="44.40" y2="688.80" stroke="#231f20" stroke-width="0.8"/>
<text x="41.00" y="691.40" font-size="7.4" text-anchor="end" fill="#4a4a4a">25</text>
<line x1="42.60" y1="723.10" x2="44.40" y2="723.10" stroke="#231f20" stroke-width="0.8"/>
<text x="41.00" y="725.70" font-size="7.4" text-anchor="end" fill="#4a4a4a">0</text>
<text x="34.70" y="739.10" font-size="8.2" font-weight="bold" fill="#231f20">n</text>
<line x1="61.60" y1="723.10" x2="61.60" y2="725.50" stroke="#231f20" stroke-width="0.9"/>
<circle cx="60.71" cy="701.15" r="1.35" fill="#3aa898" fill-opacity="0.85"/>
<circle cx="58.74" cy="702.52" r="1.35" fill="#3aa898" fill-opacity="0.85"/>
<circle cx="64.41" cy="702.52" r="1.35" fill="#3aa898" fill-opacity="0.85"/>
<circle cx="64.52" cy="703.89" r="1.35" fill="#3aa898" fill-opacity="0.85"/>
<circle cx="64.65" cy="705.26" r="1.35" fill="#3aa898" fill-opacity="0.85"/>
<circle cx="62.90" cy="705.26" r="1.35" fill="#3aa898" fill-opacity="0.85"/>
<circle cx="62.37" cy="706.64" r="1.35" fill="#3aa898" fill-opacity="0.85"/>
<circle cx="60.36" cy="708.01" r="1.35" fill="#3aa898" fill-opacity="0.85"/>
<circle cx="60.92" cy="709.38" r="1.35" fill="#3aa898" fill-opacity="0.85"/>
<circle cx="62.80" cy="709.38" r="1.35" fill="#3aa898" fill-opacity="0.85"/>
<circle cx="59.88" cy="710.75" r="1.35" fill="#3aa898" fill-opacity="0.85"/>
<circle cx="62.10" cy="712.12" r="1.35" fill="#3aa898" fill-opacity="0.85"/>
<circle cx="60.97" cy="712.12" r="1.35" fill="#3aa898" fill-opacity="0.85"/>
<circle cx="59.66" cy="713.50" r="1.35" fill="#3aa898" fill-opacity="0.85"/>
<circle cx="60.64" cy="714.87" r="1.35" fill="#3aa898" fill-opacity="0.85"/>
<circle cx="63.40" cy="714.87" r="1.35" fill="#3aa898" fill-opacity="0.85"/>
<circle cx="63.46" cy="716.24" r="1.35" fill="#3aa898" fill-opacity="0.85"/>
<circle cx="62.63" cy="717.61" r="1.35" fill="#3aa898" fill-opacity="0.85"/>
<circle cx="58.85" cy="718.98" r="1.35" fill="#3aa898" fill-opacity="0.85"/>
<circle cx="58.03" cy="720.36" r="1.35" fill="#3aa898" fill-opacity="0.85"/>
<circle cx="60.55" cy="721.73" r="1.35" fill="#3aa898" fill-opacity="0.85"/>
<circle cx="64.98" cy="723.10" r="1.35" fill="#3aa898" fill-opacity="0.85"/>
<circle cx="63.74" cy="710.75" r="1.35" fill="#3aa898" fill-opacity="0.85"/>
<circle cx="63.15" cy="713.50" r="1.35" fill="#3aa898" fill-opacity="0.85"/>
<line x1="54.60" y1="712.54" x2="68.60" y2="712.54" stroke="#231f20" stroke-width="1.3"/>
<line x1="61.60" y1="710.07" x2="61.60" y2="714.87" stroke="#231f20" stroke-width="1.1700000000000002"/>
<line x1="59.00" y1="710.07" x2="64.20" y2="710.07" stroke="#231f20" stroke-width="1.1700000000000002"/>
<line x1="59.00" y1="714.87" x2="64.20" y2="714.87" stroke="#231f20" stroke-width="1.1700000000000002"/>
<text x="61.60" y="590.60" font-size="7.8" font-weight="bold" text-anchor="middle" fill="#333">a</text>
<text x="61.60" y="739.10" font-size="7.4" text-anchor="middle" fill="#333" stroke="#333" stroke-width="0.28">24</text>
<line x1="89.85" y1="723.10" x2="89.85" y2="725.50" stroke="#231f20" stroke-width="0.9"/>
<circle cx="91.80" cy="637.35" r="1.35" fill="#d85a62" fill-opacity="0.85"/>
<circle cx="86.29" cy="639.41" r="1.35" fill="#d85a62" fill-opacity="0.85"/>
<circle cx="93.45" cy="651.76" r="1.35" fill="#d85a62" fill-opacity="0.85"/>
<circle cx="86.98" cy="652.44" r="1.35" fill="#d85a62" fill-opacity="0.85"/>
<circle cx="88.90" cy="653.13" r="1.35" fill="#d85a62" fill-opacity="0.85"/>
<circle cx="93.13" cy="659.99" r="1.35" fill="#d85a62" fill-opacity="0.85"/>
<circle cx="87.33" cy="662.73" r="1.35" fill="#d85a62" fill-opacity="0.85"/>
<circle cx="88.28" cy="666.85" r="1.35" fill="#d85a62" fill-opacity="0.85"/>
<circle cx="91.09" cy="669.59" r="1.35" fill="#d85a62" fill-opacity="0.85"/>
<circle cx="88.37" cy="672.34" r="1.35" fill="#d85a62" fill-opacity="0.85"/>
<circle cx="91.09" cy="675.08" r="1.35" fill="#d85a62" fill-opacity="0.85"/>
<circle cx="87.29" cy="677.14" r="1.35" fill="#d85a62" fill-opacity="0.85"/>
<circle cx="91.91" cy="678.51" r="1.35" fill="#d85a62" fill-opacity="0.85"/>
<circle cx="88.72" cy="679.88" r="1.35" fill="#d85a62" fill-opacity="0.85"/>
<circle cx="88.70" cy="668.22" r="1.35" fill="#d85a62" fill-opacity="0.85"/>
<circle cx="91.87" cy="664.10" r="1.35" fill="#d85a62" fill-opacity="0.85"/>
<line x1="82.85" y1="663.28" x2="96.85" y2="663.28" stroke="#231f20" stroke-width="1.3"/>
<line x1="89.85" y1="656.15" x2="89.85" y2="670.14" stroke="#231f20" stroke-width="1.1700000000000002"/>
<line x1="87.25" y1="656.15" x2="92.45" y2="656.15" stroke="#231f20" stroke-width="1.1700000000000002"/>
<line x1="87.25" y1="670.14" x2="92.45" y2="670.14" stroke="#231f20" stroke-width="1.1700000000000002"/>
<text x="89.85" y="590.60" font-size="7.8" font-weight="bold" text-anchor="middle" fill="#333">b</text>
<text x="89.85" y="739.10" font-size="7.4" text-anchor="middle" fill="#333" stroke="#333" stroke-width="0.28">16</text>
<line x1="118.10" y1="723.10" x2="118.10" y2="725.50" stroke="#231f20" stroke-width="0.9"/>
<circle cx="118.53" cy="651.76" r="1.35" fill="#d85a62" fill-opacity="0.85"/>
<circle cx="118.88" cy="661.36" r="1.35" fill="#d85a62" fill-opacity="0.85"/>
<circle cx="121.27" cy="662.73" r="1.35" fill="#d85a62" fill-opacity="0.85"/>
<circle cx="115.34" cy="664.10" r="1.35" fill="#d85a62" fill-opacity="0.85"/>
<circle cx="120.43" cy="665.48" r="1.35" fill="#d85a62" fill-opacity="0.85"/>
<circle cx="118.32" cy="668.22" r="1.35" fill="#d85a62" fill-opacity="0.85"/>
<circle cx="121.35" cy="669.59" r="1.35" fill="#d85a62" fill-opacity="0.85"/>
<circle cx="117.74" cy="672.34" r="1.35" fill="#d85a62" fill-opacity="0.85"/>
<circle cx="115.61" cy="673.71" r="1.35" fill="#d85a62" fill-opacity="0.85"/>
<circle cx="115.26" cy="676.45" r="1.35" fill="#d85a62" fill-opacity="0.85"/>
<circle cx="121.26" cy="679.20" r="1.35" fill="#d85a62" fill-opacity="0.85"/>
<circle cx="117.56" cy="680.57" r="1.35" fill="#d85a62" fill-opacity="0.85"/>
<circle cx="115.20" cy="681.94" r="1.35" fill="#d85a62" fill-opacity="0.85"/>
<line x1="111.10" y1="668.22" x2="125.10" y2="668.22" stroke="#231f20" stroke-width="1.3"/>
<line x1="118.10" y1="663.69" x2="118.10" y2="672.61" stroke="#231f20" stroke-width="1.1700000000000002"/>
<line x1="115.50" y1="663.69" x2="120.70" y2="663.69" stroke="#231f20" stroke-width="1.1700000000000002"/>
<line x1="115.50" y1="672.61" x2="120.70" y2="672.61" stroke="#231f20" stroke-width="1.1700000000000002"/>
<text x="118.10" y="590.60" font-size="7.8" font-weight="bold" text-anchor="middle" fill="#333">b</text>
<text x="118.10" y="739.10" font-size="7.4" text-anchor="middle" fill="#333" stroke="#333" stroke-width="0.28">13</text>
<line x1="146.35" y1="723.10" x2="146.35" y2="725.50" stroke="#231f20" stroke-width="0.9"/>
<circle cx="145.27" cy="688.80" r="1.35" fill="#3aa898" fill-opacity="0.85"/>
<circle cx="146.13" cy="695.66" r="1.35" fill="#3aa898" fill-opacity="0.85"/>
<circle cx="149.15" cy="702.52" r="1.35" fill="#3aa898" fill-opacity="0.85"/>
<circle cx="146.31" cy="705.26" r="1.35" fill="#3aa898" fill-opacity="0.85"/>
<circle cx="148.06" cy="706.64" r="1.35" fill="#3aa898" fill-opacity="0.85"/>
<circle cx="149.00" cy="708.01" r="1.35" fill="#3aa898" fill-opacity="0.85"/>
<circle cx="144.64" cy="709.38" r="1.35" fill="#3aa898" fill-opacity="0.85"/>
<circle cx="145.87" cy="710.75" r="1.35" fill="#3aa898" fill-opacity="0.85"/>
<circle cx="143.07" cy="712.12" r="1.35" fill="#3aa898" fill-opacity="0.85"/>
<circle cx="142.85" cy="713.50" r="1.35" fill="#3aa898" fill-opacity="0.85"/>
<circle cx="148.50" cy="714.87" r="1.35" fill="#3aa898" fill-opacity="0.85"/>
<circle cx="148.67" cy="716.24" r="1.35" fill="#3aa898" fill-opacity="0.85"/>
<circle cx="145.15" cy="717.61" r="1.35" fill="#3aa898" fill-opacity="0.85"/>
<circle cx="144.37" cy="718.98" r="1.35" fill="#3aa898" fill-opacity="0.85"/>
<circle cx="143.72" cy="720.36" r="1.35" fill="#3aa898" fill-opacity="0.85"/>
<circle cx="146.47" cy="721.73" r="1.35" fill="#3aa898" fill-opacity="0.85"/>
<circle cx="147.53" cy="723.10" r="1.35" fill="#3aa898" fill-opacity="0.85"/>
<circle cx="147.45" cy="723.10" r="1.35" fill="#3aa898" fill-opacity="0.85"/>
<circle cx="147.48" cy="723.10" r="1.35" fill="#3aa898" fill-opacity="0.85"/>
<circle cx="145.84" cy="716.24" r="1.35" fill="#3aa898" fill-opacity="0.85"/>
<circle cx="146.65" cy="718.98" r="1.35" fill="#3aa898" fill-opacity="0.85"/>
<circle cx="145.65" cy="720.36" r="1.35" fill="#3aa898" fill-opacity="0.85"/>
<circle cx="148.07" cy="721.73" r="1.35" fill="#3aa898" fill-opacity="0.85"/>
<line x1="139.35" y1="715.55" x2="153.35" y2="715.55" stroke="#231f20" stroke-width="1.3"/>
<line x1="146.35" y1="712.12" x2="146.35" y2="718.98" stroke="#231f20" stroke-width="1.1700000000000002"/>
<line x1="143.75" y1="712.12" x2="148.95" y2="712.12" stroke="#231f20" stroke-width="1.1700000000000002"/>
<line x1="143.75" y1="718.98" x2="148.95" y2="718.98" stroke="#231f20" stroke-width="1.1700000000000002"/>
<text x="146.35" y="590.60" font-size="7.8" font-weight="bold" text-anchor="middle" fill="#333">a</text>
<text x="146.35" y="739.10" font-size="7.4" text-anchor="middle" fill="#333" stroke="#333" stroke-width="0.28">23</text>
<line x1="174.60" y1="723.10" x2="174.60" y2="725.50" stroke="#231f20" stroke-width="0.9"/>
<circle cx="177.28" cy="695.66" r="1.35" fill="#3aa898" fill-opacity="0.85"/>
<circle cx="176.53" cy="698.40" r="1.35" fill="#3aa898" fill-opacity="0.85"/>
<circle cx="172.32" cy="699.78" r="1.35" fill="#3aa898" fill-opacity="0.85"/>
<circle cx="172.75" cy="701.15" r="1.35" fill="#3aa898" fill-opacity="0.85"/>
<circle cx="177.10" cy="702.52" r="1.35" fill="#3aa898" fill-opacity="0.85"/>
<circle cx="171.64" cy="703.89" r="1.35" fill="#3aa898" fill-opacity="0.85"/>
<circle cx="178.10" cy="705.26" r="1.35" fill="#3aa898" fill-opacity="0.85"/>
<circle cx="177.68" cy="706.64" r="1.35" fill="#3aa898" fill-opacity="0.85"/>
<circle cx="178.19" cy="708.01" r="1.35" fill="#3aa898" fill-opacity="0.85"/>
<circle cx="171.07" cy="709.38" r="1.35" fill="#3aa898" fill-opacity="0.85"/>
<circle cx="174.17" cy="709.38" r="1.35" fill="#3aa898" fill-opacity="0.85"/>
<circle cx="176.00" cy="710.75" r="1.35" fill="#3aa898" fill-opacity="0.85"/>
<circle cx="173.59" cy="712.12" r="1.35" fill="#3aa898" fill-opacity="0.85"/>
<circle cx="171.13" cy="712.12" r="1.35" fill="#3aa898" fill-opacity="0.85"/>
<circle cx="175.09" cy="713.50" r="1.35" fill="#3aa898" fill-opacity="0.85"/>
<circle cx="171.68" cy="714.87" r="1.35" fill="#3aa898" fill-opacity="0.85"/>
<circle cx="174.32" cy="716.24" r="1.35" fill="#3aa898" fill-opacity="0.85"/>
<circle cx="176.07" cy="717.61" r="1.35" fill="#3aa898" fill-opacity="0.85"/>
<circle cx="174.35" cy="718.98" r="1.35" fill="#3aa898" fill-opacity="0.85"/>
<circle cx="172.28" cy="720.36" r="1.35" fill="#3aa898" fill-opacity="0.85"/>
<circle cx="176.30" cy="721.73" r="1.35" fill="#3aa898" fill-opacity="0.85"/>
<circle cx="174.29" cy="723.10" r="1.35" fill="#3aa898" fill-opacity="0.85"/>
<circle cx="175.08" cy="706.64" r="1.35" fill="#3aa898" fill-opacity="0.85"/>
<circle cx="177.73" cy="710.75" r="1.35" fill="#3aa898" fill-opacity="0.85"/>
<line x1="167.60" y1="709.11" x2="181.60" y2="709.11" stroke="#231f20" stroke-width="1.3"/>
<line x1="174.60" y1="706.64" x2="174.60" y2="711.44" stroke="#231f20" stroke-width="1.1700000000000002"/>
<line x1="172.00" y1="706.64" x2="177.20" y2="706.64" stroke="#231f20" stroke-width="1.1700000000000002"/>
<line x1="172.00" y1="711.44" x2="177.20" y2="711.44" stroke="#231f20" stroke-width="1.1700000000000002"/>
<text x="174.60" y="590.60" font-size="7.8" font-weight="bold" text-anchor="middle" fill="#333">a</text>
<text x="174.60" y="739.10" font-size="7.4" text-anchor="middle" fill="#333" stroke="#333" stroke-width="0.28">24</text>
<line x1="202.85" y1="723.10" x2="202.85" y2="725.50" stroke="#231f20" stroke-width="0.9"/>
<circle cx="202.20" cy="692.92" r="1.35" fill="#ee7b52" fill-opacity="0.85"/>
<circle cx="202.33" cy="694.29" r="1.35" fill="#ee7b52" fill-opacity="0.85"/>
<circle cx="204.62" cy="698.40" r="1.35" fill="#ee7b52" fill-opacity="0.85"/>
<circle cx="203.31" cy="701.15" r="1.35" fill="#ee7b52" fill-opacity="0.85"/>
<circle cx="203.75" cy="702.52" r="1.35" fill="#ee7b52" fill-opacity="0.85"/>
<circle cx="201.65" cy="703.89" r="1.35" fill="#ee7b52" fill-opacity="0.85"/>
<circle cx="203.01" cy="705.26" r="1.35" fill="#ee7b52" fill-opacity="0.85"/>
<circle cx="202.43" cy="706.64" r="1.35" fill="#ee7b52" fill-opacity="0.85"/>
<circle cx="199.31" cy="708.01" r="1.35" fill="#ee7b52" fill-opacity="0.85"/>
<circle cx="200.19" cy="709.38" r="1.35" fill="#ee7b52" fill-opacity="0.85"/>
<circle cx="201.26" cy="710.75" r="1.35" fill="#ee7b52" fill-opacity="0.85"/>
<circle cx="201.38" cy="712.12" r="1.35" fill="#ee7b52" fill-opacity="0.85"/>
<circle cx="201.13" cy="713.50" r="1.35" fill="#ee7b52" fill-opacity="0.85"/>
<circle cx="203.62" cy="714.87" r="1.35" fill="#ee7b52" fill-opacity="0.85"/>
<circle cx="203.88" cy="716.24" r="1.35" fill="#ee7b52" fill-opacity="0.85"/>
<circle cx="201.91" cy="717.61" r="1.35" fill="#ee7b52" fill-opacity="0.85"/>
<circle cx="204.52" cy="718.98" r="1.35" fill="#ee7b52" fill-opacity="0.85"/>
<circle cx="203.07" cy="720.36" r="1.35" fill="#ee7b52" fill-opacity="0.85"/>
<circle cx="202.25" cy="721.73" r="1.35" fill="#ee7b52" fill-opacity="0.85"/>
<circle cx="203.22" cy="723.10" r="1.35" fill="#ee7b52" fill-opacity="0.85"/>
<circle cx="202.72" cy="709.38" r="1.35" fill="#ee7b52" fill-opacity="0.85"/>
<line x1="195.85" y1="710.07" x2="209.85" y2="710.07" stroke="#231f20" stroke-width="1.3"/>
<line x1="202.85" y1="707.32" x2="202.85" y2="712.81" stroke="#231f20" stroke-width="1.1700000000000002"/>
<line x1="200.25" y1="707.32" x2="205.45" y2="707.32" stroke="#231f20" stroke-width="1.1700000000000002"/>
<line x1="200.25" y1="712.81" x2="205.45" y2="712.81" stroke="#231f20" stroke-width="1.1700000000000002"/>
<text x="202.85" y="590.60" font-size="7.8" font-weight="bold" text-anchor="middle" fill="#333">a</text>
<text x="202.85" y="739.10" font-size="7.4" text-anchor="middle" fill="#333" stroke="#333" stroke-width="0.28">21</text>
<line x1="231.10" y1="723.10" x2="231.10" y2="725.50" stroke="#231f20" stroke-width="0.9"/>
<circle cx="233.91" cy="670.96" r="1.35" fill="#ee7b52" fill-opacity="0.85"/>
<circle cx="233.28" cy="690.17" r="1.35" fill="#ee7b52" fill-opacity="0.85"/>
<circle cx="230.39" cy="695.66" r="1.35" fill="#ee7b52" fill-opacity="0.85"/>
<circle cx="232.33" cy="698.40" r="1.35" fill="#ee7b52" fill-opacity="0.85"/>
<circle cx="232.19" cy="701.15" r="1.35" fill="#ee7b52" fill-opacity="0.85"/>
<circle cx="234.53" cy="702.52" r="1.35" fill="#ee7b52" fill-opacity="0.85"/>
<circle cx="232.93" cy="703.89" r="1.35" fill="#ee7b52" fill-opacity="0.85"/>
<circle cx="228.76" cy="705.26" r="1.35" fill="#ee7b52" fill-opacity="0.85"/>
<circle cx="231.75" cy="706.64" r="1.35" fill="#ee7b52" fill-opacity="0.85"/>
<circle cx="232.61" cy="708.01" r="1.35" fill="#ee7b52" fill-opacity="0.85"/>
<circle cx="234.45" cy="709.38" r="1.35" fill="#ee7b52" fill-opacity="0.85"/>
<circle cx="231.00" cy="710.75" r="1.35" fill="#ee7b52" fill-opacity="0.85"/>
<circle cx="229.20" cy="712.12" r="1.35" fill="#ee7b52" fill-opacity="0.85"/>
<circle cx="232.96" cy="713.50" r="1.35" fill="#ee7b52" fill-opacity="0.85"/>
<circle cx="229.59" cy="714.87" r="1.35" fill="#ee7b52" fill-opacity="0.85"/>
<circle cx="230.27" cy="716.24" r="1.35" fill="#ee7b52" fill-opacity="0.85"/>
<circle cx="233.89" cy="717.61" r="1.35" fill="#ee7b52" fill-opacity="0.85"/>
<circle cx="234.14" cy="718.98" r="1.35" fill="#ee7b52" fill-opacity="0.85"/>
<circle cx="230.97" cy="720.36" r="1.35" fill="#ee7b52" fill-opacity="0.85"/>
<circle cx="231.28" cy="721.73" r="1.35" fill="#ee7b52" fill-opacity="0.85"/>
<circle cx="230.85" cy="723.10" r="1.35" fill="#ee7b52" fill-opacity="0.85"/>
<circle cx="232.40" cy="706.64" r="1.35" fill="#ee7b52" fill-opacity="0.85"/>
<circle cx="230.59" cy="710.75" r="1.35" fill="#ee7b52" fill-opacity="0.85"/>
<line x1="224.10" y1="709.11" x2="238.10" y2="709.11" stroke="#231f20" stroke-width="1.3"/>
<line x1="231.10" y1="705.26" x2="231.10" y2="712.81" stroke="#231f20" stroke-width="1.1700000000000002"/>
<line x1="228.50" y1="705.26" x2="233.70" y2="705.26" stroke="#231f20" stroke-width="1.1700000000000002"/>
<line x1="228.50" y1="712.81" x2="233.70" y2="712.81" stroke="#231f20" stroke-width="1.1700000000000002"/>
<text x="231.10" y="590.60" font-size="7.8" font-weight="bold" text-anchor="middle" fill="#333">a</text>
<text x="231.10" y="739.10" font-size="7.4" text-anchor="middle" fill="#333" stroke="#333" stroke-width="0.28">23</text>
<line x1="259.35" y1="723.10" x2="259.35" y2="725.50" stroke="#231f20" stroke-width="0.9"/>
<circle cx="261.93" cy="686.06" r="1.35" fill="#ee7b52" fill-opacity="0.85"/>
<circle cx="259.89" cy="690.17" r="1.35" fill="#ee7b52" fill-opacity="0.85"/>
<circle cx="258.07" cy="695.66" r="1.35" fill="#ee7b52" fill-opacity="0.85"/>
<circle cx="257.71" cy="698.40" r="1.35" fill="#ee7b52" fill-opacity="0.85"/>
<circle cx="262.94" cy="701.15" r="1.35" fill="#ee7b52" fill-opacity="0.85"/>
<circle cx="257.88" cy="703.89" r="1.35" fill="#ee7b52" fill-opacity="0.85"/>
<circle cx="259.04" cy="705.26" r="1.35" fill="#ee7b52" fill-opacity="0.85"/>
<circle cx="257.33" cy="706.64" r="1.35" fill="#ee7b52" fill-opacity="0.85"/>
<circle cx="259.12" cy="708.01" r="1.35" fill="#ee7b52" fill-opacity="0.85"/>
<circle cx="257.41" cy="709.38" r="1.35" fill="#ee7b52" fill-opacity="0.85"/>
<circle cx="261.07" cy="710.75" r="1.35" fill="#ee7b52" fill-opacity="0.85"/>
<circle cx="260.52" cy="712.12" r="1.35" fill="#ee7b52" fill-opacity="0.85"/>
<circle cx="261.91" cy="713.50" r="1.35" fill="#ee7b52" fill-opacity="0.85"/>
<circle cx="261.06" cy="714.87" r="1.35" fill="#ee7b52" fill-opacity="0.85"/>
<circle cx="262.58" cy="717.61" r="1.35" fill="#ee7b52" fill-opacity="0.85"/>
<circle cx="261.23" cy="718.98" r="1.35" fill="#ee7b52" fill-opacity="0.85"/>
<circle cx="258.23" cy="720.36" r="1.35" fill="#ee7b52" fill-opacity="0.85"/>
<circle cx="262.32" cy="721.73" r="1.35" fill="#ee7b52" fill-opacity="0.85"/>
<circle cx="259.22" cy="723.10" r="1.35" fill="#ee7b52" fill-opacity="0.85"/>
<line x1="252.35" y1="708.42" x2="266.35" y2="708.42" stroke="#231f20" stroke-width="1.3"/>
<line x1="259.35" y1="704.58" x2="259.35" y2="712.12" stroke="#231f20" stroke-width="1.1700000000000002"/>
<line x1="256.75" y1="704.58" x2="261.95" y2="704.58" stroke="#231f20" stroke-width="1.1700000000000002"/>
<line x1="256.75" y1="712.12" x2="261.95" y2="712.12" stroke="#231f20" stroke-width="1.1700000000000002"/>
<text x="259.35" y="590.60" font-size="7.8" font-weight="bold" text-anchor="middle" fill="#333">a</text>
<text x="259.35" y="739.10" font-size="7.4" text-anchor="middle" fill="#333" stroke="#333" stroke-width="0.28">19</text>
<line x1="287.60" y1="723.10" x2="287.60" y2="725.50" stroke="#231f20" stroke-width="0.9"/>
<circle cx="290.40" cy="698.40" r="1.35" fill="#ee7b52" fill-opacity="0.85"/>
<circle cx="285.03" cy="699.78" r="1.35" fill="#ee7b52" fill-opacity="0.85"/>
<circle cx="284.46" cy="702.52" r="1.35" fill="#ee7b52" fill-opacity="0.85"/>
<circle cx="291.01" cy="703.89" r="1.35" fill="#ee7b52" fill-opacity="0.85"/>
<circle cx="285.00" cy="705.26" r="1.35" fill="#ee7b52" fill-opacity="0.85"/>
<circle cx="291.17" cy="706.64" r="1.35" fill="#ee7b52" fill-opacity="0.85"/>
<circle cx="287.38" cy="708.01" r="1.35" fill="#ee7b52" fill-opacity="0.85"/>
<circle cx="285.53" cy="709.38" r="1.35" fill="#ee7b52" fill-opacity="0.85"/>
<circle cx="286.10" cy="710.75" r="1.35" fill="#ee7b52" fill-opacity="0.85"/>
<circle cx="289.31" cy="710.75" r="1.35" fill="#ee7b52" fill-opacity="0.85"/>
<circle cx="284.49" cy="712.12" r="1.35" fill="#ee7b52" fill-opacity="0.85"/>
<circle cx="285.20" cy="712.12" r="1.35" fill="#ee7b52" fill-opacity="0.85"/>
<circle cx="285.31" cy="713.50" r="1.35" fill="#ee7b52" fill-opacity="0.85"/>
<circle cx="286.13" cy="714.87" r="1.35" fill="#ee7b52" fill-opacity="0.85"/>
<circle cx="287.00" cy="716.24" r="1.35" fill="#ee7b52" fill-opacity="0.85"/>
<circle cx="287.93" cy="717.61" r="1.35" fill="#ee7b52" fill-opacity="0.85"/>
<circle cx="284.75" cy="718.98" r="1.35" fill="#ee7b52" fill-opacity="0.85"/>
<circle cx="286.23" cy="720.36" r="1.35" fill="#ee7b52" fill-opacity="0.85"/>
<circle cx="284.97" cy="721.73" r="1.35" fill="#ee7b52" fill-opacity="0.85"/>
<circle cx="287.73" cy="723.10" r="1.35" fill="#ee7b52" fill-opacity="0.85"/>
<circle cx="290.45" cy="709.38" r="1.35" fill="#ee7b52" fill-opacity="0.85"/>
<circle cx="287.16" cy="712.12" r="1.35" fill="#ee7b52" fill-opacity="0.85"/>
<line x1="280.60" y1="711.30" x2="294.60" y2="711.30" stroke="#231f20" stroke-width="1.3"/>
<line x1="287.60" y1="708.69" x2="287.60" y2="713.50" stroke="#231f20" stroke-width="1.1700000000000002"/>
<line x1="285.00" y1="708.69" x2="290.20" y2="708.69" stroke="#231f20" stroke-width="1.1700000000000002"/>
<line x1="285.00" y1="713.50" x2="290.20" y2="713.50" stroke="#231f20" stroke-width="1.1700000000000002"/>
<text x="287.60" y="590.60" font-size="7.8" font-weight="bold" text-anchor="middle" fill="#333">a</text>
<text x="287.60" y="739.10" font-size="7.4" text-anchor="middle" fill="#333" stroke="#333" stroke-width="0.28">22</text>
<line x1="315.85" y1="723.10" x2="315.85" y2="725.50" stroke="#231f20" stroke-width="0.9"/>
<circle cx="312.95" cy="692.92" r="1.35" fill="#ee7b52" fill-opacity="0.85"/>
<circle cx="314.97" cy="699.78" r="1.35" fill="#ee7b52" fill-opacity="0.85"/>
<circle cx="317.47" cy="702.52" r="1.35" fill="#ee7b52" fill-opacity="0.85"/>
<circle cx="316.53" cy="705.26" r="1.35" fill="#ee7b52" fill-opacity="0.85"/>
<circle cx="315.15" cy="708.01" r="1.35" fill="#ee7b52" fill-opacity="0.85"/>
<circle cx="313.00" cy="710.75" r="1.35" fill="#ee7b52" fill-opacity="0.85"/>
<circle cx="316.40" cy="713.50" r="1.35" fill="#ee7b52" fill-opacity="0.85"/>
<circle cx="315.01" cy="716.24" r="1.35" fill="#ee7b52" fill-opacity="0.85"/>
<circle cx="317.11" cy="718.98" r="1.35" fill="#ee7b52" fill-opacity="0.85"/>
<circle cx="317.75" cy="721.73" r="1.35" fill="#ee7b52" fill-opacity="0.85"/>
<circle cx="319.19" cy="723.10" r="1.35" fill="#ee7b52" fill-opacity="0.85"/>
<circle cx="313.75" cy="712.12" r="1.35" fill="#ee7b52" fill-opacity="0.85"/>
<line x1="308.85" y1="712.81" x2="322.85" y2="712.81" stroke="#231f20" stroke-width="1.3"/>
<line x1="315.85" y1="707.32" x2="315.85" y2="718.98" stroke="#231f20" stroke-width="1.1700000000000002"/>
<line x1="313.25" y1="707.32" x2="318.45" y2="707.32" stroke="#231f20" stroke-width="1.1700000000000002"/>
<line x1="313.25" y1="718.98" x2="318.45" y2="718.98" stroke="#231f20" stroke-width="1.1700000000000002"/>
<text x="315.85" y="590.60" font-size="7.8" font-weight="bold" text-anchor="middle" fill="#333">a</text>
<text x="315.85" y="739.10" font-size="7.4" text-anchor="middle" fill="#333" stroke="#333" stroke-width="0.28">12</text>
<line x1="85.60" y1="753.20" x2="129.00" y2="753.20" stroke="#231f20" stroke-width="1.2"/>
<line x1="138.10" y1="753.20" x2="180.40" y2="753.20" stroke="#231f20" stroke-width="1.2"/>
<line x1="195.40" y1="753.20" x2="323.20" y2="753.20" stroke="#231f20" stroke-width="1.2"/>
<text x="104.00" y="765.20" font-size="10.4" font-weight="bold" font-style="italic" text-anchor="middle" fill="#231f20">tsk-4</text>
<text x="160.00" y="765.20" font-size="10.4" font-weight="bold" font-style="italic" text-anchor="middle" fill="#231f20">atr-2</text>
<text x="259.30" y="765.20" font-size="10.4" font-weight="bold" font-style="italic" text-anchor="middle" fill="#231f20">tsk-4 atr-2</text>
<text x="344.80" y="574.40" font-size="12.5" font-weight="bold" fill="#231f20">G</text>
<text x="359.60" y="654.00" font-size="11.2" text-anchor="middle" fill="#231f20" stroke="#231f20" stroke-width="0.28" transform="rotate(-90 359.60 654.00)">Percentage of nodes with</text>
<text x="371.40" y="654.00" font-size="11.2" text-anchor="middle" fill="#231f20" stroke="#231f20" stroke-width="0.28" transform="rotate(-90 371.40 654.00)">double siliques (%)</text>
<line x1="394.90" y1="585.80" x2="394.90" y2="725.10" stroke="#231f20" stroke-width="1.1"/>
<line x1="394.40" y1="724.50" x2="685.00" y2="724.50" stroke="#231f20" stroke-width="1.3"/>
<line x1="393.10" y1="586.60" x2="394.90" y2="586.60" stroke="#231f20" stroke-width="0.8"/>
<text x="391.50" y="589.20" font-size="7.4" text-anchor="end" fill="#4a4a4a">100</text>
<line x1="393.10" y1="621.08" x2="394.90" y2="621.08" stroke="#231f20" stroke-width="0.8"/>
<text x="391.50" y="623.68" font-size="7.4" text-anchor="end" fill="#4a4a4a">75</text>
<line x1="393.10" y1="655.55" x2="394.90" y2="655.55" stroke="#231f20" stroke-width="0.8"/>
<text x="391.50" y="658.15" font-size="7.4" text-anchor="end" fill="#4a4a4a">50</text>
<line x1="393.10" y1="690.02" x2="394.90" y2="690.02" stroke="#231f20" stroke-width="0.8"/>
<text x="391.50" y="692.62" font-size="7.4" text-anchor="end" fill="#4a4a4a">25</text>
<line x1="393.10" y1="724.50" x2="394.90" y2="724.50" stroke="#231f20" stroke-width="0.8"/>
<text x="391.50" y="727.10" font-size="7.4" text-anchor="end" fill="#4a4a4a">0</text>
<text x="389.00" y="739.10" font-size="8.2" font-weight="bold" fill="#231f20">n</text>
<line x1="408.90" y1="724.50" x2="408.90" y2="726.90" stroke="#231f20" stroke-width="0.9"/>
<circle cx="410.36" cy="702.44" r="1.35" fill="#3aa898" fill-opacity="0.85"/>
<circle cx="411.47" cy="703.82" r="1.35" fill="#3aa898" fill-opacity="0.85"/>
<circle cx="410.85" cy="705.19" r="1.35" fill="#3aa898" fill-opacity="0.85"/>
<circle cx="406.03" cy="706.57" r="1.35" fill="#3aa898" fill-opacity="0.85"/>
<circle cx="411.23" cy="706.57" r="1.35" fill="#3aa898" fill-opacity="0.85"/>
<circle cx="407.39" cy="707.95" r="1.35" fill="#3aa898" fill-opacity="0.85"/>
<circle cx="411.12" cy="709.33" r="1.35" fill="#3aa898" fill-opacity="0.85"/>
<circle cx="412.21" cy="710.71" r="1.35" fill="#3aa898" fill-opacity="0.85"/>
<circle cx="410.42" cy="710.71" r="1.35" fill="#3aa898" fill-opacity="0.85"/>
<circle cx="411.17" cy="712.09" r="1.35" fill="#3aa898" fill-opacity="0.85"/>
<circle cx="410.52" cy="713.47" r="1.35" fill="#3aa898" fill-opacity="0.85"/>
<circle cx="408.67" cy="713.47" r="1.35" fill="#3aa898" fill-opacity="0.85"/>
<circle cx="411.70" cy="714.85" r="1.35" fill="#3aa898" fill-opacity="0.85"/>
<circle cx="405.37" cy="716.23" r="1.35" fill="#3aa898" fill-opacity="0.85"/>
<circle cx="405.91" cy="717.61" r="1.35" fill="#3aa898" fill-opacity="0.85"/>
<circle cx="406.45" cy="718.98" r="1.35" fill="#3aa898" fill-opacity="0.85"/>
<circle cx="406.04" cy="720.36" r="1.35" fill="#3aa898" fill-opacity="0.85"/>
<circle cx="410.32" cy="721.74" r="1.35" fill="#3aa898" fill-opacity="0.85"/>
<circle cx="411.37" cy="723.12" r="1.35" fill="#3aa898" fill-opacity="0.85"/>
<circle cx="409.70" cy="724.50" r="1.35" fill="#3aa898" fill-opacity="0.85"/>
<circle cx="407.53" cy="712.09" r="1.35" fill="#3aa898" fill-opacity="0.85"/>
<circle cx="409.61" cy="714.85" r="1.35" fill="#3aa898" fill-opacity="0.85"/>
<circle cx="409.03" cy="709.33" r="1.35" fill="#3aa898" fill-opacity="0.85"/>
<circle cx="412.12" cy="716.23" r="1.35" fill="#3aa898" fill-opacity="0.85"/>
<line x1="401.90" y1="712.78" x2="415.90" y2="712.78" stroke="#231f20" stroke-width="1.3"/>
<line x1="408.90" y1="710.02" x2="408.90" y2="715.54" stroke="#231f20" stroke-width="1.1700000000000002"/>
<line x1="406.30" y1="710.02" x2="411.50" y2="710.02" stroke="#231f20" stroke-width="1.1700000000000002"/>
<line x1="406.30" y1="715.54" x2="411.50" y2="715.54" stroke="#231f20" stroke-width="1.1700000000000002"/>
<text x="408.90" y="590.60" font-size="7.8" font-weight="bold" text-anchor="middle" fill="#333">ab</text>
<text x="408.90" y="739.10" font-size="7.4" text-anchor="middle" fill="#333" stroke="#333" stroke-width="0.28">24</text>
<line x1="432.58" y1="724.50" x2="432.58" y2="726.90" stroke="#231f20" stroke-width="0.9"/>
<circle cx="431.37" cy="607.28" r="1.35" fill="#d85a62" fill-opacity="0.85"/>
<circle cx="434.23" cy="647.28" r="1.35" fill="#d85a62" fill-opacity="0.85"/>
<circle cx="432.85" cy="648.65" r="1.35" fill="#d85a62" fill-opacity="0.85"/>
<circle cx="431.63" cy="652.79" r="1.35" fill="#d85a62" fill-opacity="0.85"/>
<circle cx="432.02" cy="655.55" r="1.35" fill="#d85a62" fill-opacity="0.85"/>
<circle cx="430.79" cy="658.31" r="1.35" fill="#d85a62" fill-opacity="0.85"/>
<circle cx="431.19" cy="659.69" r="1.35" fill="#d85a62" fill-opacity="0.85"/>
<circle cx="435.62" cy="661.07" r="1.35" fill="#d85a62" fill-opacity="0.85"/>
<circle cx="429.01" cy="662.45" r="1.35" fill="#d85a62" fill-opacity="0.85"/>
<circle cx="431.20" cy="663.82" r="1.35" fill="#d85a62" fill-opacity="0.85"/>
<circle cx="433.11" cy="666.58" r="1.35" fill="#d85a62" fill-opacity="0.85"/>
<circle cx="434.50" cy="667.96" r="1.35" fill="#d85a62" fill-opacity="0.85"/>
<circle cx="431.81" cy="669.34" r="1.35" fill="#d85a62" fill-opacity="0.85"/>
<circle cx="429.86" cy="672.10" r="1.35" fill="#d85a62" fill-opacity="0.85"/>
<circle cx="429.23" cy="674.86" r="1.35" fill="#d85a62" fill-opacity="0.85"/>
<circle cx="433.10" cy="695.54" r="1.35" fill="#d85a62" fill-opacity="0.85"/>
<line x1="425.58" y1="659.00" x2="439.58" y2="659.00" stroke="#231f20" stroke-width="1.3"/>
<line x1="432.58" y1="649.34" x2="432.58" y2="666.58" stroke="#231f20" stroke-width="1.1700000000000002"/>
<line x1="429.98" y1="649.34" x2="435.18" y2="649.34" stroke="#231f20" stroke-width="1.1700000000000002"/>
<line x1="429.98" y1="666.58" x2="435.18" y2="666.58" stroke="#231f20" stroke-width="1.1700000000000002"/>
<text x="432.58" y="590.60" font-size="7.8" font-weight="bold" text-anchor="middle" fill="#333">c</text>
<text x="432.58" y="739.10" font-size="7.4" text-anchor="middle" fill="#333" stroke="#333" stroke-width="0.28">16</text>
<line x1="456.26" y1="724.50" x2="456.26" y2="726.90" stroke="#231f20" stroke-width="0.9"/>
<circle cx="453.87" cy="656.93" r="1.35" fill="#d85a62" fill-opacity="0.85"/>
<circle cx="454.36" cy="659.69" r="1.35" fill="#d85a62" fill-opacity="0.85"/>
<circle cx="455.90" cy="662.45" r="1.35" fill="#d85a62" fill-opacity="0.85"/>
<circle cx="457.14" cy="666.58" r="1.35" fill="#d85a62" fill-opacity="0.85"/>
<circle cx="454.44" cy="669.34" r="1.35" fill="#d85a62" fill-opacity="0.85"/>
<circle cx="455.83" cy="670.72" r="1.35" fill="#d85a62" fill-opacity="0.85"/>
<circle cx="455.81" cy="672.10" r="1.35" fill="#d85a62" fill-opacity="0.85"/>
<circle cx="454.92" cy="674.86" r="1.35" fill="#d85a62" fill-opacity="0.85"/>
<circle cx="455.04" cy="676.24" r="1.35" fill="#d85a62" fill-opacity="0.85"/>
<circle cx="452.69" cy="677.61" r="1.35" fill="#d85a62" fill-opacity="0.85"/>
<circle cx="453.47" cy="678.99" r="1.35" fill="#d85a62" fill-opacity="0.85"/>
<circle cx="459.44" cy="681.75" r="1.35" fill="#d85a62" fill-opacity="0.85"/>
<circle cx="455.79" cy="684.51" r="1.35" fill="#d85a62" fill-opacity="0.85"/>
<circle cx="452.89" cy="687.27" r="1.35" fill="#d85a62" fill-opacity="0.85"/>
<circle cx="458.28" cy="690.02" r="1.35" fill="#d85a62" fill-opacity="0.85"/>
<circle cx="455.39" cy="691.40" r="1.35" fill="#d85a62" fill-opacity="0.85"/>
<line x1="449.26" y1="674.17" x2="463.26" y2="674.17" stroke="#231f20" stroke-width="1.3"/>
<line x1="456.26" y1="668.65" x2="456.26" y2="678.99" stroke="#231f20" stroke-width="1.1700000000000002"/>
<line x1="453.66" y1="668.65" x2="458.86" y2="668.65" stroke="#231f20" stroke-width="1.1700000000000002"/>
<line x1="453.66" y1="678.99" x2="458.86" y2="678.99" stroke="#231f20" stroke-width="1.1700000000000002"/>
<text x="456.26" y="590.60" font-size="7.8" font-weight="bold" text-anchor="middle" fill="#333">d</text>
<text x="456.26" y="739.10" font-size="7.4" text-anchor="middle" fill="#333" stroke="#333" stroke-width="0.28">16</text>
<line x1="479.94" y1="724.50" x2="479.94" y2="726.90" stroke="#231f20" stroke-width="0.9"/>
<circle cx="477.32" cy="647.28" r="1.35" fill="#d85a62" fill-opacity="0.85"/>
<circle cx="476.74" cy="651.41" r="1.35" fill="#d85a62" fill-opacity="0.85"/>
<circle cx="481.91" cy="655.55" r="1.35" fill="#d85a62" fill-opacity="0.85"/>
<circle cx="482.24" cy="661.07" r="1.35" fill="#d85a62" fill-opacity="0.85"/>
<circle cx="481.29" cy="663.82" r="1.35" fill="#d85a62" fill-opacity="0.85"/>
<circle cx="478.69" cy="666.58" r="1.35" fill="#d85a62" fill-opacity="0.85"/>
<circle cx="478.14" cy="669.34" r="1.35" fill="#d85a62" fill-opacity="0.85"/>
<circle cx="477.65" cy="672.10" r="1.35" fill="#d85a62" fill-opacity="0.85"/>
<circle cx="482.01" cy="673.48" r="1.35" fill="#d85a62" fill-opacity="0.85"/>
<circle cx="479.95" cy="676.24" r="1.35" fill="#d85a62" fill-opacity="0.85"/>
<circle cx="476.38" cy="678.99" r="1.35" fill="#d85a62" fill-opacity="0.85"/>
<circle cx="477.99" cy="681.75" r="1.35" fill="#d85a62" fill-opacity="0.85"/>
<circle cx="476.52" cy="684.51" r="1.35" fill="#d85a62" fill-opacity="0.85"/>
<circle cx="478.63" cy="687.27" r="1.35" fill="#d85a62" fill-opacity="0.85"/>
<circle cx="483.54" cy="695.54" r="1.35" fill="#d85a62" fill-opacity="0.85"/>
<circle cx="479.19" cy="696.92" r="1.35" fill="#d85a62" fill-opacity="0.85"/>
<line x1="472.94" y1="674.17" x2="486.94" y2="674.17" stroke="#231f20" stroke-width="1.3"/>
<line x1="479.94" y1="667.27" x2="479.94" y2="681.06" stroke="#231f20" stroke-width="1.1700000000000002"/>
<line x1="477.34" y1="667.27" x2="482.54" y2="667.27" stroke="#231f20" stroke-width="1.1700000000000002"/>
<line x1="477.34" y1="681.06" x2="482.54" y2="681.06" stroke="#231f20" stroke-width="1.1700000000000002"/>
<text x="479.94" y="590.60" font-size="7.8" font-weight="bold" text-anchor="middle" fill="#333">d</text>
<text x="479.94" y="739.10" font-size="7.4" text-anchor="middle" fill="#333" stroke="#333" stroke-width="0.28">16</text>
<line x1="503.62" y1="724.50" x2="503.62" y2="726.90" stroke="#231f20" stroke-width="0.9"/>
<circle cx="506.21" cy="699.68" r="1.35" fill="#3aa898" fill-opacity="0.85"/>
<circle cx="506.82" cy="706.57" r="1.35" fill="#3aa898" fill-opacity="0.85"/>
<circle cx="507.12" cy="707.95" r="1.35" fill="#3aa898" fill-opacity="0.85"/>
<circle cx="506.62" cy="709.33" r="1.35" fill="#3aa898" fill-opacity="0.85"/>
<circle cx="503.19" cy="710.71" r="1.35" fill="#3aa898" fill-opacity="0.85"/>
<circle cx="503.87" cy="712.09" r="1.35" fill="#3aa898" fill-opacity="0.85"/>
<circle cx="501.90" cy="713.47" r="1.35" fill="#3aa898" fill-opacity="0.85"/>
<circle cx="503.25" cy="714.85" r="1.35" fill="#3aa898" fill-opacity="0.85"/>
<circle cx="503.82" cy="716.23" r="1.35" fill="#3aa898" fill-opacity="0.85"/>
<circle cx="505.40" cy="717.61" r="1.35" fill="#3aa898" fill-opacity="0.85"/>
<circle cx="503.27" cy="718.98" r="1.35" fill="#3aa898" fill-opacity="0.85"/>
<circle cx="504.56" cy="720.36" r="1.35" fill="#3aa898" fill-opacity="0.85"/>
<circle cx="501.83" cy="720.36" r="1.35" fill="#3aa898" fill-opacity="0.85"/>
<circle cx="503.86" cy="721.74" r="1.35" fill="#3aa898" fill-opacity="0.85"/>
<circle cx="502.51" cy="721.74" r="1.35" fill="#3aa898" fill-opacity="0.85"/>
<circle cx="502.49" cy="723.12" r="1.35" fill="#3aa898" fill-opacity="0.85"/>
<circle cx="504.02" cy="723.12" r="1.35" fill="#3aa898" fill-opacity="0.85"/>
<circle cx="501.20" cy="724.50" r="1.35" fill="#3aa898" fill-opacity="0.85"/>
<circle cx="503.28" cy="724.50" r="1.35" fill="#3aa898" fill-opacity="0.85"/>
<circle cx="502.62" cy="724.50" r="1.35" fill="#3aa898" fill-opacity="0.85"/>
<circle cx="505.23" cy="718.98" r="1.35" fill="#3aa898" fill-opacity="0.85"/>
<line x1="496.62" y1="718.29" x2="510.62" y2="718.29" stroke="#231f20" stroke-width="1.3"/>
<line x1="503.62" y1="715.54" x2="503.62" y2="721.05" stroke="#231f20" stroke-width="1.1700000000000002"/>
<line x1="501.02" y1="715.54" x2="506.22" y2="715.54" stroke="#231f20" stroke-width="1.1700000000000002"/>
<line x1="501.02" y1="721.05" x2="506.22" y2="721.05" stroke="#231f20" stroke-width="1.1700000000000002"/>
<text x="503.62" y="590.60" font-size="7.8" font-weight="bold" text-anchor="middle" fill="#333">b</text>
<text x="503.62" y="739.10" font-size="7.4" text-anchor="middle" fill="#333" stroke="#333" stroke-width="0.28">21</text>
<line x1="527.30" y1="724.50" x2="527.30" y2="726.90" stroke="#231f20" stroke-width="0.9"/>
<circle cx="526.34" cy="687.27" r="1.35" fill="#3aa898" fill-opacity="0.85"/>
<circle cx="530.26" cy="696.92" r="1.35" fill="#3aa898" fill-opacity="0.85"/>
<circle cx="528.33" cy="698.30" r="1.35" fill="#3aa898" fill-opacity="0.85"/>
<circle cx="527.61" cy="699.68" r="1.35" fill="#3aa898" fill-opacity="0.85"/>
<circle cx="524.82" cy="701.06" r="1.35" fill="#3aa898" fill-opacity="0.85"/>
<circle cx="529.95" cy="702.44" r="1.35" fill="#3aa898" fill-opacity="0.85"/>
<circle cx="526.72" cy="703.82" r="1.35" fill="#3aa898" fill-opacity="0.85"/>
<circle cx="524.83" cy="705.19" r="1.35" fill="#3aa898" fill-opacity="0.85"/>
<circle cx="528.60" cy="706.57" r="1.35" fill="#3aa898" fill-opacity="0.85"/>
<circle cx="524.81" cy="707.95" r="1.35" fill="#3aa898" fill-opacity="0.85"/>
<circle cx="527.47" cy="709.33" r="1.35" fill="#3aa898" fill-opacity="0.85"/>
<circle cx="524.08" cy="710.71" r="1.35" fill="#3aa898" fill-opacity="0.85"/>
<circle cx="529.78" cy="712.09" r="1.35" fill="#3aa898" fill-opacity="0.85"/>
<circle cx="528.14" cy="713.47" r="1.35" fill="#3aa898" fill-opacity="0.85"/>
<circle cx="527.84" cy="714.85" r="1.35" fill="#3aa898" fill-opacity="0.85"/>
<circle cx="528.48" cy="716.23" r="1.35" fill="#3aa898" fill-opacity="0.85"/>
<circle cx="526.77" cy="717.61" r="1.35" fill="#3aa898" fill-opacity="0.85"/>
<circle cx="527.02" cy="718.98" r="1.35" fill="#3aa898" fill-opacity="0.85"/>
<circle cx="528.28" cy="720.36" r="1.35" fill="#3aa898" fill-opacity="0.85"/>
<circle cx="526.06" cy="721.74" r="1.35" fill="#3aa898" fill-opacity="0.85"/>
<circle cx="526.80" cy="723.12" r="1.35" fill="#3aa898" fill-opacity="0.85"/>
<circle cx="528.54" cy="724.50" r="1.35" fill="#3aa898" fill-opacity="0.85"/>
<circle cx="524.42" cy="710.71" r="1.35" fill="#3aa898" fill-opacity="0.85"/>
<circle cx="528.99" cy="707.95" r="1.35" fill="#3aa898" fill-opacity="0.85"/>
<circle cx="529.81" cy="713.47" r="1.35" fill="#3aa898" fill-opacity="0.85"/>
<line x1="520.30" y1="710.02" x2="534.30" y2="710.02" stroke="#231f20" stroke-width="1.3"/>
<line x1="527.30" y1="707.26" x2="527.30" y2="712.78" stroke="#231f20" stroke-width="1.1700000000000002"/>
<line x1="524.70" y1="707.26" x2="529.90" y2="707.26" stroke="#231f20" stroke-width="1.1700000000000002"/>
<line x1="524.70" y1="712.78" x2="529.90" y2="712.78" stroke="#231f20" stroke-width="1.1700000000000002"/>
<text x="527.30" y="590.60" font-size="7.8" font-weight="bold" text-anchor="middle" fill="#333">ab</text>
<text x="527.30" y="739.10" font-size="7.4" text-anchor="middle" fill="#333" stroke="#333" stroke-width="0.28">25</text>
<line x1="550.98" y1="724.50" x2="550.98" y2="726.90" stroke="#231f20" stroke-width="0.9"/>
<circle cx="548.58" cy="705.19" r="1.35" fill="#3aa898" fill-opacity="0.85"/>
<circle cx="548.76" cy="706.57" r="1.35" fill="#3aa898" fill-opacity="0.85"/>
<circle cx="552.42" cy="707.95" r="1.35" fill="#3aa898" fill-opacity="0.85"/>
<circle cx="553.39" cy="709.33" r="1.35" fill="#3aa898" fill-opacity="0.85"/>
<circle cx="551.81" cy="710.71" r="1.35" fill="#3aa898" fill-opacity="0.85"/>
<circle cx="549.71" cy="710.71" r="1.35" fill="#3aa898" fill-opacity="0.85"/>
<circle cx="547.42" cy="712.09" r="1.35" fill="#3aa898" fill-opacity="0.85"/>
<circle cx="553.44" cy="713.47" r="1.35" fill="#3aa898" fill-opacity="0.85"/>
<circle cx="548.02" cy="713.47" r="1.35" fill="#3aa898" fill-opacity="0.85"/>
<circle cx="548.52" cy="714.85" r="1.35" fill="#3aa898" fill-opacity="0.85"/>
<circle cx="549.12" cy="714.85" r="1.35" fill="#3aa898" fill-opacity="0.85"/>
<circle cx="549.79" cy="716.23" r="1.35" fill="#3aa898" fill-opacity="0.85"/>
<circle cx="553.35" cy="716.23" r="1.35" fill="#3aa898" fill-opacity="0.85"/>
<circle cx="549.46" cy="717.61" r="1.35" fill="#3aa898" fill-opacity="0.85"/>
<circle cx="551.86" cy="717.61" r="1.35" fill="#3aa898" fill-opacity="0.85"/>
<circle cx="551.80" cy="718.98" r="1.35" fill="#3aa898" fill-opacity="0.85"/>
<circle cx="549.72" cy="720.36" r="1.35" fill="#3aa898" fill-opacity="0.85"/>
<circle cx="549.77" cy="721.74" r="1.35" fill="#3aa898" fill-opacity="0.85"/>
<circle cx="550.24" cy="723.12" r="1.35" fill="#3aa898" fill-opacity="0.85"/>
<circle cx="548.02" cy="724.50" r="1.35" fill="#3aa898" fill-opacity="0.85"/>
<circle cx="551.17" cy="716.23" r="1.35" fill="#3aa898" fill-opacity="0.85"/>
<circle cx="547.82" cy="713.47" r="1.35" fill="#3aa898" fill-opacity="0.85"/>
<circle cx="551.36" cy="718.98" r="1.35" fill="#3aa898" fill-opacity="0.85"/>
<line x1="543.98" y1="714.85" x2="557.98" y2="714.85" stroke="#231f20" stroke-width="1.3"/>
<line x1="550.98" y1="712.78" x2="550.98" y2="716.92" stroke="#231f20" stroke-width="1.1700000000000002"/>
<line x1="548.38" y1="712.78" x2="553.58" y2="712.78" stroke="#231f20" stroke-width="1.1700000000000002"/>
<line x1="548.38" y1="716.92" x2="553.58" y2="716.92" stroke="#231f20" stroke-width="1.1700000000000002"/>
<text x="550.98" y="590.60" font-size="7.8" font-weight="bold" text-anchor="middle" fill="#333">ab</text>
<text x="550.98" y="739.10" font-size="7.4" text-anchor="middle" fill="#333" stroke="#333" stroke-width="0.28">23</text>
<line x1="574.66" y1="724.50" x2="574.66" y2="726.90" stroke="#231f20" stroke-width="0.9"/>
<circle cx="576.44" cy="698.30" r="1.35" fill="#ee7b52" fill-opacity="0.85"/>
<circle cx="574.66" cy="702.44" r="1.35" fill="#ee7b52" fill-opacity="0.85"/>
<circle cx="571.86" cy="703.82" r="1.35" fill="#ee7b52" fill-opacity="0.85"/>
<circle cx="575.02" cy="706.57" r="1.35" fill="#ee7b52" fill-opacity="0.85"/>
<circle cx="572.80" cy="707.95" r="1.35" fill="#ee7b52" fill-opacity="0.85"/>
<circle cx="574.90" cy="709.33" r="1.35" fill="#ee7b52" fill-opacity="0.85"/>
<circle cx="578.24" cy="710.71" r="1.35" fill="#ee7b52" fill-opacity="0.85"/>
<circle cx="574.94" cy="712.09" r="1.35" fill="#ee7b52" fill-opacity="0.85"/>
<circle cx="571.36" cy="713.47" r="1.35" fill="#ee7b52" fill-opacity="0.85"/>
<circle cx="572.34" cy="714.85" r="1.35" fill="#ee7b52" fill-opacity="0.85"/>
<circle cx="577.53" cy="716.23" r="1.35" fill="#ee7b52" fill-opacity="0.85"/>
<circle cx="572.17" cy="717.61" r="1.35" fill="#ee7b52" fill-opacity="0.85"/>
<circle cx="573.78" cy="718.98" r="1.35" fill="#ee7b52" fill-opacity="0.85"/>
<circle cx="571.38" cy="720.36" r="1.35" fill="#ee7b52" fill-opacity="0.85"/>
<circle cx="573.38" cy="721.74" r="1.35" fill="#ee7b52" fill-opacity="0.85"/>
<circle cx="573.66" cy="723.12" r="1.35" fill="#ee7b52" fill-opacity="0.85"/>
<circle cx="578.12" cy="724.50" r="1.35" fill="#ee7b52" fill-opacity="0.85"/>
<circle cx="577.80" cy="724.50" r="1.35" fill="#ee7b52" fill-opacity="0.85"/>
<circle cx="571.89" cy="714.85" r="1.35" fill="#ee7b52" fill-opacity="0.85"/>
<circle cx="576.63" cy="712.09" r="1.35" fill="#ee7b52" fill-opacity="0.85"/>
<circle cx="572.87" cy="717.61" r="1.35" fill="#ee7b52" fill-opacity="0.85"/>
<circle cx="574.95" cy="720.36" r="1.35" fill="#ee7b52" fill-opacity="0.85"/>
<line x1="567.66" y1="714.85" x2="581.66" y2="714.85" stroke="#231f20" stroke-width="1.3"/>
<line x1="574.66" y1="712.09" x2="574.66" y2="717.61" stroke="#231f20" stroke-width="1.1700000000000002"/>
<line x1="572.06" y1="712.09" x2="577.26" y2="712.09" stroke="#231f20" stroke-width="1.1700000000000002"/>
<line x1="572.06" y1="717.61" x2="577.26" y2="717.61" stroke="#231f20" stroke-width="1.1700000000000002"/>
<text x="574.66" y="590.60" font-size="7.8" font-weight="bold" text-anchor="middle" fill="#333">ab</text>
<text x="574.66" y="739.10" font-size="7.4" text-anchor="middle" fill="#333" stroke="#333" stroke-width="0.28">22</text>
<line x1="598.34" y1="724.50" x2="598.34" y2="726.90" stroke="#231f20" stroke-width="0.9"/>
<circle cx="600.25" cy="699.68" r="1.35" fill="#ee7b52" fill-opacity="0.85"/>
<circle cx="600.45" cy="701.06" r="1.35" fill="#ee7b52" fill-opacity="0.85"/>
<circle cx="595.72" cy="702.44" r="1.35" fill="#ee7b52" fill-opacity="0.85"/>
<circle cx="601.17" cy="705.19" r="1.35" fill="#ee7b52" fill-opacity="0.85"/>
<circle cx="600.73" cy="706.57" r="1.35" fill="#ee7b52" fill-opacity="0.85"/>
<circle cx="600.70" cy="707.95" r="1.35" fill="#ee7b52" fill-opacity="0.85"/>
<circle cx="599.84" cy="709.33" r="1.35" fill="#ee7b52" fill-opacity="0.85"/>
<circle cx="601.71" cy="710.71" r="1.35" fill="#ee7b52" fill-opacity="0.85"/>
<circle cx="600.62" cy="712.09" r="1.35" fill="#ee7b52" fill-opacity="0.85"/>
<circle cx="601.23" cy="713.47" r="1.35" fill="#ee7b52" fill-opacity="0.85"/>
<circle cx="597.75" cy="714.85" r="1.35" fill="#ee7b52" fill-opacity="0.85"/>
<circle cx="595.30" cy="716.23" r="1.35" fill="#ee7b52" fill-opacity="0.85"/>
<circle cx="601.88" cy="717.61" r="1.35" fill="#ee7b52" fill-opacity="0.85"/>
<circle cx="600.08" cy="718.98" r="1.35" fill="#ee7b52" fill-opacity="0.85"/>
<circle cx="601.73" cy="720.36" r="1.35" fill="#ee7b52" fill-opacity="0.85"/>
<circle cx="600.67" cy="721.74" r="1.35" fill="#ee7b52" fill-opacity="0.85"/>
<circle cx="601.80" cy="723.12" r="1.35" fill="#ee7b52" fill-opacity="0.85"/>
<circle cx="600.02" cy="724.50" r="1.35" fill="#ee7b52" fill-opacity="0.85"/>
<circle cx="595.31" cy="710.71" r="1.35" fill="#ee7b52" fill-opacity="0.85"/>
<circle cx="600.09" cy="713.47" r="1.35" fill="#ee7b52" fill-opacity="0.85"/>
<circle cx="597.78" cy="712.09" r="1.35" fill="#ee7b52" fill-opacity="0.85"/>
<line x1="591.34" y1="712.09" x2="605.34" y2="712.09" stroke="#231f20" stroke-width="1.3"/>
<line x1="598.34" y1="709.33" x2="598.34" y2="714.85" stroke="#231f20" stroke-width="1.1700000000000002"/>
<line x1="595.74" y1="709.33" x2="600.94" y2="709.33" stroke="#231f20" stroke-width="1.1700000000000002"/>
<line x1="595.74" y1="714.85" x2="600.94" y2="714.85" stroke="#231f20" stroke-width="1.1700000000000002"/>
<text x="598.34" y="590.60" font-size="7.8" font-weight="bold" text-anchor="middle" fill="#333">ab</text>
<text x="598.34" y="739.10" font-size="7.4" text-anchor="middle" fill="#333" stroke="#333" stroke-width="0.28">21</text>
<line x1="622.02" y1="724.50" x2="622.02" y2="726.90" stroke="#231f20" stroke-width="0.9"/>
<circle cx="618.78" cy="695.54" r="1.35" fill="#ee7b52" fill-opacity="0.85"/>
<circle cx="619.53" cy="696.92" r="1.35" fill="#ee7b52" fill-opacity="0.85"/>
<circle cx="625.42" cy="699.68" r="1.35" fill="#ee7b52" fill-opacity="0.85"/>
<circle cx="620.21" cy="701.06" r="1.35" fill="#ee7b52" fill-opacity="0.85"/>
<circle cx="618.98" cy="702.44" r="1.35" fill="#ee7b52" fill-opacity="0.85"/>
<circle cx="619.16" cy="703.82" r="1.35" fill="#ee7b52" fill-opacity="0.85"/>
<circle cx="622.21" cy="705.19" r="1.35" fill="#ee7b52" fill-opacity="0.85"/>
<circle cx="621.25" cy="706.57" r="1.35" fill="#ee7b52" fill-opacity="0.85"/>
<circle cx="623.63" cy="707.95" r="1.35" fill="#ee7b52" fill-opacity="0.85"/>
<circle cx="620.86" cy="709.33" r="1.35" fill="#ee7b52" fill-opacity="0.85"/>
<circle cx="619.58" cy="710.71" r="1.35" fill="#ee7b52" fill-opacity="0.85"/>
<circle cx="623.99" cy="712.09" r="1.35" fill="#ee7b52" fill-opacity="0.85"/>
<circle cx="619.46" cy="713.47" r="1.35" fill="#ee7b52" fill-opacity="0.85"/>
<circle cx="622.51" cy="714.85" r="1.35" fill="#ee7b52" fill-opacity="0.85"/>
<circle cx="624.05" cy="716.23" r="1.35" fill="#ee7b52" fill-opacity="0.85"/>
<circle cx="620.16" cy="717.61" r="1.35" fill="#ee7b52" fill-opacity="0.85"/>
<circle cx="619.87" cy="718.98" r="1.35" fill="#ee7b52" fill-opacity="0.85"/>
<circle cx="621.35" cy="720.36" r="1.35" fill="#ee7b52" fill-opacity="0.85"/>
<circle cx="619.28" cy="721.74" r="1.35" fill="#ee7b52" fill-opacity="0.85"/>
<circle cx="622.91" cy="723.12" r="1.35" fill="#ee7b52" fill-opacity="0.85"/>
<circle cx="622.62" cy="724.50" r="1.35" fill="#ee7b52" fill-opacity="0.85"/>
<circle cx="624.53" cy="710.71" r="1.35" fill="#ee7b52" fill-opacity="0.85"/>
<line x1="615.02" y1="710.71" x2="629.02" y2="710.71" stroke="#231f20" stroke-width="1.3"/>
<line x1="622.02" y1="707.26" x2="622.02" y2="714.16" stroke="#231f20" stroke-width="1.1700000000000002"/>
<line x1="619.42" y1="707.26" x2="624.62" y2="707.26" stroke="#231f20" stroke-width="1.1700000000000002"/>
<line x1="619.42" y1="714.16" x2="624.62" y2="714.16" stroke="#231f20" stroke-width="1.1700000000000002"/>
<text x="622.02" y="590.60" font-size="7.8" font-weight="bold" text-anchor="middle" fill="#333">ab</text>
<text x="622.02" y="739.10" font-size="7.4" text-anchor="middle" fill="#333" stroke="#333" stroke-width="0.28">22</text>
<line x1="645.70" y1="724.50" x2="645.70" y2="726.90" stroke="#231f20" stroke-width="0.9"/>
<circle cx="648.15" cy="672.10" r="1.35" fill="#ee7b52" fill-opacity="0.85"/>
<circle cx="644.79" cy="694.16" r="1.35" fill="#ee7b52" fill-opacity="0.85"/>
<circle cx="647.43" cy="696.92" r="1.35" fill="#ee7b52" fill-opacity="0.85"/>
<circle cx="644.30" cy="698.30" r="1.35" fill="#ee7b52" fill-opacity="0.85"/>
<circle cx="644.86" cy="699.68" r="1.35" fill="#ee7b52" fill-opacity="0.85"/>
<circle cx="648.50" cy="701.06" r="1.35" fill="#ee7b52" fill-opacity="0.85"/>
<circle cx="644.43" cy="702.44" r="1.35" fill="#ee7b52" fill-opacity="0.85"/>
<circle cx="648.56" cy="703.82" r="1.35" fill="#ee7b52" fill-opacity="0.85"/>
<circle cx="643.38" cy="705.19" r="1.35" fill="#ee7b52" fill-opacity="0.85"/>
<circle cx="644.69" cy="706.57" r="1.35" fill="#ee7b52" fill-opacity="0.85"/>
<circle cx="642.74" cy="707.95" r="1.35" fill="#ee7b52" fill-opacity="0.85"/>
<circle cx="643.48" cy="709.33" r="1.35" fill="#ee7b52" fill-opacity="0.85"/>
<circle cx="646.83" cy="710.71" r="1.35" fill="#ee7b52" fill-opacity="0.85"/>
<circle cx="646.66" cy="712.09" r="1.35" fill="#ee7b52" fill-opacity="0.85"/>
<circle cx="644.69" cy="713.47" r="1.35" fill="#ee7b52" fill-opacity="0.85"/>
<circle cx="643.59" cy="714.85" r="1.35" fill="#ee7b52" fill-opacity="0.85"/>
<circle cx="648.97" cy="716.23" r="1.35" fill="#ee7b52" fill-opacity="0.85"/>
<circle cx="644.63" cy="717.61" r="1.35" fill="#ee7b52" fill-opacity="0.85"/>
<circle cx="646.45" cy="718.98" r="1.35" fill="#ee7b52" fill-opacity="0.85"/>
<circle cx="648.73" cy="721.74" r="1.35" fill="#ee7b52" fill-opacity="0.85"/>
<circle cx="649.22" cy="724.50" r="1.35" fill="#ee7b52" fill-opacity="0.85"/>
<circle cx="645.74" cy="705.19" r="1.35" fill="#ee7b52" fill-opacity="0.85"/>
<line x1="638.70" y1="705.88" x2="652.70" y2="705.88" stroke="#231f20" stroke-width="1.3"/>
<line x1="645.70" y1="701.75" x2="645.70" y2="709.33" stroke="#231f20" stroke-width="1.1700000000000002"/>
<line x1="643.10" y1="701.75" x2="648.30" y2="701.75" stroke="#231f20" stroke-width="1.1700000000000002"/>
<line x1="643.10" y1="709.33" x2="648.30" y2="709.33" stroke="#231f20" stroke-width="1.1700000000000002"/>
<text x="645.70" y="590.60" font-size="7.8" font-weight="bold" text-anchor="middle" fill="#333">a</text>
<text x="645.70" y="739.10" font-size="7.4" text-anchor="middle" fill="#333" stroke="#333" stroke-width="0.28">22</text>
<line x1="669.38" y1="724.50" x2="669.38" y2="726.90" stroke="#231f20" stroke-width="0.9"/>
<circle cx="671.40" cy="676.24" r="1.35" fill="#ee7b52" fill-opacity="0.85"/>
<circle cx="665.84" cy="688.65" r="1.35" fill="#ee7b52" fill-opacity="0.85"/>
<circle cx="668.00" cy="694.16" r="1.35" fill="#ee7b52" fill-opacity="0.85"/>
<circle cx="668.89" cy="698.30" r="1.35" fill="#ee7b52" fill-opacity="0.85"/>
<circle cx="667.95" cy="701.06" r="1.35" fill="#ee7b52" fill-opacity="0.85"/>
<circle cx="672.81" cy="702.44" r="1.35" fill="#ee7b52" fill-opacity="0.85"/>
<circle cx="670.96" cy="703.82" r="1.35" fill="#ee7b52" fill-opacity="0.85"/>
<circle cx="671.44" cy="705.19" r="1.35" fill="#ee7b52" fill-opacity="0.85"/>
<circle cx="671.82" cy="706.57" r="1.35" fill="#ee7b52" fill-opacity="0.85"/>
<circle cx="668.72" cy="707.95" r="1.35" fill="#ee7b52" fill-opacity="0.85"/>
<circle cx="666.53" cy="709.33" r="1.35" fill="#ee7b52" fill-opacity="0.85"/>
<circle cx="672.21" cy="710.71" r="1.35" fill="#ee7b52" fill-opacity="0.85"/>
<circle cx="669.06" cy="712.09" r="1.35" fill="#ee7b52" fill-opacity="0.85"/>
<circle cx="668.01" cy="713.47" r="1.35" fill="#ee7b52" fill-opacity="0.85"/>
<circle cx="667.09" cy="714.85" r="1.35" fill="#ee7b52" fill-opacity="0.85"/>
<circle cx="672.19" cy="716.23" r="1.35" fill="#ee7b52" fill-opacity="0.85"/>
<circle cx="670.71" cy="717.61" r="1.35" fill="#ee7b52" fill-opacity="0.85"/>
<circle cx="668.68" cy="718.98" r="1.35" fill="#ee7b52" fill-opacity="0.85"/>
<circle cx="669.71" cy="720.36" r="1.35" fill="#ee7b52" fill-opacity="0.85"/>
<circle cx="669.54" cy="721.74" r="1.35" fill="#ee7b52" fill-opacity="0.85"/>
<circle cx="669.28" cy="723.12" r="1.35" fill="#ee7b52" fill-opacity="0.85"/>
<circle cx="668.63" cy="724.50" r="1.35" fill="#ee7b52" fill-opacity="0.85"/>
<circle cx="668.26" cy="709.33" r="1.35" fill="#ee7b52" fill-opacity="0.85"/>
<circle cx="668.90" cy="712.09" r="1.35" fill="#ee7b52" fill-opacity="0.85"/>
<line x1="662.38" y1="710.02" x2="676.38" y2="710.02" stroke="#231f20" stroke-width="1.3"/>
<line x1="669.38" y1="705.88" x2="669.38" y2="714.16" stroke="#231f20" stroke-width="1.1700000000000002"/>
<line x1="666.78" y1="705.88" x2="671.98" y2="705.88" stroke="#231f20" stroke-width="1.1700000000000002"/>
<line x1="666.78" y1="714.16" x2="671.98" y2="714.16" stroke="#231f20" stroke-width="1.1700000000000002"/>
<text x="669.38" y="590.60" font-size="7.8" font-weight="bold" text-anchor="middle" fill="#333">ab</text>
<text x="669.38" y="739.10" font-size="7.4" text-anchor="middle" fill="#333" stroke="#333" stroke-width="0.28">24</text>
<line x1="425.00" y1="753.20" x2="485.50" y2="753.20" stroke="#231f20" stroke-width="1.2"/>
<line x1="497.30" y1="753.20" x2="558.60" y2="753.20" stroke="#231f20" stroke-width="1.2"/>
<line x1="571.60" y1="753.20" x2="678.80" y2="753.20" stroke="#231f20" stroke-width="1.2"/>
<text x="455.50" y="765.20" font-size="10.4" font-weight="bold" font-style="italic" text-anchor="middle" fill="#231f20">tsk-4</text>
<text x="528.40" y="765.20" font-size="10.4" font-weight="bold" font-style="italic" text-anchor="middle" fill="#231f20">wee1-2</text>
<text x="625.80" y="765.20" font-size="10.4" font-weight="bold" font-style="italic" text-anchor="middle" fill="#231f20">tsk-4 wee1-2</text>
<text x="62.10" y="751.50" font-size="10.4" font-weight="bold" text-anchor="middle" fill="#231f20">Col-0</text>
<text x="410.60" y="751.50" font-size="10.4" font-weight="bold" text-anchor="middle" fill="#231f20">Col-0</text>
<text x="89.85" y="751.00" font-size="7.6" font-weight="bold" font-style="italic" text-anchor="middle" fill="#231f20">#1</text>
<text x="118.10" y="751.00" font-size="7.6" font-weight="bold" font-style="italic" text-anchor="middle" fill="#231f20">#2</text>
<text x="146.35" y="751.00" font-size="7.6" font-weight="bold" font-style="italic" text-anchor="middle" fill="#231f20">#1</text>
<text x="174.60" y="751.00" font-size="7.6" font-weight="bold" font-style="italic" text-anchor="middle" fill="#231f20">#2</text>
<text x="202.85" y="751.00" font-size="7.6" font-weight="bold" font-style="italic" text-anchor="middle" fill="#231f20">#1</text>
<text x="231.10" y="751.00" font-size="7.6" font-weight="bold" font-style="italic" text-anchor="middle" fill="#231f20">#2</text>
<text x="259.35" y="751.00" font-size="7.6" font-weight="bold" font-style="italic" text-anchor="middle" fill="#231f20">#3</text>
<text x="287.60" y="751.00" font-size="7.6" font-weight="bold" font-style="italic" text-anchor="middle" fill="#231f20">#4</text>
<text x="315.85" y="751.00" font-size="7.6" font-weight="bold" font-style="italic" text-anchor="middle" fill="#231f20">#5</text>
<text x="432.58" y="751.00" font-size="7.6" font-weight="bold" font-style="italic" text-anchor="middle" fill="#231f20">#1</text>
<text x="456.26" y="751.00" font-size="7.6" font-weight="bold" font-style="italic" text-anchor="middle" fill="#231f20">#2</text>
<text x="479.94" y="751.00" font-size="7.6" font-weight="bold" font-style="italic" text-anchor="middle" fill="#231f20">#3</text>
<text x="503.62" y="751.00" font-size="7.6" font-weight="bold" font-style="italic" text-anchor="middle" fill="#231f20">#1</text>
<text x="527.30" y="751.00" font-size="7.6" font-weight="bold" font-style="italic" text-anchor="middle" fill="#231f20">#2</text>
<text x="550.98" y="751.00" font-size="7.6" font-weight="bold" font-style="italic" text-anchor="middle" fill="#231f20">#3</text>
<text x="574.66" y="751.00" font-size="7.6" font-weight="bold" font-style="italic" text-anchor="middle" fill="#231f20">#1</text>
<text x="598.34" y="751.00" font-size="7.6" font-weight="bold" font-style="italic" text-anchor="middle" fill="#231f20">#2</text>
<text x="622.02" y="751.00" font-size="7.6" font-weight="bold" font-style="italic" text-anchor="middle" fill="#231f20">#3</text>
<text x="645.70" y="751.00" font-size="7.6" font-weight="bold" font-style="italic" text-anchor="middle" fill="#231f20">#4</text>
<text x="669.38" y="751.00" font-size="7.6" font-weight="bold" font-style="italic" text-anchor="middle" fill="#231f20">#5</text>
</svg>
</body></html>
